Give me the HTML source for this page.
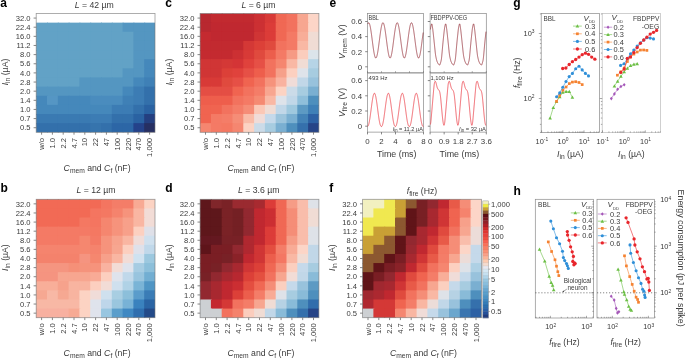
<!DOCTYPE html>
<html><head><meta charset="utf-8"><style>
html,body{margin:0;padding:0;background:#fff;overflow:hidden;}
svg{display:block;will-change:transform;}
text{font-family:"Liberation Sans", sans-serif;}
</style></head><body>
<svg width="685" height="358" viewBox="0 0 685 358">
<rect width="685" height="358" fill="#fff"/>
<rect x="36.20" y="13.50" width="11.80" height="10.14" fill="#ffffff"/>
<rect x="47.00" y="13.50" width="11.80" height="10.14" fill="#ffffff"/>
<rect x="57.80" y="13.50" width="11.80" height="10.14" fill="#ffffff"/>
<rect x="68.60" y="13.50" width="11.80" height="10.14" fill="#ffffff"/>
<rect x="79.40" y="13.50" width="11.80" height="10.14" fill="#ffffff"/>
<rect x="90.20" y="13.50" width="11.80" height="10.14" fill="#ffffff"/>
<rect x="101.00" y="13.50" width="11.80" height="10.14" fill="#ffffff"/>
<rect x="111.80" y="13.50" width="11.80" height="10.14" fill="#ffffff"/>
<rect x="122.60" y="13.50" width="11.80" height="10.14" fill="#ffffff"/>
<rect x="133.40" y="13.50" width="11.80" height="10.14" fill="#ffffff"/>
<rect x="144.20" y="13.50" width="10.80" height="10.14" fill="#ffffff"/>
<rect x="36.20" y="22.64" width="11.80" height="10.14" fill="#62a2c6"/>
<rect x="47.00" y="22.64" width="11.80" height="10.14" fill="#62a2c6"/>
<rect x="57.80" y="22.64" width="11.80" height="10.14" fill="#62a2c6"/>
<rect x="68.60" y="22.64" width="11.80" height="10.14" fill="#62a2c6"/>
<rect x="79.40" y="22.64" width="11.80" height="10.14" fill="#62a2c6"/>
<rect x="90.20" y="22.64" width="11.80" height="10.14" fill="#62a2c6"/>
<rect x="101.00" y="22.64" width="11.80" height="10.14" fill="#62a2c6"/>
<rect x="111.80" y="22.64" width="11.80" height="10.14" fill="#62a2c6"/>
<rect x="122.60" y="22.64" width="11.80" height="10.14" fill="#5496c1"/>
<rect x="133.40" y="22.64" width="11.80" height="10.14" fill="#5496c1"/>
<rect x="144.20" y="22.64" width="10.80" height="10.14" fill="#5496c1"/>
<rect x="36.20" y="31.78" width="11.80" height="10.14" fill="#62a2c6"/>
<rect x="47.00" y="31.78" width="11.80" height="10.14" fill="#62a2c6"/>
<rect x="57.80" y="31.78" width="11.80" height="10.14" fill="#62a2c6"/>
<rect x="68.60" y="31.78" width="11.80" height="10.14" fill="#62a2c6"/>
<rect x="79.40" y="31.78" width="11.80" height="10.14" fill="#62a2c6"/>
<rect x="90.20" y="31.78" width="11.80" height="10.14" fill="#62a2c6"/>
<rect x="101.00" y="31.78" width="11.80" height="10.14" fill="#62a2c6"/>
<rect x="111.80" y="31.78" width="11.80" height="10.14" fill="#62a2c6"/>
<rect x="122.60" y="31.78" width="11.80" height="10.14" fill="#62a2c6"/>
<rect x="133.40" y="31.78" width="11.80" height="10.14" fill="#5496c1"/>
<rect x="144.20" y="31.78" width="10.80" height="10.14" fill="#5496c1"/>
<rect x="36.20" y="40.92" width="11.80" height="10.14" fill="#62a2c6"/>
<rect x="47.00" y="40.92" width="11.80" height="10.14" fill="#62a2c6"/>
<rect x="57.80" y="40.92" width="11.80" height="10.14" fill="#62a2c6"/>
<rect x="68.60" y="40.92" width="11.80" height="10.14" fill="#62a2c6"/>
<rect x="79.40" y="40.92" width="11.80" height="10.14" fill="#62a2c6"/>
<rect x="90.20" y="40.92" width="11.80" height="10.14" fill="#62a2c6"/>
<rect x="101.00" y="40.92" width="11.80" height="10.14" fill="#62a2c6"/>
<rect x="111.80" y="40.92" width="11.80" height="10.14" fill="#62a2c6"/>
<rect x="122.60" y="40.92" width="11.80" height="10.14" fill="#62a2c6"/>
<rect x="133.40" y="40.92" width="11.80" height="10.14" fill="#5496c1"/>
<rect x="144.20" y="40.92" width="10.80" height="10.14" fill="#5496c1"/>
<rect x="36.20" y="50.05" width="11.80" height="10.14" fill="#62a2c6"/>
<rect x="47.00" y="50.05" width="11.80" height="10.14" fill="#62a2c6"/>
<rect x="57.80" y="50.05" width="11.80" height="10.14" fill="#62a2c6"/>
<rect x="68.60" y="50.05" width="11.80" height="10.14" fill="#62a2c6"/>
<rect x="79.40" y="50.05" width="11.80" height="10.14" fill="#62a2c6"/>
<rect x="90.20" y="50.05" width="11.80" height="10.14" fill="#62a2c6"/>
<rect x="101.00" y="50.05" width="11.80" height="10.14" fill="#62a2c6"/>
<rect x="111.80" y="50.05" width="11.80" height="10.14" fill="#62a2c6"/>
<rect x="122.60" y="50.05" width="11.80" height="10.14" fill="#62a2c6"/>
<rect x="133.40" y="50.05" width="11.80" height="10.14" fill="#5496c1"/>
<rect x="144.20" y="50.05" width="10.80" height="10.14" fill="#5496c1"/>
<rect x="36.20" y="59.19" width="11.80" height="10.14" fill="#62a2c6"/>
<rect x="47.00" y="59.19" width="11.80" height="10.14" fill="#62a2c6"/>
<rect x="57.80" y="59.19" width="11.80" height="10.14" fill="#62a2c6"/>
<rect x="68.60" y="59.19" width="11.80" height="10.14" fill="#62a2c6"/>
<rect x="79.40" y="59.19" width="11.80" height="10.14" fill="#62a2c6"/>
<rect x="90.20" y="59.19" width="11.80" height="10.14" fill="#62a2c6"/>
<rect x="101.00" y="59.19" width="11.80" height="10.14" fill="#62a2c6"/>
<rect x="111.80" y="59.19" width="11.80" height="10.14" fill="#62a2c6"/>
<rect x="122.60" y="59.19" width="11.80" height="10.14" fill="#62a2c6"/>
<rect x="133.40" y="59.19" width="11.80" height="10.14" fill="#5496c1"/>
<rect x="144.20" y="59.19" width="10.80" height="10.14" fill="#4588bb"/>
<rect x="36.20" y="68.33" width="11.80" height="10.14" fill="#62a2c6"/>
<rect x="47.00" y="68.33" width="11.80" height="10.14" fill="#62a2c6"/>
<rect x="57.80" y="68.33" width="11.80" height="10.14" fill="#62a2c6"/>
<rect x="68.60" y="68.33" width="11.80" height="10.14" fill="#62a2c6"/>
<rect x="79.40" y="68.33" width="11.80" height="10.14" fill="#62a2c6"/>
<rect x="90.20" y="68.33" width="11.80" height="10.14" fill="#62a2c6"/>
<rect x="101.00" y="68.33" width="11.80" height="10.14" fill="#62a2c6"/>
<rect x="111.80" y="68.33" width="11.80" height="10.14" fill="#62a2c6"/>
<rect x="122.60" y="68.33" width="11.80" height="10.14" fill="#5496c1"/>
<rect x="133.40" y="68.33" width="11.80" height="10.14" fill="#5496c1"/>
<rect x="144.20" y="68.33" width="10.80" height="10.14" fill="#4588bb"/>
<rect x="36.20" y="77.47" width="11.80" height="10.14" fill="#62a2c6"/>
<rect x="47.00" y="77.47" width="11.80" height="10.14" fill="#62a2c6"/>
<rect x="57.80" y="77.47" width="11.80" height="10.14" fill="#62a2c6"/>
<rect x="68.60" y="77.47" width="11.80" height="10.14" fill="#62a2c6"/>
<rect x="79.40" y="77.47" width="11.80" height="10.14" fill="#5496c1"/>
<rect x="90.20" y="77.47" width="11.80" height="10.14" fill="#5496c1"/>
<rect x="101.00" y="77.47" width="11.80" height="10.14" fill="#5496c1"/>
<rect x="111.80" y="77.47" width="11.80" height="10.14" fill="#5496c1"/>
<rect x="122.60" y="77.47" width="11.80" height="10.14" fill="#5496c1"/>
<rect x="133.40" y="77.47" width="11.80" height="10.14" fill="#4588bb"/>
<rect x="144.20" y="77.47" width="10.80" height="10.14" fill="#3f80b6"/>
<rect x="36.20" y="86.61" width="11.80" height="10.14" fill="#5496c1"/>
<rect x="47.00" y="86.61" width="11.80" height="10.14" fill="#5496c1"/>
<rect x="57.80" y="86.61" width="11.80" height="10.14" fill="#5496c1"/>
<rect x="68.60" y="86.61" width="11.80" height="10.14" fill="#5496c1"/>
<rect x="79.40" y="86.61" width="11.80" height="10.14" fill="#5496c1"/>
<rect x="90.20" y="86.61" width="11.80" height="10.14" fill="#5496c1"/>
<rect x="101.00" y="86.61" width="11.80" height="10.14" fill="#5496c1"/>
<rect x="111.80" y="86.61" width="11.80" height="10.14" fill="#5496c1"/>
<rect x="122.60" y="86.61" width="11.80" height="10.14" fill="#4588bb"/>
<rect x="133.40" y="86.61" width="11.80" height="10.14" fill="#3c7cb4"/>
<rect x="144.20" y="86.61" width="10.80" height="10.14" fill="#3370ab"/>
<rect x="36.20" y="95.75" width="11.80" height="10.14" fill="#4588bb"/>
<rect x="47.00" y="95.75" width="11.80" height="10.14" fill="#5596c4"/>
<rect x="57.80" y="95.75" width="11.80" height="10.14" fill="#4588bb"/>
<rect x="68.60" y="95.75" width="11.80" height="10.14" fill="#4588bb"/>
<rect x="79.40" y="95.75" width="11.80" height="10.14" fill="#4588bb"/>
<rect x="90.20" y="95.75" width="11.80" height="10.14" fill="#4a8cbe"/>
<rect x="101.00" y="95.75" width="11.80" height="10.14" fill="#4a8cbe"/>
<rect x="111.80" y="95.75" width="11.80" height="10.14" fill="#4a8cbe"/>
<rect x="122.60" y="95.75" width="11.80" height="10.14" fill="#3f80b6"/>
<rect x="133.40" y="95.75" width="11.80" height="10.14" fill="#3c7cb4"/>
<rect x="144.20" y="95.75" width="10.80" height="10.14" fill="#3370ab"/>
<rect x="36.20" y="104.88" width="11.80" height="10.14" fill="#4588bb"/>
<rect x="47.00" y="104.88" width="11.80" height="10.14" fill="#4588bb"/>
<rect x="57.80" y="104.88" width="11.80" height="10.14" fill="#4588bb"/>
<rect x="68.60" y="104.88" width="11.80" height="10.14" fill="#4588bb"/>
<rect x="79.40" y="104.88" width="11.80" height="10.14" fill="#4588bb"/>
<rect x="90.20" y="104.88" width="11.80" height="10.14" fill="#4588bb"/>
<rect x="101.00" y="104.88" width="11.80" height="10.14" fill="#4588bb"/>
<rect x="111.80" y="104.88" width="11.80" height="10.14" fill="#3c7cb4"/>
<rect x="122.60" y="104.88" width="11.80" height="10.14" fill="#3c7cb4"/>
<rect x="133.40" y="104.88" width="11.80" height="10.14" fill="#3370ab"/>
<rect x="144.20" y="104.88" width="10.80" height="10.14" fill="#2a62a2"/>
<rect x="36.20" y="114.02" width="11.80" height="10.14" fill="#3a7ab2"/>
<rect x="47.00" y="114.02" width="11.80" height="10.14" fill="#3a7ab2"/>
<rect x="57.80" y="114.02" width="11.80" height="10.14" fill="#3a7ab2"/>
<rect x="68.60" y="114.02" width="11.80" height="10.14" fill="#3a7ab2"/>
<rect x="79.40" y="114.02" width="11.80" height="10.14" fill="#3a7ab2"/>
<rect x="90.20" y="114.02" width="11.80" height="10.14" fill="#3c7cb4"/>
<rect x="101.00" y="114.02" width="11.80" height="10.14" fill="#3c7cb4"/>
<rect x="111.80" y="114.02" width="11.80" height="10.14" fill="#3370ab"/>
<rect x="122.60" y="114.02" width="11.80" height="10.14" fill="#3370ab"/>
<rect x="133.40" y="114.02" width="11.80" height="10.14" fill="#2a62a2"/>
<rect x="144.20" y="114.02" width="10.80" height="10.14" fill="#243f80"/>
<rect x="36.20" y="123.16" width="11.80" height="9.14" fill="#3370ab"/>
<rect x="47.00" y="123.16" width="11.80" height="9.14" fill="#3370ab"/>
<rect x="57.80" y="123.16" width="11.80" height="9.14" fill="#3370ab"/>
<rect x="68.60" y="123.16" width="11.80" height="9.14" fill="#3370ab"/>
<rect x="79.40" y="123.16" width="11.80" height="9.14" fill="#3370ab"/>
<rect x="90.20" y="123.16" width="11.80" height="9.14" fill="#3674ad"/>
<rect x="101.00" y="123.16" width="11.80" height="9.14" fill="#3370ab"/>
<rect x="111.80" y="123.16" width="11.80" height="9.14" fill="#2c66a6"/>
<rect x="122.60" y="123.16" width="11.80" height="9.14" fill="#2c66a6"/>
<rect x="133.40" y="123.16" width="11.80" height="9.14" fill="#24428a"/>
<rect x="144.20" y="123.16" width="10.80" height="9.14" fill="#262f62"/>
<rect x="36.20" y="13.50" width="118.80" height="118.80" fill="none" stroke="#777" stroke-opacity="0.75" stroke-width="0.8"/>
<line x1="33.60" y1="18.07" x2="36.20" y2="18.07" stroke="#555" stroke-width="0.7"/>
<text x="30.60" y="20.77" text-anchor="end" fill="#3a3a3a" style="font-size:7.6px;">32.0</text>
<line x1="33.60" y1="27.21" x2="36.20" y2="27.21" stroke="#555" stroke-width="0.7"/>
<text x="30.60" y="29.91" text-anchor="end" fill="#3a3a3a" style="font-size:7.6px;">22.4</text>
<line x1="33.60" y1="36.35" x2="36.20" y2="36.35" stroke="#555" stroke-width="0.7"/>
<text x="30.60" y="39.05" text-anchor="end" fill="#3a3a3a" style="font-size:7.6px;">16.0</text>
<line x1="33.60" y1="45.48" x2="36.20" y2="45.48" stroke="#555" stroke-width="0.7"/>
<text x="30.60" y="48.18" text-anchor="end" fill="#3a3a3a" style="font-size:7.6px;">11.2</text>
<line x1="33.60" y1="54.62" x2="36.20" y2="54.62" stroke="#555" stroke-width="0.7"/>
<text x="30.60" y="57.32" text-anchor="end" fill="#3a3a3a" style="font-size:7.6px;">8.0</text>
<line x1="33.60" y1="63.76" x2="36.20" y2="63.76" stroke="#555" stroke-width="0.7"/>
<text x="30.60" y="66.46" text-anchor="end" fill="#3a3a3a" style="font-size:7.6px;">5.6</text>
<line x1="33.60" y1="72.90" x2="36.20" y2="72.90" stroke="#555" stroke-width="0.7"/>
<text x="30.60" y="75.60" text-anchor="end" fill="#3a3a3a" style="font-size:7.6px;">4.0</text>
<line x1="33.60" y1="82.04" x2="36.20" y2="82.04" stroke="#555" stroke-width="0.7"/>
<text x="30.60" y="84.74" text-anchor="end" fill="#3a3a3a" style="font-size:7.6px;">2.8</text>
<line x1="33.60" y1="91.18" x2="36.20" y2="91.18" stroke="#555" stroke-width="0.7"/>
<text x="30.60" y="93.88" text-anchor="end" fill="#3a3a3a" style="font-size:7.6px;">2.0</text>
<line x1="33.60" y1="100.32" x2="36.20" y2="100.32" stroke="#555" stroke-width="0.7"/>
<text x="30.60" y="103.02" text-anchor="end" fill="#3a3a3a" style="font-size:7.6px;">1.4</text>
<line x1="33.60" y1="109.45" x2="36.20" y2="109.45" stroke="#555" stroke-width="0.7"/>
<text x="30.60" y="112.15" text-anchor="end" fill="#3a3a3a" style="font-size:7.6px;">1.0</text>
<line x1="33.60" y1="118.59" x2="36.20" y2="118.59" stroke="#555" stroke-width="0.7"/>
<text x="30.60" y="121.29" text-anchor="end" fill="#3a3a3a" style="font-size:7.6px;">0.7</text>
<line x1="33.60" y1="127.73" x2="36.20" y2="127.73" stroke="#555" stroke-width="0.7"/>
<text x="30.60" y="130.43" text-anchor="end" fill="#3a3a3a" style="font-size:7.6px;">0.5</text>
<line x1="41.60" y1="132.30" x2="41.60" y2="134.70" stroke="#555" stroke-width="0.7"/>
<text x="44.30" y="137.90" text-anchor="end" fill="#3a3a3a" style="font-size:7.6px;" transform="rotate(-90 44.30 137.90)">w/o</text>
<line x1="52.40" y1="132.30" x2="52.40" y2="134.70" stroke="#555" stroke-width="0.7"/>
<text x="55.10" y="137.90" text-anchor="end" fill="#3a3a3a" style="font-size:7.6px;" transform="rotate(-90 55.10 137.90)">1.0</text>
<line x1="63.20" y1="132.30" x2="63.20" y2="134.70" stroke="#555" stroke-width="0.7"/>
<text x="65.90" y="137.90" text-anchor="end" fill="#3a3a3a" style="font-size:7.6px;" transform="rotate(-90 65.90 137.90)">2.2</text>
<line x1="74.00" y1="132.30" x2="74.00" y2="134.70" stroke="#555" stroke-width="0.7"/>
<text x="76.70" y="137.90" text-anchor="end" fill="#3a3a3a" style="font-size:7.6px;" transform="rotate(-90 76.70 137.90)">4.7</text>
<line x1="84.80" y1="132.30" x2="84.80" y2="134.70" stroke="#555" stroke-width="0.7"/>
<text x="87.50" y="137.90" text-anchor="end" fill="#3a3a3a" style="font-size:7.6px;" transform="rotate(-90 87.50 137.90)">10</text>
<line x1="95.60" y1="132.30" x2="95.60" y2="134.70" stroke="#555" stroke-width="0.7"/>
<text x="98.30" y="137.90" text-anchor="end" fill="#3a3a3a" style="font-size:7.6px;" transform="rotate(-90 98.30 137.90)">22</text>
<line x1="106.40" y1="132.30" x2="106.40" y2="134.70" stroke="#555" stroke-width="0.7"/>
<text x="109.10" y="137.90" text-anchor="end" fill="#3a3a3a" style="font-size:7.6px;" transform="rotate(-90 109.10 137.90)">47</text>
<line x1="117.20" y1="132.30" x2="117.20" y2="134.70" stroke="#555" stroke-width="0.7"/>
<text x="119.90" y="137.90" text-anchor="end" fill="#3a3a3a" style="font-size:7.6px;" transform="rotate(-90 119.90 137.90)">100</text>
<line x1="128.00" y1="132.30" x2="128.00" y2="134.70" stroke="#555" stroke-width="0.7"/>
<text x="130.70" y="137.90" text-anchor="end" fill="#3a3a3a" style="font-size:7.6px;" transform="rotate(-90 130.70 137.90)">220</text>
<line x1="138.80" y1="132.30" x2="138.80" y2="134.70" stroke="#555" stroke-width="0.7"/>
<text x="141.50" y="137.90" text-anchor="end" fill="#3a3a3a" style="font-size:7.6px;" transform="rotate(-90 141.50 137.90)">470</text>
<line x1="149.60" y1="132.30" x2="149.60" y2="134.70" stroke="#555" stroke-width="0.7"/>
<text x="152.30" y="137.90" text-anchor="end" fill="#3a3a3a" style="font-size:7.6px;" transform="rotate(-90 152.30 137.90)">1,000</text>
<text x="97.10" y="170.50" text-anchor="middle" fill="#3a3a3a" style="font-size:8.7px;"><tspan font-style="italic">C</tspan><tspan font-size="6.7px" dy="2.0">mem</tspan><tspan dy="-2.0"> and </tspan><tspan font-style="italic">C</tspan><tspan font-size="6.7px" dy="2.0">f</tspan><tspan dy="-2.0"> (nF)</tspan></text>
<text x="8.20" y="72.00" text-anchor="middle" fill="#3a3a3a" transform="rotate(-90 8.20 72.00)" style="font-size:8.7px;"><tspan font-style="italic">I</tspan><tspan font-size="6.7px" dy="2.0">in</tspan><tspan dy="-2.0"> (µA)</tspan></text>
<text x="94.20" y="7.70" text-anchor="middle" fill="#3a3a3a" style="font-size:8.7px;"><tspan font-style="italic">L</tspan> = 42 µm</text>
<rect x="200.10" y="13.50" width="11.80" height="10.14" fill="#b82830"/>
<rect x="210.90" y="13.50" width="11.80" height="10.14" fill="#c22a30"/>
<rect x="221.70" y="13.50" width="11.80" height="10.14" fill="#c22a30"/>
<rect x="232.50" y="13.50" width="11.80" height="10.14" fill="#c22a30"/>
<rect x="243.30" y="13.50" width="11.80" height="10.14" fill="#c22a30"/>
<rect x="254.10" y="13.50" width="11.80" height="10.14" fill="#cc3033"/>
<rect x="264.90" y="13.50" width="11.80" height="10.14" fill="#d83a37"/>
<rect x="275.70" y="13.50" width="11.80" height="10.14" fill="#f06854"/>
<rect x="286.50" y="13.50" width="11.80" height="10.14" fill="#f2725e"/>
<rect x="297.30" y="13.50" width="11.80" height="10.14" fill="#f7a690"/>
<rect x="308.10" y="13.50" width="10.80" height="10.14" fill="#fcd5c7"/>
<rect x="200.10" y="22.64" width="11.80" height="10.14" fill="#b82830"/>
<rect x="210.90" y="22.64" width="11.80" height="10.14" fill="#c02830"/>
<rect x="221.70" y="22.64" width="11.80" height="10.14" fill="#c02830"/>
<rect x="232.50" y="22.64" width="11.80" height="10.14" fill="#c02830"/>
<rect x="243.30" y="22.64" width="11.80" height="10.14" fill="#c02830"/>
<rect x="254.10" y="22.64" width="11.80" height="10.14" fill="#cc3033"/>
<rect x="264.90" y="22.64" width="11.80" height="10.14" fill="#dc3c38"/>
<rect x="275.70" y="22.64" width="11.80" height="10.14" fill="#f06854"/>
<rect x="286.50" y="22.64" width="11.80" height="10.14" fill="#f2725e"/>
<rect x="297.30" y="22.64" width="11.80" height="10.14" fill="#f7a690"/>
<rect x="308.10" y="22.64" width="10.80" height="10.14" fill="#fcd5c7"/>
<rect x="200.10" y="31.78" width="11.80" height="10.14" fill="#c42a30"/>
<rect x="210.90" y="31.78" width="11.80" height="10.14" fill="#c02830"/>
<rect x="221.70" y="31.78" width="11.80" height="10.14" fill="#c02830"/>
<rect x="232.50" y="31.78" width="11.80" height="10.14" fill="#c02830"/>
<rect x="243.30" y="31.78" width="11.80" height="10.14" fill="#c02830"/>
<rect x="254.10" y="31.78" width="11.80" height="10.14" fill="#d03535"/>
<rect x="264.90" y="31.78" width="11.80" height="10.14" fill="#dc3c38"/>
<rect x="275.70" y="31.78" width="11.80" height="10.14" fill="#f06854"/>
<rect x="286.50" y="31.78" width="11.80" height="10.14" fill="#f47a65"/>
<rect x="297.30" y="31.78" width="11.80" height="10.14" fill="#f8ad98"/>
<rect x="308.10" y="31.78" width="10.80" height="10.14" fill="#f0dcd4"/>
<rect x="200.10" y="40.92" width="11.80" height="10.14" fill="#c22a30"/>
<rect x="210.90" y="40.92" width="11.80" height="10.14" fill="#c22a30"/>
<rect x="221.70" y="40.92" width="11.80" height="10.14" fill="#c22a30"/>
<rect x="232.50" y="40.92" width="11.80" height="10.14" fill="#c22a30"/>
<rect x="243.30" y="40.92" width="11.80" height="10.14" fill="#d43836"/>
<rect x="254.10" y="40.92" width="11.80" height="10.14" fill="#dc4038"/>
<rect x="264.90" y="40.92" width="11.80" height="10.14" fill="#e04a3e"/>
<rect x="275.70" y="40.92" width="11.80" height="10.14" fill="#f2725e"/>
<rect x="286.50" y="40.92" width="11.80" height="10.14" fill="#f47a65"/>
<rect x="297.30" y="40.92" width="11.80" height="10.14" fill="#f9b8a4"/>
<rect x="308.10" y="40.92" width="10.80" height="10.14" fill="#f0dcd4"/>
<rect x="200.10" y="50.05" width="11.80" height="10.14" fill="#c42a30"/>
<rect x="210.90" y="50.05" width="11.80" height="10.14" fill="#c42a30"/>
<rect x="221.70" y="50.05" width="11.80" height="10.14" fill="#c42a30"/>
<rect x="232.50" y="50.05" width="11.80" height="10.14" fill="#cc3033"/>
<rect x="243.30" y="50.05" width="11.80" height="10.14" fill="#d83a37"/>
<rect x="254.10" y="50.05" width="11.80" height="10.14" fill="#e04a3e"/>
<rect x="264.90" y="50.05" width="11.80" height="10.14" fill="#ec5e4c"/>
<rect x="275.70" y="50.05" width="11.80" height="10.14" fill="#f47a65"/>
<rect x="286.50" y="50.05" width="11.80" height="10.14" fill="#f69a84"/>
<rect x="297.30" y="50.05" width="11.80" height="10.14" fill="#fbcdbd"/>
<rect x="308.10" y="50.05" width="10.80" height="10.14" fill="#dce4ea"/>
<rect x="200.10" y="59.19" width="11.80" height="10.14" fill="#d03535"/>
<rect x="210.90" y="59.19" width="11.80" height="10.14" fill="#d03535"/>
<rect x="221.70" y="59.19" width="11.80" height="10.14" fill="#d43836"/>
<rect x="232.50" y="59.19" width="11.80" height="10.14" fill="#d43436"/>
<rect x="243.30" y="59.19" width="11.80" height="10.14" fill="#e0423c"/>
<rect x="254.10" y="59.19" width="11.80" height="10.14" fill="#e65046"/>
<rect x="264.90" y="59.19" width="11.80" height="10.14" fill="#f2725e"/>
<rect x="275.70" y="59.19" width="11.80" height="10.14" fill="#f5866f"/>
<rect x="286.50" y="59.19" width="11.80" height="10.14" fill="#f9b8a4"/>
<rect x="297.30" y="59.19" width="11.80" height="10.14" fill="#f0dcd4"/>
<rect x="308.10" y="59.19" width="10.80" height="10.14" fill="#b6d4e6"/>
<rect x="200.10" y="68.33" width="11.80" height="10.14" fill="#d03535"/>
<rect x="210.90" y="68.33" width="11.80" height="10.14" fill="#d03535"/>
<rect x="221.70" y="68.33" width="11.80" height="10.14" fill="#dc4038"/>
<rect x="232.50" y="68.33" width="11.80" height="10.14" fill="#e0423c"/>
<rect x="243.30" y="68.33" width="11.80" height="10.14" fill="#e65046"/>
<rect x="254.10" y="68.33" width="11.80" height="10.14" fill="#ee5e4c"/>
<rect x="264.90" y="68.33" width="11.80" height="10.14" fill="#f2725e"/>
<rect x="275.70" y="68.33" width="11.80" height="10.14" fill="#f6a08a"/>
<rect x="286.50" y="68.33" width="11.80" height="10.14" fill="#fcd0c0"/>
<rect x="297.30" y="68.33" width="11.80" height="10.14" fill="#dee3ea"/>
<rect x="308.10" y="68.33" width="10.80" height="10.14" fill="#a7cce0"/>
<rect x="200.10" y="77.47" width="11.80" height="10.14" fill="#d83a37"/>
<rect x="210.90" y="77.47" width="11.80" height="10.14" fill="#d83a37"/>
<rect x="221.70" y="77.47" width="11.80" height="10.14" fill="#e04a3e"/>
<rect x="232.50" y="77.47" width="11.80" height="10.14" fill="#e65046"/>
<rect x="243.30" y="77.47" width="11.80" height="10.14" fill="#f06450"/>
<rect x="254.10" y="77.47" width="11.80" height="10.14" fill="#f2725e"/>
<rect x="264.90" y="77.47" width="11.80" height="10.14" fill="#f6937c"/>
<rect x="275.70" y="77.47" width="11.80" height="10.14" fill="#f9b2a0"/>
<rect x="286.50" y="77.47" width="11.80" height="10.14" fill="#f0dcd8"/>
<rect x="297.30" y="77.47" width="11.80" height="10.14" fill="#c1d7e8"/>
<rect x="308.10" y="77.47" width="10.80" height="10.14" fill="#98c2dc"/>
<rect x="200.10" y="86.61" width="11.80" height="10.14" fill="#e44e44"/>
<rect x="210.90" y="86.61" width="11.80" height="10.14" fill="#e44e44"/>
<rect x="221.70" y="86.61" width="11.80" height="10.14" fill="#e44e44"/>
<rect x="232.50" y="86.61" width="11.80" height="10.14" fill="#f06450"/>
<rect x="243.30" y="86.61" width="11.80" height="10.14" fill="#f2725e"/>
<rect x="254.10" y="86.61" width="11.80" height="10.14" fill="#f47d68"/>
<rect x="264.90" y="86.61" width="11.80" height="10.14" fill="#f8a690"/>
<rect x="275.70" y="86.61" width="11.80" height="10.14" fill="#fcd3c3"/>
<rect x="286.50" y="86.61" width="11.80" height="10.14" fill="#cbdbe8"/>
<rect x="297.30" y="86.61" width="11.80" height="10.14" fill="#a7cce0"/>
<rect x="308.10" y="86.61" width="10.80" height="10.14" fill="#7aafd1"/>
<rect x="200.10" y="95.75" width="11.80" height="10.14" fill="#ee5e4c"/>
<rect x="210.90" y="95.75" width="11.80" height="10.14" fill="#ee5e4c"/>
<rect x="221.70" y="95.75" width="11.80" height="10.14" fill="#ee5e4c"/>
<rect x="232.50" y="95.75" width="11.80" height="10.14" fill="#f2725e"/>
<rect x="243.30" y="95.75" width="11.80" height="10.14" fill="#f47a65"/>
<rect x="254.10" y="95.75" width="11.80" height="10.14" fill="#f58a72"/>
<rect x="264.90" y="95.75" width="11.80" height="10.14" fill="#f9b8a4"/>
<rect x="275.70" y="95.75" width="11.80" height="10.14" fill="#dee3ea"/>
<rect x="286.50" y="95.75" width="11.80" height="10.14" fill="#c1d7e8"/>
<rect x="297.30" y="95.75" width="11.80" height="10.14" fill="#90bfda"/>
<rect x="308.10" y="95.75" width="10.80" height="10.14" fill="#4e8fbd"/>
<rect x="200.10" y="104.88" width="11.80" height="10.14" fill="#f06450"/>
<rect x="210.90" y="104.88" width="11.80" height="10.14" fill="#f06450"/>
<rect x="221.70" y="104.88" width="11.80" height="10.14" fill="#f2725e"/>
<rect x="232.50" y="104.88" width="11.80" height="10.14" fill="#f47d68"/>
<rect x="243.30" y="104.88" width="11.80" height="10.14" fill="#f58d77"/>
<rect x="254.10" y="104.88" width="11.80" height="10.14" fill="#fbc8b6"/>
<rect x="264.90" y="104.88" width="11.80" height="10.14" fill="#f0dcd4"/>
<rect x="275.70" y="104.88" width="11.80" height="10.14" fill="#c1d7e8"/>
<rect x="286.50" y="104.88" width="11.80" height="10.14" fill="#9fc8de"/>
<rect x="297.30" y="104.88" width="11.80" height="10.14" fill="#5d9ac3"/>
<rect x="308.10" y="104.88" width="10.80" height="10.14" fill="#3f80b7"/>
<rect x="200.10" y="114.02" width="11.80" height="10.14" fill="#f06450"/>
<rect x="210.90" y="114.02" width="11.80" height="10.14" fill="#f47a65"/>
<rect x="221.70" y="114.02" width="11.80" height="10.14" fill="#f47d68"/>
<rect x="232.50" y="114.02" width="11.80" height="10.14" fill="#f58d77"/>
<rect x="243.30" y="114.02" width="11.80" height="10.14" fill="#f9bca8"/>
<rect x="254.10" y="114.02" width="11.80" height="10.14" fill="#f0dcd8"/>
<rect x="264.90" y="114.02" width="11.80" height="10.14" fill="#c5d9ea"/>
<rect x="275.70" y="114.02" width="11.80" height="10.14" fill="#9cc4dc"/>
<rect x="286.50" y="114.02" width="11.80" height="10.14" fill="#7aafd1"/>
<rect x="297.30" y="114.02" width="11.80" height="10.14" fill="#4483b7"/>
<rect x="308.10" y="114.02" width="10.80" height="10.14" fill="#2d61a4"/>
<rect x="200.10" y="123.16" width="11.80" height="9.14" fill="#f58670"/>
<rect x="210.90" y="123.16" width="11.80" height="9.14" fill="#f47a65"/>
<rect x="221.70" y="123.16" width="11.80" height="9.14" fill="#f47862"/>
<rect x="232.50" y="123.16" width="11.80" height="9.14" fill="#f58670"/>
<rect x="243.30" y="123.16" width="11.80" height="9.14" fill="#fcd3c3"/>
<rect x="254.10" y="123.16" width="11.80" height="9.14" fill="#cbdbe8"/>
<rect x="264.90" y="123.16" width="11.80" height="9.14" fill="#a7cce0"/>
<rect x="275.70" y="123.16" width="11.80" height="9.14" fill="#7aafd1"/>
<rect x="286.50" y="123.16" width="11.80" height="9.14" fill="#4e8fbd"/>
<rect x="297.30" y="123.16" width="11.80" height="9.14" fill="#3570ac"/>
<rect x="308.10" y="123.16" width="10.80" height="9.14" fill="#264487"/>
<rect x="200.10" y="13.50" width="118.80" height="118.80" fill="none" stroke="#777" stroke-opacity="0.75" stroke-width="0.8"/>
<line x1="197.50" y1="18.07" x2="200.10" y2="18.07" stroke="#555" stroke-width="0.7"/>
<text x="194.50" y="20.77" text-anchor="end" fill="#3a3a3a" style="font-size:7.6px;">32.0</text>
<line x1="197.50" y1="27.21" x2="200.10" y2="27.21" stroke="#555" stroke-width="0.7"/>
<text x="194.50" y="29.91" text-anchor="end" fill="#3a3a3a" style="font-size:7.6px;">22.4</text>
<line x1="197.50" y1="36.35" x2="200.10" y2="36.35" stroke="#555" stroke-width="0.7"/>
<text x="194.50" y="39.05" text-anchor="end" fill="#3a3a3a" style="font-size:7.6px;">16.0</text>
<line x1="197.50" y1="45.48" x2="200.10" y2="45.48" stroke="#555" stroke-width="0.7"/>
<text x="194.50" y="48.18" text-anchor="end" fill="#3a3a3a" style="font-size:7.6px;">11.2</text>
<line x1="197.50" y1="54.62" x2="200.10" y2="54.62" stroke="#555" stroke-width="0.7"/>
<text x="194.50" y="57.32" text-anchor="end" fill="#3a3a3a" style="font-size:7.6px;">8.0</text>
<line x1="197.50" y1="63.76" x2="200.10" y2="63.76" stroke="#555" stroke-width="0.7"/>
<text x="194.50" y="66.46" text-anchor="end" fill="#3a3a3a" style="font-size:7.6px;">5.6</text>
<line x1="197.50" y1="72.90" x2="200.10" y2="72.90" stroke="#555" stroke-width="0.7"/>
<text x="194.50" y="75.60" text-anchor="end" fill="#3a3a3a" style="font-size:7.6px;">4.0</text>
<line x1="197.50" y1="82.04" x2="200.10" y2="82.04" stroke="#555" stroke-width="0.7"/>
<text x="194.50" y="84.74" text-anchor="end" fill="#3a3a3a" style="font-size:7.6px;">2.8</text>
<line x1="197.50" y1="91.18" x2="200.10" y2="91.18" stroke="#555" stroke-width="0.7"/>
<text x="194.50" y="93.88" text-anchor="end" fill="#3a3a3a" style="font-size:7.6px;">2.0</text>
<line x1="197.50" y1="100.32" x2="200.10" y2="100.32" stroke="#555" stroke-width="0.7"/>
<text x="194.50" y="103.02" text-anchor="end" fill="#3a3a3a" style="font-size:7.6px;">1.4</text>
<line x1="197.50" y1="109.45" x2="200.10" y2="109.45" stroke="#555" stroke-width="0.7"/>
<text x="194.50" y="112.15" text-anchor="end" fill="#3a3a3a" style="font-size:7.6px;">1.0</text>
<line x1="197.50" y1="118.59" x2="200.10" y2="118.59" stroke="#555" stroke-width="0.7"/>
<text x="194.50" y="121.29" text-anchor="end" fill="#3a3a3a" style="font-size:7.6px;">0.7</text>
<line x1="197.50" y1="127.73" x2="200.10" y2="127.73" stroke="#555" stroke-width="0.7"/>
<text x="194.50" y="130.43" text-anchor="end" fill="#3a3a3a" style="font-size:7.6px;">0.5</text>
<line x1="205.50" y1="132.30" x2="205.50" y2="134.70" stroke="#555" stroke-width="0.7"/>
<text x="208.20" y="137.90" text-anchor="end" fill="#3a3a3a" style="font-size:7.6px;" transform="rotate(-90 208.20 137.90)">w/o</text>
<line x1="216.30" y1="132.30" x2="216.30" y2="134.70" stroke="#555" stroke-width="0.7"/>
<text x="219.00" y="137.90" text-anchor="end" fill="#3a3a3a" style="font-size:7.6px;" transform="rotate(-90 219.00 137.90)">1.0</text>
<line x1="227.10" y1="132.30" x2="227.10" y2="134.70" stroke="#555" stroke-width="0.7"/>
<text x="229.80" y="137.90" text-anchor="end" fill="#3a3a3a" style="font-size:7.6px;" transform="rotate(-90 229.80 137.90)">2.2</text>
<line x1="237.90" y1="132.30" x2="237.90" y2="134.70" stroke="#555" stroke-width="0.7"/>
<text x="240.60" y="137.90" text-anchor="end" fill="#3a3a3a" style="font-size:7.6px;" transform="rotate(-90 240.60 137.90)">4.7</text>
<line x1="248.70" y1="132.30" x2="248.70" y2="134.70" stroke="#555" stroke-width="0.7"/>
<text x="251.40" y="137.90" text-anchor="end" fill="#3a3a3a" style="font-size:7.6px;" transform="rotate(-90 251.40 137.90)">10</text>
<line x1="259.50" y1="132.30" x2="259.50" y2="134.70" stroke="#555" stroke-width="0.7"/>
<text x="262.20" y="137.90" text-anchor="end" fill="#3a3a3a" style="font-size:7.6px;" transform="rotate(-90 262.20 137.90)">22</text>
<line x1="270.30" y1="132.30" x2="270.30" y2="134.70" stroke="#555" stroke-width="0.7"/>
<text x="273.00" y="137.90" text-anchor="end" fill="#3a3a3a" style="font-size:7.6px;" transform="rotate(-90 273.00 137.90)">47</text>
<line x1="281.10" y1="132.30" x2="281.10" y2="134.70" stroke="#555" stroke-width="0.7"/>
<text x="283.80" y="137.90" text-anchor="end" fill="#3a3a3a" style="font-size:7.6px;" transform="rotate(-90 283.80 137.90)">100</text>
<line x1="291.90" y1="132.30" x2="291.90" y2="134.70" stroke="#555" stroke-width="0.7"/>
<text x="294.60" y="137.90" text-anchor="end" fill="#3a3a3a" style="font-size:7.6px;" transform="rotate(-90 294.60 137.90)">220</text>
<line x1="302.70" y1="132.30" x2="302.70" y2="134.70" stroke="#555" stroke-width="0.7"/>
<text x="305.40" y="137.90" text-anchor="end" fill="#3a3a3a" style="font-size:7.6px;" transform="rotate(-90 305.40 137.90)">470</text>
<line x1="313.50" y1="132.30" x2="313.50" y2="134.70" stroke="#555" stroke-width="0.7"/>
<text x="316.20" y="137.90" text-anchor="end" fill="#3a3a3a" style="font-size:7.6px;" transform="rotate(-90 316.20 137.90)">1,000</text>
<text x="261.00" y="170.50" text-anchor="middle" fill="#3a3a3a" style="font-size:8.7px;"><tspan font-style="italic">C</tspan><tspan font-size="6.7px" dy="2.0">mem</tspan><tspan dy="-2.0"> and </tspan><tspan font-style="italic">C</tspan><tspan font-size="6.7px" dy="2.0">f</tspan><tspan dy="-2.0"> (nF)</tspan></text>
<text x="172.10" y="72.00" text-anchor="middle" fill="#3a3a3a" transform="rotate(-90 172.10 72.00)" style="font-size:8.7px;"><tspan font-style="italic">I</tspan><tspan font-size="6.7px" dy="2.0">in</tspan><tspan dy="-2.0"> (µA)</tspan></text>
<text x="258.50" y="7.70" text-anchor="middle" fill="#3a3a3a" style="font-size:8.7px;"><tspan font-style="italic">L</tspan> = 6 µm</text>
<rect x="36.20" y="199.30" width="11.80" height="10.11" fill="#f26a55"/>
<rect x="47.00" y="199.30" width="11.80" height="10.11" fill="#f26a55"/>
<rect x="57.80" y="199.30" width="11.80" height="10.11" fill="#f26a55"/>
<rect x="68.60" y="199.30" width="11.80" height="10.11" fill="#f26a55"/>
<rect x="79.40" y="199.30" width="11.80" height="10.11" fill="#f26a55"/>
<rect x="90.20" y="199.30" width="11.80" height="10.11" fill="#f26a55"/>
<rect x="101.00" y="199.30" width="11.80" height="10.11" fill="#f47560"/>
<rect x="111.80" y="199.30" width="11.80" height="10.11" fill="#f47d68"/>
<rect x="122.60" y="199.30" width="11.80" height="10.11" fill="#f47d68"/>
<rect x="133.40" y="199.30" width="11.80" height="10.11" fill="#f8aa94"/>
<rect x="144.20" y="199.30" width="10.80" height="10.11" fill="#fcd3c3"/>
<rect x="36.20" y="208.41" width="11.80" height="10.11" fill="#f26a55"/>
<rect x="47.00" y="208.41" width="11.80" height="10.11" fill="#f26a55"/>
<rect x="57.80" y="208.41" width="11.80" height="10.11" fill="#f26a55"/>
<rect x="68.60" y="208.41" width="11.80" height="10.11" fill="#f26a55"/>
<rect x="79.40" y="208.41" width="11.80" height="10.11" fill="#f26a55"/>
<rect x="90.20" y="208.41" width="11.80" height="10.11" fill="#f47560"/>
<rect x="101.00" y="208.41" width="11.80" height="10.11" fill="#f47862"/>
<rect x="111.80" y="208.41" width="11.80" height="10.11" fill="#f5836d"/>
<rect x="122.60" y="208.41" width="11.80" height="10.11" fill="#f6937c"/>
<rect x="133.40" y="208.41" width="11.80" height="10.11" fill="#f9b6a2"/>
<rect x="144.20" y="208.41" width="10.80" height="10.11" fill="#f2dcd6"/>
<rect x="36.20" y="217.52" width="11.80" height="10.11" fill="#f26a55"/>
<rect x="47.00" y="217.52" width="11.80" height="10.11" fill="#f26a55"/>
<rect x="57.80" y="217.52" width="11.80" height="10.11" fill="#f26a55"/>
<rect x="68.60" y="217.52" width="11.80" height="10.11" fill="#f26a55"/>
<rect x="79.40" y="217.52" width="11.80" height="10.11" fill="#f47862"/>
<rect x="90.20" y="217.52" width="11.80" height="10.11" fill="#f47560"/>
<rect x="101.00" y="217.52" width="11.80" height="10.11" fill="#f5866f"/>
<rect x="111.80" y="217.52" width="11.80" height="10.11" fill="#f6937c"/>
<rect x="122.60" y="217.52" width="11.80" height="10.11" fill="#f7a08a"/>
<rect x="133.40" y="217.52" width="11.80" height="10.11" fill="#f9b6a2"/>
<rect x="144.20" y="217.52" width="10.80" height="10.11" fill="#f2dcd6"/>
<rect x="36.20" y="226.62" width="11.80" height="10.11" fill="#f47a65"/>
<rect x="47.00" y="226.62" width="11.80" height="10.11" fill="#f47a65"/>
<rect x="57.80" y="226.62" width="11.80" height="10.11" fill="#f47a65"/>
<rect x="68.60" y="226.62" width="11.80" height="10.11" fill="#f47a65"/>
<rect x="79.40" y="226.62" width="11.80" height="10.11" fill="#f47a65"/>
<rect x="90.20" y="226.62" width="11.80" height="10.11" fill="#f47862"/>
<rect x="101.00" y="226.62" width="11.80" height="10.11" fill="#f5866f"/>
<rect x="111.80" y="226.62" width="11.80" height="10.11" fill="#f6937c"/>
<rect x="122.60" y="226.62" width="11.80" height="10.11" fill="#f7a08a"/>
<rect x="133.40" y="226.62" width="11.80" height="10.11" fill="#fcd0c0"/>
<rect x="144.20" y="226.62" width="10.80" height="10.11" fill="#dfe0e8"/>
<rect x="36.20" y="235.73" width="11.80" height="10.11" fill="#f47a65"/>
<rect x="47.00" y="235.73" width="11.80" height="10.11" fill="#f47a65"/>
<rect x="57.80" y="235.73" width="11.80" height="10.11" fill="#f47a65"/>
<rect x="68.60" y="235.73" width="11.80" height="10.11" fill="#f47a65"/>
<rect x="79.40" y="235.73" width="11.80" height="10.11" fill="#f5876f"/>
<rect x="90.20" y="235.73" width="11.80" height="10.11" fill="#f47a65"/>
<rect x="101.00" y="235.73" width="11.80" height="10.11" fill="#f6937c"/>
<rect x="111.80" y="235.73" width="11.80" height="10.11" fill="#f7a38d"/>
<rect x="122.60" y="235.73" width="11.80" height="10.11" fill="#f9b6a2"/>
<rect x="133.40" y="235.73" width="11.80" height="10.11" fill="#f0dcd8"/>
<rect x="144.20" y="235.73" width="10.80" height="10.11" fill="#cfe0ee"/>
<rect x="36.20" y="244.84" width="11.80" height="10.11" fill="#f5846e"/>
<rect x="47.00" y="244.84" width="11.80" height="10.11" fill="#f5846e"/>
<rect x="57.80" y="244.84" width="11.80" height="10.11" fill="#f5846e"/>
<rect x="68.60" y="244.84" width="11.80" height="10.11" fill="#f5846e"/>
<rect x="79.40" y="244.84" width="11.80" height="10.11" fill="#f5876f"/>
<rect x="90.20" y="244.84" width="11.80" height="10.11" fill="#f5836d"/>
<rect x="101.00" y="244.84" width="11.80" height="10.11" fill="#f6937c"/>
<rect x="111.80" y="244.84" width="11.80" height="10.11" fill="#f7a690"/>
<rect x="122.60" y="244.84" width="11.80" height="10.11" fill="#fccfbf"/>
<rect x="133.40" y="244.84" width="11.80" height="10.11" fill="#dfe1ea"/>
<rect x="144.20" y="244.84" width="10.80" height="10.11" fill="#c0d8ea"/>
<rect x="36.20" y="253.95" width="11.80" height="10.11" fill="#f4826c"/>
<rect x="47.00" y="253.95" width="11.80" height="10.11" fill="#f4826c"/>
<rect x="57.80" y="253.95" width="11.80" height="10.11" fill="#f4826c"/>
<rect x="68.60" y="253.95" width="11.80" height="10.11" fill="#f4826c"/>
<rect x="79.40" y="253.95" width="11.80" height="10.11" fill="#f59480"/>
<rect x="90.20" y="253.95" width="11.80" height="10.11" fill="#f5876f"/>
<rect x="101.00" y="253.95" width="11.80" height="10.11" fill="#f7a08a"/>
<rect x="111.80" y="253.95" width="11.80" height="10.11" fill="#f9b6a2"/>
<rect x="122.60" y="253.95" width="11.80" height="10.11" fill="#f2dcd6"/>
<rect x="133.40" y="253.95" width="11.80" height="10.11" fill="#cfe2f0"/>
<rect x="144.20" y="253.95" width="10.80" height="10.11" fill="#9cc8df"/>
<rect x="36.20" y="263.05" width="11.80" height="10.11" fill="#f59580"/>
<rect x="47.00" y="263.05" width="11.80" height="10.11" fill="#f59580"/>
<rect x="57.80" y="263.05" width="11.80" height="10.11" fill="#f59580"/>
<rect x="68.60" y="263.05" width="11.80" height="10.11" fill="#f59078"/>
<rect x="79.40" y="263.05" width="11.80" height="10.11" fill="#f5937c"/>
<rect x="90.20" y="263.05" width="11.80" height="10.11" fill="#f6937c"/>
<rect x="101.00" y="263.05" width="11.80" height="10.11" fill="#f9b2a0"/>
<rect x="111.80" y="263.05" width="11.80" height="10.11" fill="#f2dcd6"/>
<rect x="122.60" y="263.05" width="11.80" height="10.11" fill="#dfe3ec"/>
<rect x="133.40" y="263.05" width="11.80" height="10.11" fill="#a6cce2"/>
<rect x="144.20" y="263.05" width="10.80" height="10.11" fill="#8cbfda"/>
<rect x="36.20" y="272.16" width="11.80" height="10.11" fill="#f59480"/>
<rect x="47.00" y="272.16" width="11.80" height="10.11" fill="#f59480"/>
<rect x="57.80" y="272.16" width="11.80" height="10.11" fill="#f7a690"/>
<rect x="68.60" y="272.16" width="11.80" height="10.11" fill="#f7a690"/>
<rect x="79.40" y="272.16" width="11.80" height="10.11" fill="#f7a690"/>
<rect x="90.20" y="272.16" width="11.80" height="10.11" fill="#f8ab96"/>
<rect x="101.00" y="272.16" width="11.80" height="10.11" fill="#fccfbf"/>
<rect x="111.80" y="272.16" width="11.80" height="10.11" fill="#dfe3ec"/>
<rect x="122.60" y="272.16" width="11.80" height="10.11" fill="#c0d8ea"/>
<rect x="133.40" y="272.16" width="11.80" height="10.11" fill="#98c4de"/>
<rect x="144.20" y="272.16" width="10.80" height="10.11" fill="#72aed2"/>
<rect x="36.20" y="281.27" width="11.80" height="10.11" fill="#f8ae99"/>
<rect x="47.00" y="281.27" width="11.80" height="10.11" fill="#f8ae99"/>
<rect x="57.80" y="281.27" width="11.80" height="10.11" fill="#f6a28c"/>
<rect x="68.60" y="281.27" width="11.80" height="10.11" fill="#f8b4a0"/>
<rect x="79.40" y="281.27" width="11.80" height="10.11" fill="#f8b4a0"/>
<rect x="90.20" y="281.27" width="11.80" height="10.11" fill="#fccfbf"/>
<rect x="101.00" y="281.27" width="11.80" height="10.11" fill="#f2dcd6"/>
<rect x="111.80" y="281.27" width="11.80" height="10.11" fill="#cfe0ee"/>
<rect x="122.60" y="281.27" width="11.80" height="10.11" fill="#b0d2e6"/>
<rect x="133.40" y="281.27" width="11.80" height="10.11" fill="#7ab4d6"/>
<rect x="144.20" y="281.27" width="10.80" height="10.11" fill="#4f95c4"/>
<rect x="36.20" y="290.38" width="11.80" height="10.11" fill="#f6a892"/>
<rect x="47.00" y="290.38" width="11.80" height="10.11" fill="#f8b8a5"/>
<rect x="57.80" y="290.38" width="11.80" height="10.11" fill="#f6a892"/>
<rect x="68.60" y="290.38" width="11.80" height="10.11" fill="#f8b4a0"/>
<rect x="79.40" y="290.38" width="11.80" height="10.11" fill="#fcd3c3"/>
<rect x="90.20" y="290.38" width="11.80" height="10.11" fill="#f0dcd8"/>
<rect x="101.00" y="290.38" width="11.80" height="10.11" fill="#cfe0ee"/>
<rect x="111.80" y="290.38" width="11.80" height="10.11" fill="#a8cee2"/>
<rect x="122.60" y="290.38" width="11.80" height="10.11" fill="#8cbfda"/>
<rect x="133.40" y="290.38" width="11.80" height="10.11" fill="#5a9ccb"/>
<rect x="144.20" y="290.38" width="10.80" height="10.11" fill="#3a7cb6"/>
<rect x="36.20" y="299.48" width="11.80" height="10.11" fill="#f8b8a5"/>
<rect x="47.00" y="299.48" width="11.80" height="10.11" fill="#f8b8a5"/>
<rect x="57.80" y="299.48" width="11.80" height="10.11" fill="#f8b8a5"/>
<rect x="68.60" y="299.48" width="11.80" height="10.11" fill="#f8b8a5"/>
<rect x="79.40" y="299.48" width="11.80" height="10.11" fill="#fcd3c3"/>
<rect x="90.20" y="299.48" width="11.80" height="10.11" fill="#dfe3ec"/>
<rect x="101.00" y="299.48" width="11.80" height="10.11" fill="#bed6ea"/>
<rect x="111.80" y="299.48" width="11.80" height="10.11" fill="#9ac6de"/>
<rect x="122.60" y="299.48" width="11.80" height="10.11" fill="#78b2d6"/>
<rect x="133.40" y="299.48" width="11.80" height="10.11" fill="#3a82be"/>
<rect x="144.20" y="299.48" width="10.80" height="10.11" fill="#2a64a4"/>
<rect x="36.20" y="308.59" width="11.80" height="9.11" fill="#f8b0a0"/>
<rect x="47.00" y="308.59" width="11.80" height="9.11" fill="#f8b0a0"/>
<rect x="57.80" y="308.59" width="11.80" height="9.11" fill="#f8b0a0"/>
<rect x="68.60" y="308.59" width="11.80" height="9.11" fill="#f7aa94"/>
<rect x="79.40" y="308.59" width="11.80" height="9.11" fill="#fcd3c3"/>
<rect x="90.20" y="308.59" width="11.80" height="9.11" fill="#dfe3ec"/>
<rect x="101.00" y="308.59" width="11.80" height="9.11" fill="#98c6e0"/>
<rect x="111.80" y="308.59" width="11.80" height="9.11" fill="#5a9ecb"/>
<rect x="122.60" y="308.59" width="11.80" height="9.11" fill="#3f88c2"/>
<rect x="133.40" y="308.59" width="11.80" height="9.11" fill="#2f6eae"/>
<rect x="144.20" y="308.59" width="10.80" height="9.11" fill="#234a88"/>
<rect x="36.20" y="199.30" width="118.80" height="118.40" fill="none" stroke="#777" stroke-opacity="0.75" stroke-width="0.8"/>
<line x1="33.60" y1="203.85" x2="36.20" y2="203.85" stroke="#555" stroke-width="0.7"/>
<text x="30.60" y="206.55" text-anchor="end" fill="#3a3a3a" style="font-size:7.6px;">32.0</text>
<line x1="33.60" y1="212.96" x2="36.20" y2="212.96" stroke="#555" stroke-width="0.7"/>
<text x="30.60" y="215.66" text-anchor="end" fill="#3a3a3a" style="font-size:7.6px;">22.4</text>
<line x1="33.60" y1="222.07" x2="36.20" y2="222.07" stroke="#555" stroke-width="0.7"/>
<text x="30.60" y="224.77" text-anchor="end" fill="#3a3a3a" style="font-size:7.6px;">16.0</text>
<line x1="33.60" y1="231.18" x2="36.20" y2="231.18" stroke="#555" stroke-width="0.7"/>
<text x="30.60" y="233.88" text-anchor="end" fill="#3a3a3a" style="font-size:7.6px;">11.2</text>
<line x1="33.60" y1="240.28" x2="36.20" y2="240.28" stroke="#555" stroke-width="0.7"/>
<text x="30.60" y="242.98" text-anchor="end" fill="#3a3a3a" style="font-size:7.6px;">8.0</text>
<line x1="33.60" y1="249.39" x2="36.20" y2="249.39" stroke="#555" stroke-width="0.7"/>
<text x="30.60" y="252.09" text-anchor="end" fill="#3a3a3a" style="font-size:7.6px;">5.6</text>
<line x1="33.60" y1="258.50" x2="36.20" y2="258.50" stroke="#555" stroke-width="0.7"/>
<text x="30.60" y="261.20" text-anchor="end" fill="#3a3a3a" style="font-size:7.6px;">4.0</text>
<line x1="33.60" y1="267.61" x2="36.20" y2="267.61" stroke="#555" stroke-width="0.7"/>
<text x="30.60" y="270.31" text-anchor="end" fill="#3a3a3a" style="font-size:7.6px;">2.8</text>
<line x1="33.60" y1="276.72" x2="36.20" y2="276.72" stroke="#555" stroke-width="0.7"/>
<text x="30.60" y="279.42" text-anchor="end" fill="#3a3a3a" style="font-size:7.6px;">2.0</text>
<line x1="33.60" y1="285.82" x2="36.20" y2="285.82" stroke="#555" stroke-width="0.7"/>
<text x="30.60" y="288.52" text-anchor="end" fill="#3a3a3a" style="font-size:7.6px;">1.4</text>
<line x1="33.60" y1="294.93" x2="36.20" y2="294.93" stroke="#555" stroke-width="0.7"/>
<text x="30.60" y="297.63" text-anchor="end" fill="#3a3a3a" style="font-size:7.6px;">1.0</text>
<line x1="33.60" y1="304.04" x2="36.20" y2="304.04" stroke="#555" stroke-width="0.7"/>
<text x="30.60" y="306.74" text-anchor="end" fill="#3a3a3a" style="font-size:7.6px;">0.7</text>
<line x1="33.60" y1="313.15" x2="36.20" y2="313.15" stroke="#555" stroke-width="0.7"/>
<text x="30.60" y="315.85" text-anchor="end" fill="#3a3a3a" style="font-size:7.6px;">0.5</text>
<line x1="41.60" y1="317.70" x2="41.60" y2="320.10" stroke="#555" stroke-width="0.7"/>
<text x="44.30" y="323.30" text-anchor="end" fill="#3a3a3a" style="font-size:7.6px;" transform="rotate(-90 44.30 323.30)">w/o</text>
<line x1="52.40" y1="317.70" x2="52.40" y2="320.10" stroke="#555" stroke-width="0.7"/>
<text x="55.10" y="323.30" text-anchor="end" fill="#3a3a3a" style="font-size:7.6px;" transform="rotate(-90 55.10 323.30)">1.0</text>
<line x1="63.20" y1="317.70" x2="63.20" y2="320.10" stroke="#555" stroke-width="0.7"/>
<text x="65.90" y="323.30" text-anchor="end" fill="#3a3a3a" style="font-size:7.6px;" transform="rotate(-90 65.90 323.30)">2.2</text>
<line x1="74.00" y1="317.70" x2="74.00" y2="320.10" stroke="#555" stroke-width="0.7"/>
<text x="76.70" y="323.30" text-anchor="end" fill="#3a3a3a" style="font-size:7.6px;" transform="rotate(-90 76.70 323.30)">4.7</text>
<line x1="84.80" y1="317.70" x2="84.80" y2="320.10" stroke="#555" stroke-width="0.7"/>
<text x="87.50" y="323.30" text-anchor="end" fill="#3a3a3a" style="font-size:7.6px;" transform="rotate(-90 87.50 323.30)">10</text>
<line x1="95.60" y1="317.70" x2="95.60" y2="320.10" stroke="#555" stroke-width="0.7"/>
<text x="98.30" y="323.30" text-anchor="end" fill="#3a3a3a" style="font-size:7.6px;" transform="rotate(-90 98.30 323.30)">22</text>
<line x1="106.40" y1="317.70" x2="106.40" y2="320.10" stroke="#555" stroke-width="0.7"/>
<text x="109.10" y="323.30" text-anchor="end" fill="#3a3a3a" style="font-size:7.6px;" transform="rotate(-90 109.10 323.30)">47</text>
<line x1="117.20" y1="317.70" x2="117.20" y2="320.10" stroke="#555" stroke-width="0.7"/>
<text x="119.90" y="323.30" text-anchor="end" fill="#3a3a3a" style="font-size:7.6px;" transform="rotate(-90 119.90 323.30)">100</text>
<line x1="128.00" y1="317.70" x2="128.00" y2="320.10" stroke="#555" stroke-width="0.7"/>
<text x="130.70" y="323.30" text-anchor="end" fill="#3a3a3a" style="font-size:7.6px;" transform="rotate(-90 130.70 323.30)">220</text>
<line x1="138.80" y1="317.70" x2="138.80" y2="320.10" stroke="#555" stroke-width="0.7"/>
<text x="141.50" y="323.30" text-anchor="end" fill="#3a3a3a" style="font-size:7.6px;" transform="rotate(-90 141.50 323.30)">470</text>
<line x1="149.60" y1="317.70" x2="149.60" y2="320.10" stroke="#555" stroke-width="0.7"/>
<text x="152.30" y="323.30" text-anchor="end" fill="#3a3a3a" style="font-size:7.6px;" transform="rotate(-90 152.30 323.30)">1,000</text>
<text x="97.10" y="355.90" text-anchor="middle" fill="#3a3a3a" style="font-size:8.7px;"><tspan font-style="italic">C</tspan><tspan font-size="6.7px" dy="2.0">mem</tspan><tspan dy="-2.0"> and </tspan><tspan font-style="italic">C</tspan><tspan font-size="6.7px" dy="2.0">f</tspan><tspan dy="-2.0"> (nF)</tspan></text>
<text x="8.20" y="257.60" text-anchor="middle" fill="#3a3a3a" transform="rotate(-90 8.20 257.60)" style="font-size:8.7px;"><tspan font-style="italic">I</tspan><tspan font-size="6.7px" dy="2.0">in</tspan><tspan dy="-2.0"> (µA)</tspan></text>
<text x="96.00" y="192.90" text-anchor="middle" fill="#3a3a3a" style="font-size:8.7px;"><tspan font-style="italic">L</tspan> = 12 µm</text>
<rect x="200.10" y="199.30" width="11.80" height="10.11" fill="#5e171b"/>
<rect x="210.90" y="199.30" width="11.80" height="10.11" fill="#80262a"/>
<rect x="221.70" y="199.30" width="11.80" height="10.11" fill="#7a2226"/>
<rect x="232.50" y="199.30" width="11.80" height="10.11" fill="#9a2a30"/>
<rect x="243.30" y="199.30" width="11.80" height="10.11" fill="#9a2a30"/>
<rect x="254.10" y="199.30" width="11.80" height="10.11" fill="#a82a30"/>
<rect x="264.90" y="199.30" width="11.80" height="10.11" fill="#dc3c38"/>
<rect x="275.70" y="199.30" width="11.80" height="10.11" fill="#f06854"/>
<rect x="286.50" y="199.30" width="11.80" height="10.11" fill="#f69c86"/>
<rect x="297.30" y="199.30" width="11.80" height="10.11" fill="#f9bdab"/>
<rect x="308.10" y="199.30" width="10.80" height="10.11" fill="#dee2e8"/>
<rect x="200.10" y="208.41" width="11.80" height="10.11" fill="#5e171b"/>
<rect x="210.90" y="208.41" width="11.80" height="10.11" fill="#5e171b"/>
<rect x="221.70" y="208.41" width="11.80" height="10.11" fill="#7a2226"/>
<rect x="232.50" y="208.41" width="11.80" height="10.11" fill="#742024"/>
<rect x="243.30" y="208.41" width="11.80" height="10.11" fill="#922830"/>
<rect x="254.10" y="208.41" width="11.80" height="10.11" fill="#c02830"/>
<rect x="264.90" y="208.41" width="11.80" height="10.11" fill="#cc2e32"/>
<rect x="275.70" y="208.41" width="11.80" height="10.11" fill="#f06854"/>
<rect x="286.50" y="208.41" width="11.80" height="10.11" fill="#f58d77"/>
<rect x="297.30" y="208.41" width="11.80" height="10.11" fill="#f9bdab"/>
<rect x="308.10" y="208.41" width="10.80" height="10.11" fill="#f0dcd4"/>
<rect x="200.10" y="217.52" width="11.80" height="10.11" fill="#5e171b"/>
<rect x="210.90" y="217.52" width="11.80" height="10.11" fill="#5e171b"/>
<rect x="221.70" y="217.52" width="11.80" height="10.11" fill="#7a2226"/>
<rect x="232.50" y="217.52" width="11.80" height="10.11" fill="#742024"/>
<rect x="243.30" y="217.52" width="11.80" height="10.11" fill="#922830"/>
<rect x="254.10" y="217.52" width="11.80" height="10.11" fill="#c02830"/>
<rect x="264.90" y="217.52" width="11.80" height="10.11" fill="#cc2e32"/>
<rect x="275.70" y="217.52" width="11.80" height="10.11" fill="#f06854"/>
<rect x="286.50" y="217.52" width="11.80" height="10.11" fill="#f58d77"/>
<rect x="297.30" y="217.52" width="11.80" height="10.11" fill="#f9bdab"/>
<rect x="308.10" y="217.52" width="10.80" height="10.11" fill="#f0dcd4"/>
<rect x="200.10" y="226.62" width="11.80" height="10.11" fill="#5e171b"/>
<rect x="210.90" y="226.62" width="11.80" height="10.11" fill="#5e171b"/>
<rect x="221.70" y="226.62" width="11.80" height="10.11" fill="#7a2226"/>
<rect x="232.50" y="226.62" width="11.80" height="10.11" fill="#742024"/>
<rect x="243.30" y="226.62" width="11.80" height="10.11" fill="#922830"/>
<rect x="254.10" y="226.62" width="11.80" height="10.11" fill="#c02830"/>
<rect x="264.90" y="226.62" width="11.80" height="10.11" fill="#dc3c38"/>
<rect x="275.70" y="226.62" width="11.80" height="10.11" fill="#f06854"/>
<rect x="286.50" y="226.62" width="11.80" height="10.11" fill="#f58d77"/>
<rect x="297.30" y="226.62" width="11.80" height="10.11" fill="#f9bdab"/>
<rect x="308.10" y="226.62" width="10.80" height="10.11" fill="#dee2e8"/>
<rect x="200.10" y="235.73" width="11.80" height="10.11" fill="#641820"/>
<rect x="210.90" y="235.73" width="11.80" height="10.11" fill="#641820"/>
<rect x="221.70" y="235.73" width="11.80" height="10.11" fill="#782126"/>
<rect x="232.50" y="235.73" width="11.80" height="10.11" fill="#782126"/>
<rect x="243.30" y="235.73" width="11.80" height="10.11" fill="#b02830"/>
<rect x="254.10" y="235.73" width="11.80" height="10.11" fill="#c02830"/>
<rect x="264.90" y="235.73" width="11.80" height="10.11" fill="#dc3c38"/>
<rect x="275.70" y="235.73" width="11.80" height="10.11" fill="#f06854"/>
<rect x="286.50" y="235.73" width="11.80" height="10.11" fill="#f69c86"/>
<rect x="297.30" y="235.73" width="11.80" height="10.11" fill="#f9bdab"/>
<rect x="308.10" y="235.73" width="10.80" height="10.11" fill="#dee2e8"/>
<rect x="200.10" y="244.84" width="11.80" height="10.11" fill="#5e141a"/>
<rect x="210.90" y="244.84" width="11.80" height="10.11" fill="#7a1e24"/>
<rect x="221.70" y="244.84" width="11.80" height="10.11" fill="#7a1e24"/>
<rect x="232.50" y="244.84" width="11.80" height="10.11" fill="#922830"/>
<rect x="243.30" y="244.84" width="11.80" height="10.11" fill="#b02830"/>
<rect x="254.10" y="244.84" width="11.80" height="10.11" fill="#d03535"/>
<rect x="264.90" y="244.84" width="11.80" height="10.11" fill="#e44e40"/>
<rect x="275.70" y="244.84" width="11.80" height="10.11" fill="#f47d68"/>
<rect x="286.50" y="244.84" width="11.80" height="10.11" fill="#f8ab96"/>
<rect x="297.30" y="244.84" width="11.80" height="10.11" fill="#fcd5c7"/>
<rect x="308.10" y="244.84" width="10.80" height="10.11" fill="#c1d7e8"/>
<rect x="200.10" y="253.95" width="11.80" height="10.11" fill="#7a1e24"/>
<rect x="210.90" y="253.95" width="11.80" height="10.11" fill="#7a1e24"/>
<rect x="221.70" y="253.95" width="11.80" height="10.11" fill="#782126"/>
<rect x="232.50" y="253.95" width="11.80" height="10.11" fill="#8a2228"/>
<rect x="243.30" y="253.95" width="11.80" height="10.11" fill="#c02830"/>
<rect x="254.10" y="253.95" width="11.80" height="10.11" fill="#d03535"/>
<rect x="264.90" y="253.95" width="11.80" height="10.11" fill="#ec5e4c"/>
<rect x="275.70" y="253.95" width="11.80" height="10.11" fill="#f47763"/>
<rect x="286.50" y="253.95" width="11.80" height="10.11" fill="#f9b8a4"/>
<rect x="297.30" y="253.95" width="11.80" height="10.11" fill="#f0dcd4"/>
<rect x="308.10" y="253.95" width="10.80" height="10.11" fill="#c1d7e8"/>
<rect x="200.10" y="263.05" width="11.80" height="10.11" fill="#7a1e24"/>
<rect x="210.90" y="263.05" width="11.80" height="10.11" fill="#782126"/>
<rect x="221.70" y="263.05" width="11.80" height="10.11" fill="#922830"/>
<rect x="232.50" y="263.05" width="11.80" height="10.11" fill="#a82830"/>
<rect x="243.30" y="263.05" width="11.80" height="10.11" fill="#d03535"/>
<rect x="254.10" y="263.05" width="11.80" height="10.11" fill="#dc4038"/>
<rect x="264.90" y="263.05" width="11.80" height="10.11" fill="#f06854"/>
<rect x="275.70" y="263.05" width="11.80" height="10.11" fill="#f58d77"/>
<rect x="286.50" y="263.05" width="11.80" height="10.11" fill="#fbcfbf"/>
<rect x="297.30" y="263.05" width="11.80" height="10.11" fill="#c5d9ea"/>
<rect x="308.10" y="263.05" width="10.80" height="10.11" fill="#a7cce0"/>
<rect x="200.10" y="272.16" width="11.80" height="10.11" fill="#782126"/>
<rect x="210.90" y="272.16" width="11.80" height="10.11" fill="#922830"/>
<rect x="221.70" y="272.16" width="11.80" height="10.11" fill="#a82830"/>
<rect x="232.50" y="272.16" width="11.80" height="10.11" fill="#b82830"/>
<rect x="243.30" y="272.16" width="11.80" height="10.11" fill="#dc4038"/>
<rect x="254.10" y="272.16" width="11.80" height="10.11" fill="#e45040"/>
<rect x="264.90" y="272.16" width="11.80" height="10.11" fill="#f2725e"/>
<rect x="275.70" y="272.16" width="11.80" height="10.11" fill="#f7a690"/>
<rect x="286.50" y="272.16" width="11.80" height="10.11" fill="#f2dcd6"/>
<rect x="297.30" y="272.16" width="11.80" height="10.11" fill="#c1d7e8"/>
<rect x="308.10" y="272.16" width="10.80" height="10.11" fill="#89bbd8"/>
<rect x="200.10" y="281.27" width="11.80" height="10.11" fill="#922830"/>
<rect x="210.90" y="281.27" width="11.80" height="10.11" fill="#a82830"/>
<rect x="221.70" y="281.27" width="11.80" height="10.11" fill="#c02830"/>
<rect x="232.50" y="281.27" width="11.80" height="10.11" fill="#cc2e32"/>
<rect x="243.30" y="281.27" width="11.80" height="10.11" fill="#e44e40"/>
<rect x="254.10" y="281.27" width="11.80" height="10.11" fill="#f06854"/>
<rect x="264.90" y="281.27" width="11.80" height="10.11" fill="#f58d77"/>
<rect x="275.70" y="281.27" width="11.80" height="10.11" fill="#fbcfbf"/>
<rect x="286.50" y="281.27" width="11.80" height="10.11" fill="#c5d9ea"/>
<rect x="297.30" y="281.27" width="11.80" height="10.11" fill="#98c2dc"/>
<rect x="308.10" y="281.27" width="10.80" height="10.11" fill="#5d9ac3"/>
<rect x="200.10" y="290.38" width="11.80" height="10.11" fill="#922830"/>
<rect x="210.90" y="290.38" width="11.80" height="10.11" fill="#a82830"/>
<rect x="221.70" y="290.38" width="11.80" height="10.11" fill="#c02830"/>
<rect x="232.50" y="290.38" width="11.80" height="10.11" fill="#dc4038"/>
<rect x="243.30" y="290.38" width="11.80" height="10.11" fill="#ec5e4c"/>
<rect x="254.10" y="290.38" width="11.80" height="10.11" fill="#f47d68"/>
<rect x="264.90" y="290.38" width="11.80" height="10.11" fill="#f8ab96"/>
<rect x="275.70" y="290.38" width="11.80" height="10.11" fill="#dee2e8"/>
<rect x="286.50" y="290.38" width="11.80" height="10.11" fill="#a7cce0"/>
<rect x="297.30" y="290.38" width="11.80" height="10.11" fill="#89bbd8"/>
<rect x="308.10" y="290.38" width="10.80" height="10.11" fill="#4e8fbd"/>
<rect x="200.10" y="299.48" width="11.80" height="10.11" fill="#cdd0d3"/>
<rect x="210.90" y="299.48" width="11.80" height="10.11" fill="#c42830"/>
<rect x="221.70" y="299.48" width="11.80" height="10.11" fill="#d43836"/>
<rect x="232.50" y="299.48" width="11.80" height="10.11" fill="#f2725e"/>
<rect x="243.30" y="299.48" width="11.80" height="10.11" fill="#f47d68"/>
<rect x="254.10" y="299.48" width="11.80" height="10.11" fill="#f7a690"/>
<rect x="264.90" y="299.48" width="11.80" height="10.11" fill="#f0dcd4"/>
<rect x="275.70" y="299.48" width="11.80" height="10.11" fill="#b6d2e4"/>
<rect x="286.50" y="299.48" width="11.80" height="10.11" fill="#89bbd8"/>
<rect x="297.30" y="299.48" width="11.80" height="10.11" fill="#4e8fbd"/>
<rect x="308.10" y="299.48" width="10.80" height="10.11" fill="#316dac"/>
<rect x="200.10" y="308.59" width="11.80" height="9.11" fill="#cdd0d3"/>
<rect x="210.90" y="308.59" width="11.80" height="9.11" fill="#cdd0d3"/>
<rect x="221.70" y="308.59" width="11.80" height="9.11" fill="#f2725e"/>
<rect x="232.50" y="308.59" width="11.80" height="9.11" fill="#f4826c"/>
<rect x="243.30" y="308.59" width="11.80" height="9.11" fill="#fbcdbd"/>
<rect x="254.10" y="308.59" width="11.80" height="9.11" fill="#f0dcd4"/>
<rect x="264.90" y="308.59" width="11.80" height="9.11" fill="#c1d7e8"/>
<rect x="275.70" y="308.59" width="11.80" height="9.11" fill="#89bbd8"/>
<rect x="286.50" y="308.59" width="11.80" height="9.11" fill="#4e8fbd"/>
<rect x="297.30" y="308.59" width="11.80" height="9.11" fill="#3570ac"/>
<rect x="308.10" y="308.59" width="10.80" height="9.11" fill="#264487"/>
<rect x="200.10" y="199.30" width="118.80" height="118.40" fill="none" stroke="#777" stroke-opacity="0.75" stroke-width="0.8"/>
<line x1="197.50" y1="203.85" x2="200.10" y2="203.85" stroke="#555" stroke-width="0.7"/>
<text x="194.50" y="206.55" text-anchor="end" fill="#3a3a3a" style="font-size:7.6px;">32.0</text>
<line x1="197.50" y1="212.96" x2="200.10" y2="212.96" stroke="#555" stroke-width="0.7"/>
<text x="194.50" y="215.66" text-anchor="end" fill="#3a3a3a" style="font-size:7.6px;">22.4</text>
<line x1="197.50" y1="222.07" x2="200.10" y2="222.07" stroke="#555" stroke-width="0.7"/>
<text x="194.50" y="224.77" text-anchor="end" fill="#3a3a3a" style="font-size:7.6px;">16.0</text>
<line x1="197.50" y1="231.18" x2="200.10" y2="231.18" stroke="#555" stroke-width="0.7"/>
<text x="194.50" y="233.88" text-anchor="end" fill="#3a3a3a" style="font-size:7.6px;">11.2</text>
<line x1="197.50" y1="240.28" x2="200.10" y2="240.28" stroke="#555" stroke-width="0.7"/>
<text x="194.50" y="242.98" text-anchor="end" fill="#3a3a3a" style="font-size:7.6px;">8.0</text>
<line x1="197.50" y1="249.39" x2="200.10" y2="249.39" stroke="#555" stroke-width="0.7"/>
<text x="194.50" y="252.09" text-anchor="end" fill="#3a3a3a" style="font-size:7.6px;">5.6</text>
<line x1="197.50" y1="258.50" x2="200.10" y2="258.50" stroke="#555" stroke-width="0.7"/>
<text x="194.50" y="261.20" text-anchor="end" fill="#3a3a3a" style="font-size:7.6px;">4.0</text>
<line x1="197.50" y1="267.61" x2="200.10" y2="267.61" stroke="#555" stroke-width="0.7"/>
<text x="194.50" y="270.31" text-anchor="end" fill="#3a3a3a" style="font-size:7.6px;">2.8</text>
<line x1="197.50" y1="276.72" x2="200.10" y2="276.72" stroke="#555" stroke-width="0.7"/>
<text x="194.50" y="279.42" text-anchor="end" fill="#3a3a3a" style="font-size:7.6px;">2.0</text>
<line x1="197.50" y1="285.82" x2="200.10" y2="285.82" stroke="#555" stroke-width="0.7"/>
<text x="194.50" y="288.52" text-anchor="end" fill="#3a3a3a" style="font-size:7.6px;">1.4</text>
<line x1="197.50" y1="294.93" x2="200.10" y2="294.93" stroke="#555" stroke-width="0.7"/>
<text x="194.50" y="297.63" text-anchor="end" fill="#3a3a3a" style="font-size:7.6px;">1.0</text>
<line x1="197.50" y1="304.04" x2="200.10" y2="304.04" stroke="#555" stroke-width="0.7"/>
<text x="194.50" y="306.74" text-anchor="end" fill="#3a3a3a" style="font-size:7.6px;">0.7</text>
<line x1="197.50" y1="313.15" x2="200.10" y2="313.15" stroke="#555" stroke-width="0.7"/>
<text x="194.50" y="315.85" text-anchor="end" fill="#3a3a3a" style="font-size:7.6px;">0.5</text>
<line x1="205.50" y1="317.70" x2="205.50" y2="320.10" stroke="#555" stroke-width="0.7"/>
<text x="208.20" y="323.30" text-anchor="end" fill="#3a3a3a" style="font-size:7.6px;" transform="rotate(-90 208.20 323.30)">w/o</text>
<line x1="216.30" y1="317.70" x2="216.30" y2="320.10" stroke="#555" stroke-width="0.7"/>
<text x="219.00" y="323.30" text-anchor="end" fill="#3a3a3a" style="font-size:7.6px;" transform="rotate(-90 219.00 323.30)">1.0</text>
<line x1="227.10" y1="317.70" x2="227.10" y2="320.10" stroke="#555" stroke-width="0.7"/>
<text x="229.80" y="323.30" text-anchor="end" fill="#3a3a3a" style="font-size:7.6px;" transform="rotate(-90 229.80 323.30)">2.2</text>
<line x1="237.90" y1="317.70" x2="237.90" y2="320.10" stroke="#555" stroke-width="0.7"/>
<text x="240.60" y="323.30" text-anchor="end" fill="#3a3a3a" style="font-size:7.6px;" transform="rotate(-90 240.60 323.30)">4.7</text>
<line x1="248.70" y1="317.70" x2="248.70" y2="320.10" stroke="#555" stroke-width="0.7"/>
<text x="251.40" y="323.30" text-anchor="end" fill="#3a3a3a" style="font-size:7.6px;" transform="rotate(-90 251.40 323.30)">10</text>
<line x1="259.50" y1="317.70" x2="259.50" y2="320.10" stroke="#555" stroke-width="0.7"/>
<text x="262.20" y="323.30" text-anchor="end" fill="#3a3a3a" style="font-size:7.6px;" transform="rotate(-90 262.20 323.30)">22</text>
<line x1="270.30" y1="317.70" x2="270.30" y2="320.10" stroke="#555" stroke-width="0.7"/>
<text x="273.00" y="323.30" text-anchor="end" fill="#3a3a3a" style="font-size:7.6px;" transform="rotate(-90 273.00 323.30)">47</text>
<line x1="281.10" y1="317.70" x2="281.10" y2="320.10" stroke="#555" stroke-width="0.7"/>
<text x="283.80" y="323.30" text-anchor="end" fill="#3a3a3a" style="font-size:7.6px;" transform="rotate(-90 283.80 323.30)">100</text>
<line x1="291.90" y1="317.70" x2="291.90" y2="320.10" stroke="#555" stroke-width="0.7"/>
<text x="294.60" y="323.30" text-anchor="end" fill="#3a3a3a" style="font-size:7.6px;" transform="rotate(-90 294.60 323.30)">220</text>
<line x1="302.70" y1="317.70" x2="302.70" y2="320.10" stroke="#555" stroke-width="0.7"/>
<text x="305.40" y="323.30" text-anchor="end" fill="#3a3a3a" style="font-size:7.6px;" transform="rotate(-90 305.40 323.30)">470</text>
<line x1="313.50" y1="317.70" x2="313.50" y2="320.10" stroke="#555" stroke-width="0.7"/>
<text x="316.20" y="323.30" text-anchor="end" fill="#3a3a3a" style="font-size:7.6px;" transform="rotate(-90 316.20 323.30)">1,000</text>
<text x="261.00" y="355.90" text-anchor="middle" fill="#3a3a3a" style="font-size:8.7px;"><tspan font-style="italic">C</tspan><tspan font-size="6.7px" dy="2.0">mem</tspan><tspan dy="-2.0"> and </tspan><tspan font-style="italic">C</tspan><tspan font-size="6.7px" dy="2.0">f</tspan><tspan dy="-2.0"> (nF)</tspan></text>
<text x="172.10" y="257.60" text-anchor="middle" fill="#3a3a3a" transform="rotate(-90 172.10 257.60)" style="font-size:8.7px;"><tspan font-style="italic">I</tspan><tspan font-size="6.7px" dy="2.0">in</tspan><tspan dy="-2.0"> (µA)</tspan></text>
<text x="258.70" y="192.90" text-anchor="middle" fill="#3a3a3a" style="font-size:8.7px;"><tspan font-style="italic">L</tspan> = 3.6 µm</text>
<rect x="362.60" y="199.30" width="11.80" height="10.11" fill="#f2f0c0"/>
<rect x="373.40" y="199.30" width="11.80" height="10.11" fill="#f2f0c0"/>
<rect x="384.20" y="199.30" width="11.80" height="10.11" fill="#f0e850"/>
<rect x="395.00" y="199.30" width="11.80" height="10.11" fill="#c9a035"/>
<rect x="405.80" y="199.30" width="11.80" height="10.11" fill="#8c5830"/>
<rect x="416.60" y="199.30" width="11.80" height="10.11" fill="#782024"/>
<rect x="427.40" y="199.30" width="11.80" height="10.11" fill="#922830"/>
<rect x="438.20" y="199.30" width="11.80" height="10.11" fill="#c02830"/>
<rect x="449.00" y="199.30" width="11.80" height="10.11" fill="#e85a48"/>
<rect x="459.80" y="199.30" width="11.80" height="10.11" fill="#f58d77"/>
<rect x="470.60" y="199.30" width="10.80" height="10.11" fill="#fcd5c7"/>
<rect x="362.60" y="208.41" width="11.80" height="10.11" fill="#f2f0c0"/>
<rect x="373.40" y="208.41" width="11.80" height="10.11" fill="#f0e850"/>
<rect x="384.20" y="208.41" width="11.80" height="10.11" fill="#f0e850"/>
<rect x="395.00" y="208.41" width="11.80" height="10.11" fill="#c9a035"/>
<rect x="405.80" y="208.41" width="11.80" height="10.11" fill="#601418"/>
<rect x="416.60" y="208.41" width="11.80" height="10.11" fill="#782024"/>
<rect x="427.40" y="208.41" width="11.80" height="10.11" fill="#a82830"/>
<rect x="438.20" y="208.41" width="11.80" height="10.11" fill="#d03535"/>
<rect x="449.00" y="208.41" width="11.80" height="10.11" fill="#f06450"/>
<rect x="459.80" y="208.41" width="11.80" height="10.11" fill="#f5836d"/>
<rect x="470.60" y="208.41" width="10.80" height="10.11" fill="#fcd5c7"/>
<rect x="362.60" y="217.52" width="11.80" height="10.11" fill="#f0e850"/>
<rect x="373.40" y="217.52" width="11.80" height="10.11" fill="#f0e850"/>
<rect x="384.20" y="217.52" width="11.80" height="10.11" fill="#f0e850"/>
<rect x="395.00" y="217.52" width="11.80" height="10.11" fill="#8c5830"/>
<rect x="405.80" y="217.52" width="11.80" height="10.11" fill="#601418"/>
<rect x="416.60" y="217.52" width="11.80" height="10.11" fill="#782024"/>
<rect x="427.40" y="217.52" width="11.80" height="10.11" fill="#a82830"/>
<rect x="438.20" y="217.52" width="11.80" height="10.11" fill="#d03535"/>
<rect x="449.00" y="217.52" width="11.80" height="10.11" fill="#f06450"/>
<rect x="459.80" y="217.52" width="11.80" height="10.11" fill="#f7a08a"/>
<rect x="470.60" y="217.52" width="10.80" height="10.11" fill="#fcd5c7"/>
<rect x="362.60" y="226.62" width="11.80" height="10.11" fill="#f0e850"/>
<rect x="373.40" y="226.62" width="11.80" height="10.11" fill="#c9a035"/>
<rect x="384.20" y="226.62" width="11.80" height="10.11" fill="#c9a035"/>
<rect x="395.00" y="226.62" width="11.80" height="10.11" fill="#8c5830"/>
<rect x="405.80" y="226.62" width="11.80" height="10.11" fill="#601418"/>
<rect x="416.60" y="226.62" width="11.80" height="10.11" fill="#a82830"/>
<rect x="427.40" y="226.62" width="11.80" height="10.11" fill="#c02830"/>
<rect x="438.20" y="226.62" width="11.80" height="10.11" fill="#e04a3e"/>
<rect x="449.00" y="226.62" width="11.80" height="10.11" fill="#f2725e"/>
<rect x="459.80" y="226.62" width="11.80" height="10.11" fill="#f7a690"/>
<rect x="470.60" y="226.62" width="10.80" height="10.11" fill="#ecdcd8"/>
<rect x="362.60" y="235.73" width="11.80" height="10.11" fill="#c9a035"/>
<rect x="373.40" y="235.73" width="11.80" height="10.11" fill="#c9a035"/>
<rect x="384.20" y="235.73" width="11.80" height="10.11" fill="#8c5830"/>
<rect x="395.00" y="235.73" width="11.80" height="10.11" fill="#601418"/>
<rect x="405.80" y="235.73" width="11.80" height="10.11" fill="#922830"/>
<rect x="416.60" y="235.73" width="11.80" height="10.11" fill="#a82830"/>
<rect x="427.40" y="235.73" width="11.80" height="10.11" fill="#d03535"/>
<rect x="438.20" y="235.73" width="11.80" height="10.11" fill="#e85a48"/>
<rect x="449.00" y="235.73" width="11.80" height="10.11" fill="#f58d77"/>
<rect x="459.80" y="235.73" width="11.80" height="10.11" fill="#f9bdab"/>
<rect x="470.60" y="235.73" width="10.80" height="10.11" fill="#ecdcd8"/>
<rect x="362.60" y="244.84" width="11.80" height="10.11" fill="#c9a035"/>
<rect x="373.40" y="244.84" width="11.80" height="10.11" fill="#8c5830"/>
<rect x="384.20" y="244.84" width="11.80" height="10.11" fill="#8c5830"/>
<rect x="395.00" y="244.84" width="11.80" height="10.11" fill="#601418"/>
<rect x="405.80" y="244.84" width="11.80" height="10.11" fill="#9a2830"/>
<rect x="416.60" y="244.84" width="11.80" height="10.11" fill="#c02830"/>
<rect x="427.40" y="244.84" width="11.80" height="10.11" fill="#e04a3e"/>
<rect x="438.20" y="244.84" width="11.80" height="10.11" fill="#f47a65"/>
<rect x="449.00" y="244.84" width="11.80" height="10.11" fill="#f58d77"/>
<rect x="459.80" y="244.84" width="11.80" height="10.11" fill="#fcd5c7"/>
<rect x="470.60" y="244.84" width="10.80" height="10.11" fill="#c5d9ea"/>
<rect x="362.60" y="253.95" width="11.80" height="10.11" fill="#8c5830"/>
<rect x="373.40" y="253.95" width="11.80" height="10.11" fill="#8c5830"/>
<rect x="384.20" y="253.95" width="11.80" height="10.11" fill="#601418"/>
<rect x="395.00" y="253.95" width="11.80" height="10.11" fill="#7a1e24"/>
<rect x="405.80" y="253.95" width="11.80" height="10.11" fill="#a82830"/>
<rect x="416.60" y="253.95" width="11.80" height="10.11" fill="#d03535"/>
<rect x="427.40" y="253.95" width="11.80" height="10.11" fill="#e85a48"/>
<rect x="438.20" y="253.95" width="11.80" height="10.11" fill="#f47d68"/>
<rect x="449.00" y="253.95" width="11.80" height="10.11" fill="#f7a690"/>
<rect x="459.80" y="253.95" width="11.80" height="10.11" fill="#ecdcd8"/>
<rect x="470.60" y="253.95" width="10.80" height="10.11" fill="#c5d9ea"/>
<rect x="362.60" y="263.05" width="11.80" height="10.11" fill="#8c5830"/>
<rect x="373.40" y="263.05" width="11.80" height="10.11" fill="#601418"/>
<rect x="384.20" y="263.05" width="11.80" height="10.11" fill="#7a1e24"/>
<rect x="395.00" y="263.05" width="11.80" height="10.11" fill="#8a2228"/>
<rect x="405.80" y="263.05" width="11.80" height="10.11" fill="#c02830"/>
<rect x="416.60" y="263.05" width="11.80" height="10.11" fill="#e04a3e"/>
<rect x="427.40" y="263.05" width="11.80" height="10.11" fill="#f2725e"/>
<rect x="438.20" y="263.05" width="11.80" height="10.11" fill="#f58670"/>
<rect x="449.00" y="263.05" width="11.80" height="10.11" fill="#fcd0c0"/>
<rect x="459.80" y="263.05" width="11.80" height="10.11" fill="#dee2e8"/>
<rect x="470.60" y="263.05" width="10.80" height="10.11" fill="#aed0e4"/>
<rect x="362.60" y="272.16" width="11.80" height="10.11" fill="#601418"/>
<rect x="373.40" y="272.16" width="11.80" height="10.11" fill="#7a1e24"/>
<rect x="384.20" y="272.16" width="11.80" height="10.11" fill="#922830"/>
<rect x="395.00" y="272.16" width="11.80" height="10.11" fill="#c02830"/>
<rect x="405.80" y="272.16" width="11.80" height="10.11" fill="#e04a3e"/>
<rect x="416.60" y="272.16" width="11.80" height="10.11" fill="#f06450"/>
<rect x="427.40" y="272.16" width="11.80" height="10.11" fill="#f47d68"/>
<rect x="438.20" y="272.16" width="11.80" height="10.11" fill="#f8ae99"/>
<rect x="449.00" y="272.16" width="11.80" height="10.11" fill="#f0dcd8"/>
<rect x="459.80" y="272.16" width="11.80" height="10.11" fill="#c5d9ea"/>
<rect x="470.60" y="272.16" width="10.80" height="10.11" fill="#98c2dc"/>
<rect x="362.60" y="281.27" width="11.80" height="10.11" fill="#601418"/>
<rect x="373.40" y="281.27" width="11.80" height="10.11" fill="#a02830"/>
<rect x="384.20" y="281.27" width="11.80" height="10.11" fill="#a82830"/>
<rect x="395.00" y="281.27" width="11.80" height="10.11" fill="#d03535"/>
<rect x="405.80" y="281.27" width="11.80" height="10.11" fill="#e85a48"/>
<rect x="416.60" y="281.27" width="11.80" height="10.11" fill="#f2725e"/>
<rect x="427.40" y="281.27" width="11.80" height="10.11" fill="#f7a690"/>
<rect x="438.20" y="281.27" width="11.80" height="10.11" fill="#fbcfbf"/>
<rect x="449.00" y="281.27" width="11.80" height="10.11" fill="#c5d9ea"/>
<rect x="459.80" y="281.27" width="11.80" height="10.11" fill="#a7cce0"/>
<rect x="470.60" y="281.27" width="10.80" height="10.11" fill="#7aafd1"/>
<rect x="362.60" y="290.38" width="11.80" height="10.11" fill="#a02830"/>
<rect x="373.40" y="290.38" width="11.80" height="10.11" fill="#ac2830"/>
<rect x="384.20" y="290.38" width="11.80" height="10.11" fill="#c02830"/>
<rect x="395.00" y="290.38" width="11.80" height="10.11" fill="#e04a3e"/>
<rect x="405.80" y="290.38" width="11.80" height="10.11" fill="#f2725e"/>
<rect x="416.60" y="290.38" width="11.80" height="10.11" fill="#f58d77"/>
<rect x="427.40" y="290.38" width="11.80" height="10.11" fill="#f9b8a4"/>
<rect x="438.20" y="290.38" width="11.80" height="10.11" fill="#dee2e8"/>
<rect x="449.00" y="290.38" width="11.80" height="10.11" fill="#b6d2e4"/>
<rect x="459.80" y="290.38" width="11.80" height="10.11" fill="#89bbd8"/>
<rect x="470.60" y="290.38" width="10.80" height="10.11" fill="#4e8fbd"/>
<rect x="362.60" y="299.48" width="11.80" height="10.11" fill="#b02830"/>
<rect x="373.40" y="299.48" width="11.80" height="10.11" fill="#d43836"/>
<rect x="384.20" y="299.48" width="11.80" height="10.11" fill="#d43836"/>
<rect x="395.00" y="299.48" width="11.80" height="10.11" fill="#f06450"/>
<rect x="405.80" y="299.48" width="11.80" height="10.11" fill="#f47d68"/>
<rect x="416.60" y="299.48" width="11.80" height="10.11" fill="#f9b6a2"/>
<rect x="427.40" y="299.48" width="11.80" height="10.11" fill="#ecdcd8"/>
<rect x="438.20" y="299.48" width="11.80" height="10.11" fill="#c1d7e8"/>
<rect x="449.00" y="299.48" width="11.80" height="10.11" fill="#98c2dc"/>
<rect x="459.80" y="299.48" width="11.80" height="10.11" fill="#4e8fbd"/>
<rect x="470.60" y="299.48" width="10.80" height="10.11" fill="#3570ac"/>
<rect x="362.60" y="308.59" width="11.80" height="9.11" fill="#cdd0d3"/>
<rect x="373.40" y="308.59" width="11.80" height="9.11" fill="#d43836"/>
<rect x="384.20" y="308.59" width="11.80" height="9.11" fill="#d43836"/>
<rect x="395.00" y="308.59" width="11.80" height="9.11" fill="#f58670"/>
<rect x="405.80" y="308.59" width="11.80" height="9.11" fill="#f9b6a2"/>
<rect x="416.60" y="308.59" width="11.80" height="9.11" fill="#f0dcd8"/>
<rect x="427.40" y="308.59" width="11.80" height="9.11" fill="#c5d9ea"/>
<rect x="438.20" y="308.59" width="11.80" height="9.11" fill="#98c2dc"/>
<rect x="449.00" y="308.59" width="11.80" height="9.11" fill="#6ba6cd"/>
<rect x="459.80" y="308.59" width="11.80" height="9.11" fill="#3a75b0"/>
<rect x="470.60" y="308.59" width="10.80" height="9.11" fill="#2d61a4"/>
<rect x="362.60" y="199.30" width="118.80" height="118.40" fill="none" stroke="#777" stroke-opacity="0.75" stroke-width="0.8"/>
<line x1="360.00" y1="203.85" x2="362.60" y2="203.85" stroke="#555" stroke-width="0.7"/>
<text x="357.00" y="206.55" text-anchor="end" fill="#3a3a3a" style="font-size:7.6px;">32.0</text>
<line x1="360.00" y1="212.96" x2="362.60" y2="212.96" stroke="#555" stroke-width="0.7"/>
<text x="357.00" y="215.66" text-anchor="end" fill="#3a3a3a" style="font-size:7.6px;">22.4</text>
<line x1="360.00" y1="222.07" x2="362.60" y2="222.07" stroke="#555" stroke-width="0.7"/>
<text x="357.00" y="224.77" text-anchor="end" fill="#3a3a3a" style="font-size:7.6px;">16.0</text>
<line x1="360.00" y1="231.18" x2="362.60" y2="231.18" stroke="#555" stroke-width="0.7"/>
<text x="357.00" y="233.88" text-anchor="end" fill="#3a3a3a" style="font-size:7.6px;">11.2</text>
<line x1="360.00" y1="240.28" x2="362.60" y2="240.28" stroke="#555" stroke-width="0.7"/>
<text x="357.00" y="242.98" text-anchor="end" fill="#3a3a3a" style="font-size:7.6px;">8.0</text>
<line x1="360.00" y1="249.39" x2="362.60" y2="249.39" stroke="#555" stroke-width="0.7"/>
<text x="357.00" y="252.09" text-anchor="end" fill="#3a3a3a" style="font-size:7.6px;">5.6</text>
<line x1="360.00" y1="258.50" x2="362.60" y2="258.50" stroke="#555" stroke-width="0.7"/>
<text x="357.00" y="261.20" text-anchor="end" fill="#3a3a3a" style="font-size:7.6px;">4.0</text>
<line x1="360.00" y1="267.61" x2="362.60" y2="267.61" stroke="#555" stroke-width="0.7"/>
<text x="357.00" y="270.31" text-anchor="end" fill="#3a3a3a" style="font-size:7.6px;">2.8</text>
<line x1="360.00" y1="276.72" x2="362.60" y2="276.72" stroke="#555" stroke-width="0.7"/>
<text x="357.00" y="279.42" text-anchor="end" fill="#3a3a3a" style="font-size:7.6px;">2.0</text>
<line x1="360.00" y1="285.82" x2="362.60" y2="285.82" stroke="#555" stroke-width="0.7"/>
<text x="357.00" y="288.52" text-anchor="end" fill="#3a3a3a" style="font-size:7.6px;">1.4</text>
<line x1="360.00" y1="294.93" x2="362.60" y2="294.93" stroke="#555" stroke-width="0.7"/>
<text x="357.00" y="297.63" text-anchor="end" fill="#3a3a3a" style="font-size:7.6px;">1.0</text>
<line x1="360.00" y1="304.04" x2="362.60" y2="304.04" stroke="#555" stroke-width="0.7"/>
<text x="357.00" y="306.74" text-anchor="end" fill="#3a3a3a" style="font-size:7.6px;">0.7</text>
<line x1="360.00" y1="313.15" x2="362.60" y2="313.15" stroke="#555" stroke-width="0.7"/>
<text x="357.00" y="315.85" text-anchor="end" fill="#3a3a3a" style="font-size:7.6px;">0.5</text>
<line x1="368.00" y1="317.70" x2="368.00" y2="320.10" stroke="#555" stroke-width="0.7"/>
<text x="370.70" y="323.30" text-anchor="end" fill="#3a3a3a" style="font-size:7.6px;" transform="rotate(-90 370.70 323.30)">w/o</text>
<line x1="378.80" y1="317.70" x2="378.80" y2="320.10" stroke="#555" stroke-width="0.7"/>
<text x="381.50" y="323.30" text-anchor="end" fill="#3a3a3a" style="font-size:7.6px;" transform="rotate(-90 381.50 323.30)">1.0</text>
<line x1="389.60" y1="317.70" x2="389.60" y2="320.10" stroke="#555" stroke-width="0.7"/>
<text x="392.30" y="323.30" text-anchor="end" fill="#3a3a3a" style="font-size:7.6px;" transform="rotate(-90 392.30 323.30)">2.2</text>
<line x1="400.40" y1="317.70" x2="400.40" y2="320.10" stroke="#555" stroke-width="0.7"/>
<text x="403.10" y="323.30" text-anchor="end" fill="#3a3a3a" style="font-size:7.6px;" transform="rotate(-90 403.10 323.30)">4.7</text>
<line x1="411.20" y1="317.70" x2="411.20" y2="320.10" stroke="#555" stroke-width="0.7"/>
<text x="413.90" y="323.30" text-anchor="end" fill="#3a3a3a" style="font-size:7.6px;" transform="rotate(-90 413.90 323.30)">10</text>
<line x1="422.00" y1="317.70" x2="422.00" y2="320.10" stroke="#555" stroke-width="0.7"/>
<text x="424.70" y="323.30" text-anchor="end" fill="#3a3a3a" style="font-size:7.6px;" transform="rotate(-90 424.70 323.30)">22</text>
<line x1="432.80" y1="317.70" x2="432.80" y2="320.10" stroke="#555" stroke-width="0.7"/>
<text x="435.50" y="323.30" text-anchor="end" fill="#3a3a3a" style="font-size:7.6px;" transform="rotate(-90 435.50 323.30)">47</text>
<line x1="443.60" y1="317.70" x2="443.60" y2="320.10" stroke="#555" stroke-width="0.7"/>
<text x="446.30" y="323.30" text-anchor="end" fill="#3a3a3a" style="font-size:7.6px;" transform="rotate(-90 446.30 323.30)">100</text>
<line x1="454.40" y1="317.70" x2="454.40" y2="320.10" stroke="#555" stroke-width="0.7"/>
<text x="457.10" y="323.30" text-anchor="end" fill="#3a3a3a" style="font-size:7.6px;" transform="rotate(-90 457.10 323.30)">220</text>
<line x1="465.20" y1="317.70" x2="465.20" y2="320.10" stroke="#555" stroke-width="0.7"/>
<text x="467.90" y="323.30" text-anchor="end" fill="#3a3a3a" style="font-size:7.6px;" transform="rotate(-90 467.90 323.30)">470</text>
<line x1="476.00" y1="317.70" x2="476.00" y2="320.10" stroke="#555" stroke-width="0.7"/>
<text x="478.70" y="323.30" text-anchor="end" fill="#3a3a3a" style="font-size:7.6px;" transform="rotate(-90 478.70 323.30)">1,000</text>
<text x="423.50" y="355.90" text-anchor="middle" fill="#3a3a3a" style="font-size:8.7px;"><tspan font-style="italic">C</tspan><tspan font-size="6.7px" dy="2.0">mem</tspan><tspan dy="-2.0"> and </tspan><tspan font-style="italic">C</tspan><tspan font-size="6.7px" dy="2.0">f</tspan><tspan dy="-2.0"> (nF)</tspan></text>
<text x="334.60" y="257.60" text-anchor="middle" fill="#3a3a3a" transform="rotate(-90 334.60 257.60)" style="font-size:8.7px;"><tspan font-style="italic">I</tspan><tspan font-size="6.7px" dy="2.0">in</tspan><tspan dy="-2.0"> (µA)</tspan></text>
<text x="422.0" y="193.6" text-anchor="middle" fill="#3a3a3a" style="font-size:8.7px;"><tspan font-style="italic">f</tspan><tspan font-size="6.7px" dy="2.0">fire</tspan><tspan dy="-2.0"> (Hz)</tspan></text>
<rect x="482.8" y="200.90" width="5.80" height="3.55" fill="#f2f0c0"/>
<rect x="482.8" y="204.15" width="5.80" height="3.55" fill="#f0ec40"/>
<line x1="482.8" y1="204.15" x2="488.6" y2="204.15" stroke="#000" stroke-opacity="0.12" stroke-width="0.5"/>
<rect x="482.8" y="207.40" width="5.80" height="3.55" fill="#c9a035"/>
<line x1="482.8" y1="207.40" x2="488.6" y2="207.40" stroke="#000" stroke-opacity="0.12" stroke-width="0.5"/>
<rect x="482.8" y="210.65" width="5.80" height="3.55" fill="#8c5830"/>
<line x1="482.8" y1="210.65" x2="488.6" y2="210.65" stroke="#000" stroke-opacity="0.12" stroke-width="0.5"/>
<rect x="482.8" y="213.90" width="5.80" height="3.55" fill="#5e0e16"/>
<line x1="482.8" y1="213.90" x2="488.6" y2="213.90" stroke="#000" stroke-opacity="0.12" stroke-width="0.5"/>
<rect x="482.8" y="217.15" width="5.80" height="3.55" fill="#781820"/>
<line x1="482.8" y1="217.15" x2="488.6" y2="217.15" stroke="#000" stroke-opacity="0.12" stroke-width="0.5"/>
<rect x="482.8" y="220.40" width="5.80" height="3.55" fill="#922028"/>
<line x1="482.8" y1="220.40" x2="488.6" y2="220.40" stroke="#000" stroke-opacity="0.12" stroke-width="0.5"/>
<rect x="482.8" y="223.65" width="5.80" height="3.55" fill="#b02028"/>
<line x1="482.8" y1="223.65" x2="488.6" y2="223.65" stroke="#000" stroke-opacity="0.12" stroke-width="0.5"/>
<rect x="482.8" y="226.90" width="5.80" height="3.55" fill="#d02a2a"/>
<line x1="482.8" y1="226.90" x2="488.6" y2="226.90" stroke="#000" stroke-opacity="0.12" stroke-width="0.5"/>
<rect x="482.8" y="230.15" width="5.80" height="3.55" fill="#e03530"/>
<line x1="482.8" y1="230.15" x2="488.6" y2="230.15" stroke="#000" stroke-opacity="0.12" stroke-width="0.5"/>
<rect x="482.8" y="233.40" width="5.80" height="3.55" fill="#e8403a"/>
<line x1="482.8" y1="233.40" x2="488.6" y2="233.40" stroke="#000" stroke-opacity="0.12" stroke-width="0.5"/>
<rect x="482.8" y="236.65" width="5.80" height="3.55" fill="#f04e40"/>
<line x1="482.8" y1="236.65" x2="488.6" y2="236.65" stroke="#000" stroke-opacity="0.12" stroke-width="0.5"/>
<rect x="482.8" y="239.90" width="5.80" height="3.55" fill="#f86050"/>
<line x1="482.8" y1="239.90" x2="488.6" y2="239.90" stroke="#000" stroke-opacity="0.12" stroke-width="0.5"/>
<rect x="482.8" y="243.15" width="5.80" height="3.55" fill="#fa7058"/>
<line x1="482.8" y1="243.15" x2="488.6" y2="243.15" stroke="#000" stroke-opacity="0.12" stroke-width="0.5"/>
<rect x="482.8" y="246.40" width="5.80" height="3.55" fill="#fa8065"/>
<line x1="482.8" y1="246.40" x2="488.6" y2="246.40" stroke="#000" stroke-opacity="0.12" stroke-width="0.5"/>
<rect x="482.8" y="249.65" width="5.80" height="3.55" fill="#fb9075"/>
<line x1="482.8" y1="249.65" x2="488.6" y2="249.65" stroke="#000" stroke-opacity="0.12" stroke-width="0.5"/>
<rect x="482.8" y="252.90" width="5.80" height="3.55" fill="#fba088"/>
<line x1="482.8" y1="252.90" x2="488.6" y2="252.90" stroke="#000" stroke-opacity="0.12" stroke-width="0.5"/>
<rect x="482.8" y="256.15" width="5.80" height="3.55" fill="#fdb498"/>
<line x1="482.8" y1="256.15" x2="488.6" y2="256.15" stroke="#000" stroke-opacity="0.12" stroke-width="0.5"/>
<rect x="482.8" y="259.40" width="5.80" height="3.55" fill="#fdcab0"/>
<line x1="482.8" y1="259.40" x2="488.6" y2="259.40" stroke="#000" stroke-opacity="0.12" stroke-width="0.5"/>
<rect x="482.8" y="262.65" width="5.80" height="3.55" fill="#f5dcd0"/>
<line x1="482.8" y1="262.65" x2="488.6" y2="262.65" stroke="#000" stroke-opacity="0.12" stroke-width="0.5"/>
<rect x="482.8" y="265.90" width="5.80" height="3.55" fill="#e8e8f0"/>
<line x1="482.8" y1="265.90" x2="488.6" y2="265.90" stroke="#000" stroke-opacity="0.12" stroke-width="0.5"/>
<rect x="482.8" y="269.15" width="5.80" height="3.55" fill="#d5e8f4"/>
<line x1="482.8" y1="269.15" x2="488.6" y2="269.15" stroke="#000" stroke-opacity="0.12" stroke-width="0.5"/>
<rect x="482.8" y="272.40" width="5.80" height="3.55" fill="#c5e0f0"/>
<line x1="482.8" y1="272.40" x2="488.6" y2="272.40" stroke="#000" stroke-opacity="0.12" stroke-width="0.5"/>
<rect x="482.8" y="275.65" width="5.80" height="3.55" fill="#b0d5ea"/>
<line x1="482.8" y1="275.65" x2="488.6" y2="275.65" stroke="#000" stroke-opacity="0.12" stroke-width="0.5"/>
<rect x="482.8" y="278.90" width="5.80" height="3.55" fill="#98c8e2"/>
<line x1="482.8" y1="278.90" x2="488.6" y2="278.90" stroke="#000" stroke-opacity="0.12" stroke-width="0.5"/>
<rect x="482.8" y="282.15" width="5.80" height="3.55" fill="#88bede"/>
<line x1="482.8" y1="282.15" x2="488.6" y2="282.15" stroke="#000" stroke-opacity="0.12" stroke-width="0.5"/>
<rect x="482.8" y="285.40" width="5.80" height="3.55" fill="#78b4d8"/>
<line x1="482.8" y1="285.40" x2="488.6" y2="285.40" stroke="#000" stroke-opacity="0.12" stroke-width="0.5"/>
<rect x="482.8" y="288.65" width="5.80" height="3.55" fill="#68a8d2"/>
<line x1="482.8" y1="288.65" x2="488.6" y2="288.65" stroke="#000" stroke-opacity="0.12" stroke-width="0.5"/>
<rect x="482.8" y="291.90" width="5.80" height="3.55" fill="#5aa0cc"/>
<line x1="482.8" y1="291.90" x2="488.6" y2="291.90" stroke="#000" stroke-opacity="0.12" stroke-width="0.5"/>
<rect x="482.8" y="295.15" width="5.80" height="3.55" fill="#4a94c6"/>
<line x1="482.8" y1="295.15" x2="488.6" y2="295.15" stroke="#000" stroke-opacity="0.12" stroke-width="0.5"/>
<rect x="482.8" y="298.40" width="5.80" height="3.55" fill="#3e88c0"/>
<line x1="482.8" y1="298.40" x2="488.6" y2="298.40" stroke="#000" stroke-opacity="0.12" stroke-width="0.5"/>
<rect x="482.8" y="301.65" width="5.80" height="3.55" fill="#347cb8"/>
<line x1="482.8" y1="301.65" x2="488.6" y2="301.65" stroke="#000" stroke-opacity="0.12" stroke-width="0.5"/>
<rect x="482.8" y="304.90" width="5.80" height="3.55" fill="#2c70b0"/>
<line x1="482.8" y1="304.90" x2="488.6" y2="304.90" stroke="#000" stroke-opacity="0.12" stroke-width="0.5"/>
<rect x="482.8" y="308.15" width="5.80" height="3.55" fill="#2860a8"/>
<line x1="482.8" y1="308.15" x2="488.6" y2="308.15" stroke="#000" stroke-opacity="0.12" stroke-width="0.5"/>
<rect x="482.8" y="311.40" width="5.80" height="3.55" fill="#24509a"/>
<line x1="482.8" y1="311.40" x2="488.6" y2="311.40" stroke="#000" stroke-opacity="0.12" stroke-width="0.5"/>
<rect x="482.8" y="314.65" width="5.80" height="3.55" fill="#203c80"/>
<line x1="482.8" y1="314.65" x2="488.6" y2="314.65" stroke="#000" stroke-opacity="0.12" stroke-width="0.5"/>
<rect x="482.8" y="200.9" width="5.80" height="117.00" fill="none" stroke="#999" stroke-width="0.5"/>
<line x1="488.60" y1="204.15" x2="490.10" y2="204.15" stroke="#666" stroke-width="0.5"/>
<text x="491.00" y="206.85" text-anchor="start" fill="#3a3a3a" style="font-size:7.6px;">1,000</text>
<line x1="488.60" y1="213.93" x2="490.10" y2="213.93" stroke="#666" stroke-width="0.5"/>
<text x="491.00" y="216.63" text-anchor="start" fill="#3a3a3a" style="font-size:7.6px;">500</text>
<line x1="488.60" y1="226.87" x2="490.10" y2="226.87" stroke="#666" stroke-width="0.5"/>
<text x="491.00" y="229.57" text-anchor="start" fill="#3a3a3a" style="font-size:7.6px;">200</text>
<line x1="488.60" y1="236.65" x2="490.10" y2="236.65" stroke="#666" stroke-width="0.5"/>
<text x="491.00" y="239.35" text-anchor="start" fill="#3a3a3a" style="font-size:7.6px;">100</text>
<line x1="488.60" y1="246.43" x2="490.10" y2="246.43" stroke="#666" stroke-width="0.5"/>
<text x="491.00" y="249.13" text-anchor="start" fill="#3a3a3a" style="font-size:7.6px;">50</text>
<line x1="488.60" y1="259.37" x2="490.10" y2="259.37" stroke="#666" stroke-width="0.5"/>
<text x="491.00" y="262.07" text-anchor="start" fill="#3a3a3a" style="font-size:7.6px;">20</text>
<line x1="488.60" y1="269.15" x2="490.10" y2="269.15" stroke="#666" stroke-width="0.5"/>
<text x="491.00" y="271.85" text-anchor="start" fill="#3a3a3a" style="font-size:7.6px;">10</text>
<line x1="488.60" y1="278.93" x2="490.10" y2="278.93" stroke="#666" stroke-width="0.5"/>
<text x="491.00" y="281.63" text-anchor="start" fill="#3a3a3a" style="font-size:7.6px;">5</text>
<line x1="488.60" y1="291.87" x2="490.10" y2="291.87" stroke="#666" stroke-width="0.5"/>
<text x="491.00" y="294.57" text-anchor="start" fill="#3a3a3a" style="font-size:7.6px;">2</text>
<line x1="488.60" y1="301.65" x2="490.10" y2="301.65" stroke="#666" stroke-width="0.5"/>
<text x="491.00" y="304.35" text-anchor="start" fill="#3a3a3a" style="font-size:7.6px;">1</text>
<line x1="488.60" y1="311.43" x2="490.10" y2="311.43" stroke="#666" stroke-width="0.5"/>
<text x="491.00" y="314.13" text-anchor="start" fill="#3a3a3a" style="font-size:7.6px;">0.5</text>
<text x="0.30" y="6.60" text-anchor="start" fill="#000" style="font-size:12px;font-weight:bold;">a</text>
<text x="165.30" y="6.60" text-anchor="start" fill="#000" style="font-size:12px;font-weight:bold;">c</text>
<text x="329.60" y="6.60" text-anchor="start" fill="#000" style="font-size:12px;font-weight:bold;">e</text>
<text x="513.30" y="6.60" text-anchor="start" fill="#000" style="font-size:12px;font-weight:bold;">g</text>
<text x="0.50" y="191.80" text-anchor="start" fill="#000" style="font-size:12px;font-weight:bold;">b</text>
<text x="165.30" y="191.80" text-anchor="start" fill="#000" style="font-size:12px;font-weight:bold;">d</text>
<text x="329.30" y="191.80" text-anchor="start" fill="#000" style="font-size:12px;font-weight:bold;">f</text>
<text x="513.50" y="195.00" text-anchor="start" fill="#000" style="font-size:12px;font-weight:bold;">h</text>
<rect x="367.50" y="13.40" width="56.00" height="59.50" fill="none" stroke="#888" stroke-width="0.7"/>
<rect x="367.50" y="72.90" width="56.00" height="59.20" fill="none" stroke="#888" stroke-width="0.7"/>
<rect x="430.10" y="13.40" width="56.20" height="59.50" fill="none" stroke="#888" stroke-width="0.7"/>
<rect x="430.10" y="72.90" width="56.20" height="59.20" fill="none" stroke="#888" stroke-width="0.7"/>
<line x1="365.20" y1="21.50" x2="367.50" y2="21.50" stroke="#555" stroke-width="0.7"/>
<line x1="365.20" y1="80.60" x2="367.50" y2="80.60" stroke="#555" stroke-width="0.7"/>
<line x1="427.80" y1="21.50" x2="430.10" y2="21.50" stroke="#555" stroke-width="0.7"/>
<line x1="427.80" y1="80.60" x2="430.10" y2="80.60" stroke="#555" stroke-width="0.7"/>
<text x="362.10" y="24.30" text-anchor="end" fill="#3a3a3a" style="font-size:7.8px;">0.6</text>
<text x="362.10" y="83.40" text-anchor="end" fill="#3a3a3a" style="font-size:7.8px;">0.6</text>
<line x1="365.20" y1="36.60" x2="367.50" y2="36.60" stroke="#555" stroke-width="0.7"/>
<line x1="365.20" y1="95.80" x2="367.50" y2="95.80" stroke="#555" stroke-width="0.7"/>
<line x1="427.80" y1="36.60" x2="430.10" y2="36.60" stroke="#555" stroke-width="0.7"/>
<line x1="427.80" y1="95.80" x2="430.10" y2="95.80" stroke="#555" stroke-width="0.7"/>
<text x="362.10" y="39.40" text-anchor="end" fill="#3a3a3a" style="font-size:7.8px;">0.4</text>
<text x="362.10" y="98.60" text-anchor="end" fill="#3a3a3a" style="font-size:7.8px;">0.4</text>
<line x1="365.20" y1="51.70" x2="367.50" y2="51.70" stroke="#555" stroke-width="0.7"/>
<line x1="365.20" y1="111.00" x2="367.50" y2="111.00" stroke="#555" stroke-width="0.7"/>
<line x1="427.80" y1="51.70" x2="430.10" y2="51.70" stroke="#555" stroke-width="0.7"/>
<line x1="427.80" y1="111.00" x2="430.10" y2="111.00" stroke="#555" stroke-width="0.7"/>
<text x="362.10" y="54.50" text-anchor="end" fill="#3a3a3a" style="font-size:7.8px;">0.2</text>
<text x="362.10" y="113.80" text-anchor="end" fill="#3a3a3a" style="font-size:7.8px;">0.2</text>
<line x1="365.20" y1="66.80" x2="367.50" y2="66.80" stroke="#555" stroke-width="0.7"/>
<line x1="365.20" y1="126.20" x2="367.50" y2="126.20" stroke="#555" stroke-width="0.7"/>
<line x1="427.80" y1="66.80" x2="430.10" y2="66.80" stroke="#555" stroke-width="0.7"/>
<line x1="427.80" y1="126.20" x2="430.10" y2="126.20" stroke="#555" stroke-width="0.7"/>
<text x="362.10" y="69.60" text-anchor="end" fill="#3a3a3a" style="font-size:7.8px;">0</text>
<text x="362.10" y="129.00" text-anchor="end" fill="#3a3a3a" style="font-size:7.8px;">0</text>
<line x1="367.50" y1="132.10" x2="367.50" y2="134.40" stroke="#555" stroke-width="0.7"/>
<line x1="367.50" y1="72.90" x2="367.50" y2="71.10" stroke="#666" stroke-width="0.5"/>
<text x="367.50" y="143.90" text-anchor="middle" fill="#3a3a3a" style="font-size:7.9px;">0</text>
<line x1="381.50" y1="132.10" x2="381.50" y2="134.40" stroke="#555" stroke-width="0.7"/>
<line x1="381.50" y1="72.90" x2="381.50" y2="71.10" stroke="#666" stroke-width="0.5"/>
<text x="381.50" y="143.90" text-anchor="middle" fill="#3a3a3a" style="font-size:7.9px;">2</text>
<line x1="395.50" y1="132.10" x2="395.50" y2="134.40" stroke="#555" stroke-width="0.7"/>
<line x1="395.50" y1="72.90" x2="395.50" y2="71.10" stroke="#666" stroke-width="0.5"/>
<text x="395.50" y="143.90" text-anchor="middle" fill="#3a3a3a" style="font-size:7.9px;">4</text>
<line x1="409.50" y1="132.10" x2="409.50" y2="134.40" stroke="#555" stroke-width="0.7"/>
<line x1="409.50" y1="72.90" x2="409.50" y2="71.10" stroke="#666" stroke-width="0.5"/>
<text x="409.50" y="143.90" text-anchor="middle" fill="#3a3a3a" style="font-size:7.9px;">6</text>
<line x1="423.50" y1="132.10" x2="423.50" y2="134.40" stroke="#555" stroke-width="0.7"/>
<line x1="423.50" y1="72.90" x2="423.50" y2="71.10" stroke="#666" stroke-width="0.5"/>
<text x="423.50" y="143.90" text-anchor="middle" fill="#3a3a3a" style="font-size:7.9px;">8</text>
<line x1="430.10" y1="132.10" x2="430.10" y2="134.40" stroke="#555" stroke-width="0.7"/>
<line x1="430.10" y1="72.90" x2="430.10" y2="71.10" stroke="#666" stroke-width="0.5"/>
<text x="430.10" y="143.90" text-anchor="middle" fill="#3a3a3a" style="font-size:7.9px;">0</text>
<line x1="444.15" y1="132.10" x2="444.15" y2="134.40" stroke="#555" stroke-width="0.7"/>
<line x1="444.15" y1="72.90" x2="444.15" y2="71.10" stroke="#666" stroke-width="0.5"/>
<text x="444.15" y="143.90" text-anchor="middle" fill="#3a3a3a" style="font-size:7.9px;">0.9</text>
<line x1="458.20" y1="132.10" x2="458.20" y2="134.40" stroke="#555" stroke-width="0.7"/>
<line x1="458.20" y1="72.90" x2="458.20" y2="71.10" stroke="#666" stroke-width="0.5"/>
<text x="458.20" y="143.90" text-anchor="middle" fill="#3a3a3a" style="font-size:7.9px;">1.8</text>
<line x1="472.25" y1="132.10" x2="472.25" y2="134.40" stroke="#555" stroke-width="0.7"/>
<line x1="472.25" y1="72.90" x2="472.25" y2="71.10" stroke="#666" stroke-width="0.5"/>
<text x="472.25" y="143.90" text-anchor="middle" fill="#3a3a3a" style="font-size:7.9px;">2.7</text>
<line x1="486.30" y1="132.10" x2="486.30" y2="134.40" stroke="#555" stroke-width="0.7"/>
<line x1="486.30" y1="72.90" x2="486.30" y2="71.10" stroke="#666" stroke-width="0.5"/>
<text x="486.30" y="143.90" text-anchor="middle" fill="#3a3a3a" style="font-size:7.9px;">3.6</text>
<text x="396.70" y="157.20" text-anchor="middle" fill="#3a3a3a" style="font-size:8.9px;">Time (ms)</text>
<text x="459.40" y="157.20" text-anchor="middle" fill="#3a3a3a" style="font-size:8.9px;">Time (ms)</text>
<text x="344.60" y="41.55" text-anchor="middle" fill="#3a3a3a" transform="rotate(-90 344.60 41.55)" style="font-size:8.7px;"><tspan font-style="italic">V</tspan><tspan font-size="6.7px" dy="2.0">mem</tspan><tspan dy="-2.0"> (V)</tspan></text>
<text x="344.60" y="102.50" text-anchor="middle" fill="#3a3a3a" transform="rotate(-90 344.60 102.50)" style="font-size:8.7px;"><tspan font-style="italic">V</tspan><tspan font-size="6.7px" dy="2.0">fire</tspan><tspan dy="-2.0"> (V)</tspan></text>
<text x="368.60" y="19.80" text-anchor="start" fill="#3a3a3a" style="font-size:6.5px;" textLength="10.3" lengthAdjust="spacingAndGlyphs">BBL</text>
<text x="430.40" y="19.80" text-anchor="start" fill="#3a3a3a" style="font-size:6.4px;" textLength="36.8" lengthAdjust="spacingAndGlyphs">FBDPPV-OEG</text>
<text x="368.60" y="79.90" text-anchor="start" fill="#3a3a3a" style="font-size:5.6px;" textLength="19.0" lengthAdjust="spacingAndGlyphs">493 Hz</text>
<text x="430.40" y="79.90" text-anchor="start" fill="#3a3a3a" style="font-size:5.6px;" textLength="23.3" lengthAdjust="spacingAndGlyphs">1,100 Hz</text>
<text x="392.7" y="130.6" textLength="30.2" lengthAdjust="spacingAndGlyphs" fill="#3a3a3a" style="font-size:6.1px;"><tspan font-style="italic">I</tspan><tspan font-size="4.5px" dy="1.2">in</tspan><tspan dy="-1.2"> = 11.2 µA</tspan></text>
<text x="459.1" y="130.6" textLength="26.8" lengthAdjust="spacingAndGlyphs" fill="#3a3a3a" style="font-size:6.1px;"><tspan font-style="italic">I</tspan><tspan font-size="4.5px" dy="1.2">in</tspan><tspan dy="-1.2"> = 32 µA</tspan></text>
<polyline points="367.82,24.07 367.87,23.92 367.92,23.78 367.98,23.64 368.03,23.52 368.08,23.40 368.14,23.30 368.19,23.20 368.24,23.11 368.29,23.04 368.35,22.97 368.40,22.91 368.45,22.86 368.51,22.82 368.56,22.79 368.61,22.77 368.66,22.76 368.72,22.76 368.77,22.76 368.82,22.78 368.88,22.81 368.93,22.85 368.98,22.89 369.03,22.95 369.09,23.01 369.14,23.09 369.19,23.17 369.25,23.26 369.30,23.37 369.35,23.48 369.41,23.60 369.46,23.73 369.51,23.87 369.56,24.02 369.62,24.18 369.67,24.34 369.72,24.52 369.78,24.70 369.83,24.89 369.88,25.09 369.93,25.30 369.99,25.52 370.04,25.74 370.09,25.97 370.15,26.21 370.20,26.46 370.25,26.72 370.30,26.98 370.36,27.25 370.41,27.53 370.46,27.81 370.52,28.11 370.57,28.40 370.62,28.71 370.67,29.02 370.73,29.34 370.78,29.66 370.83,29.99 370.89,30.32 370.94,30.66 370.99,31.01 371.04,31.36 371.10,31.71 371.15,32.07 371.20,32.44 371.26,32.81 371.31,33.18 371.36,33.56 371.41,33.94 371.47,34.32 371.52,34.71 371.57,35.10 371.63,35.49 371.68,35.89 371.73,36.29 371.78,36.69 371.84,37.09 371.89,37.50 371.94,37.90 372.00,38.31 372.05,38.72 372.10,39.13 372.15,39.54 372.21,39.95 372.26,40.36 372.31,40.77 372.37,41.18 372.42,41.59 372.47,42.00 372.52,42.41 372.58,42.82 372.63,43.22 372.68,43.63 372.74,44.03 372.79,44.43 372.84,44.83 372.89,45.22 372.95,45.62 373.00,46.01 373.05,46.40 373.11,46.78 373.16,47.16 373.21,47.54 373.27,47.91 373.32,48.28 373.37,48.65 373.42,49.01 373.48,49.36 373.53,49.71 373.58,50.06 373.64,50.40 373.69,50.73 373.74,51.06 373.79,51.39 373.85,51.71 373.90,52.02 373.95,52.32 374.01,52.62 374.06,52.91 374.11,53.20 374.16,53.48 374.22,53.75 374.27,54.01 374.32,54.27 374.38,54.52 374.43,54.76 374.48,54.99 374.53,55.22 374.59,55.43 374.64,55.64 374.69,55.84 374.75,56.04 374.80,56.22 374.85,56.40 374.90,56.56 374.96,56.72 375.01,56.87 375.06,57.01 375.12,57.14 375.17,57.26 375.22,57.37 375.27,57.48 375.33,57.57 375.38,57.66 375.43,57.73 375.49,57.80 375.54,57.85 375.59,57.90 375.64,57.94 375.70,57.97 375.75,57.98 375.80,57.99 375.86,57.99 375.91,57.98 375.96,57.96 376.01,57.93 376.07,57.89 376.12,57.84 376.17,57.79 376.23,57.72 376.28,57.64 376.33,57.56 376.38,57.46 376.44,57.36 376.49,57.24 376.54,57.12 376.60,56.98 376.65,56.84 376.70,56.69 376.75,56.53 376.81,56.37 376.86,56.19 376.91,56.00 376.97,55.81 377.02,55.61 377.07,55.40 377.13,55.18 377.18,54.95 377.23,54.72 377.28,54.47 377.34,54.22 377.39,53.97 377.44,53.70 377.50,53.43 377.55,53.15 377.60,52.86 377.65,52.57 377.71,52.27 377.76,51.96 377.81,51.65 377.87,51.33 377.92,51.01 377.97,50.68 378.02,50.34 378.08,50.00 378.13,49.65 378.18,49.30 378.24,48.94 378.29,48.58 378.34,48.22 378.39,47.85 378.45,47.47 378.50,47.10 378.55,46.71 378.61,46.33 378.66,45.94 378.71,45.55 378.76,45.16 378.82,44.76 378.87,44.36 378.92,43.96 378.98,43.56 379.03,43.15 379.08,42.74 379.13,42.34 379.19,41.93 379.24,41.52 379.29,41.11 379.35,40.70 379.40,40.29 379.45,39.88 379.50,39.47 379.56,39.06 379.61,38.65 379.66,38.24 379.72,37.83 379.77,37.43 379.82,37.02 379.87,36.62 379.93,36.22 379.98,35.82 380.03,35.43 380.09,35.03 380.14,34.64 380.19,34.26 380.24,33.87 380.30,33.49 380.35,33.12 380.40,32.74 380.46,32.38 380.51,32.01 380.56,31.65 380.62,31.30 380.67,30.95 380.72,30.60 380.77,30.26 380.83,29.93 380.88,29.60 380.93,29.28 380.99,28.96 381.04,28.65 381.09,28.35 381.14,28.05 381.20,27.76 381.25,27.48 381.30,27.20 381.36,26.94 381.41,26.67 381.46,26.42 381.51,26.17 381.57,25.93 381.62,25.70 381.67,25.48 381.73,25.26 381.78,25.06 381.83,24.86 381.88,24.67 381.94,24.48 381.99,24.31 382.04,24.15 382.10,23.99 382.15,23.84 382.20,23.71 382.25,23.58 382.31,23.46 382.36,23.35 382.41,23.25 382.47,23.16 382.52,23.07 382.57,23.00 382.62,22.94 382.68,22.88 382.73,22.84 382.78,22.80 382.84,22.78 382.89,22.76 382.94,22.76 382.99,22.76 383.05,22.77 383.10,22.79 383.15,22.83 383.21,22.87 383.26,22.92 383.31,22.98 383.36,23.05 383.42,23.13 383.47,23.22 383.52,23.32 383.58,23.42 383.63,23.54 383.68,23.67 383.73,23.80 383.79,23.94 383.84,24.10 383.89,24.26 383.95,24.43 384.00,24.61 384.05,24.80 384.10,24.99 384.16,25.20 384.21,25.41 384.26,25.63 384.32,25.86 384.37,26.09 384.42,26.34 384.48,26.59 384.53,26.85 384.58,27.12 384.63,27.39 384.69,27.67 384.74,27.96 384.79,28.26 384.85,28.56 384.90,28.87 384.95,29.18 385.00,29.50 385.06,29.83 385.11,30.16 385.16,30.50 385.22,30.84 385.27,31.19 385.32,31.54 385.37,31.90 385.43,32.26 385.48,32.63 385.53,33.00 385.59,33.37 385.64,33.75 385.69,34.13 385.74,34.52 385.80,34.91 385.85,35.30 385.90,35.69 385.96,36.09 386.01,36.49 386.06,36.89 386.11,37.30 386.17,37.70 386.22,38.11 386.27,38.52 386.33,38.93 386.38,39.34 386.43,39.75 386.48,40.16 386.54,40.57 386.59,40.98 386.64,41.39 386.70,41.80 386.75,42.21 386.80,42.62 386.85,43.02 386.91,43.43 386.96,43.83 387.01,44.23 387.07,44.63 387.12,45.03 387.17,45.43 387.22,45.82 387.28,46.21 387.33,46.59 387.38,46.98 387.44,47.35 387.49,47.73 387.54,48.10 387.59,48.47 387.65,48.83 387.70,49.19 387.75,49.54 387.81,49.89 387.86,50.23 387.91,50.57 387.96,50.90 388.02,51.23 388.07,51.55 388.12,51.86 388.18,52.17 388.23,52.47 388.28,52.77 388.34,53.06 388.39,53.34 388.44,53.62 388.49,53.88 388.55,54.14 388.60,54.40 388.65,54.64 388.71,54.88 388.76,55.11 388.81,55.33 388.86,55.54 388.92,55.75 388.97,55.94 389.02,56.13 389.08,56.31 389.13,56.48 389.18,56.64 389.23,56.80 389.29,56.94 389.34,57.08 389.39,57.20 389.45,57.32 389.50,57.43 389.55,57.53 389.60,57.62 389.66,57.70 389.71,57.77 389.76,57.83 389.82,57.88 389.87,57.92 389.92,57.95 389.97,57.98 390.03,57.99 390.08,57.99 390.13,57.99 390.19,57.97 390.24,57.95 390.29,57.91 390.34,57.87 390.40,57.82 390.45,57.75 390.50,57.68 390.56,57.60 390.61,57.51 390.66,57.41 390.71,57.30 390.77,57.18 390.82,57.05 390.87,56.91 390.93,56.77 390.98,56.61 391.03,56.45 391.08,56.28 391.14,56.10 391.19,55.91 391.24,55.71 391.30,55.50 391.35,55.29 391.40,55.06 391.45,54.83 391.51,54.59 391.56,54.35 391.61,54.09 391.67,53.83 391.72,53.56 391.77,53.29 391.83,53.00 391.88,52.71 391.93,52.42 391.98,52.11 392.04,51.80 392.09,51.49 392.14,51.17 392.20,50.84 392.25,50.51 392.30,50.17 392.35,49.82 392.41,49.47 392.46,49.12 392.51,48.76 392.57,48.40 392.62,48.03 392.67,47.66 392.72,47.28 392.78,46.90 392.83,46.52 392.88,46.13 392.94,45.74 392.99,45.35 393.04,44.95 393.09,44.56 393.15,44.16 393.20,43.75 393.25,43.35 393.31,42.94 393.36,42.54 393.41,42.13 393.46,41.72 393.52,41.31 393.57,40.90 393.62,40.49 393.68,40.08 393.73,39.67 393.78,39.26 393.83,38.85 393.89,38.44 393.94,38.03 393.99,37.62 394.05,37.22 394.10,36.82 394.15,36.42 394.20,36.02 394.26,35.62 394.31,35.22 394.36,34.83 394.42,34.45 394.47,34.06 394.52,33.68 394.57,33.30 394.63,32.93 394.68,32.56 394.73,32.19 394.79,31.83 394.84,31.47 394.89,31.12 394.94,30.77 395.00,30.43 395.05,30.09 395.10,29.76 395.16,29.44 395.21,29.12 395.26,28.81 395.31,28.50 395.37,28.20 395.42,27.91 395.47,27.62 395.53,27.34 395.58,27.07 395.63,26.80 395.69,26.54 395.74,26.29 395.79,26.05 395.84,25.81 395.90,25.59 395.95,25.37 396.00,25.16 396.06,24.95 396.11,24.76 396.16,24.57 396.21,24.40 396.27,24.23 396.32,24.07 396.37,23.92 396.43,23.77 396.48,23.64 396.53,23.52 396.58,23.40 396.64,23.30 396.69,23.20 396.74,23.11 396.80,23.04 396.85,22.97 396.90,22.91 396.95,22.86 397.01,22.82 397.06,22.79 397.11,22.77 397.17,22.76 397.22,22.76 397.27,22.76 397.32,22.78 397.38,22.81 397.43,22.85 397.48,22.89 397.54,22.95 397.59,23.01 397.64,23.09 397.69,23.17 397.75,23.27 397.80,23.37 397.85,23.48 397.91,23.60 397.96,23.73 398.01,23.87 398.06,24.02 398.12,24.18 398.17,24.34 398.22,24.52 398.28,24.70 398.33,24.89 398.38,25.09 398.43,25.30 398.49,25.52 398.54,25.74 398.59,25.98 398.65,26.22 398.70,26.47 398.75,26.72 398.80,26.99 398.86,27.26 398.91,27.53 398.96,27.82 399.02,28.11 399.07,28.41 399.12,28.71 399.17,29.02 399.23,29.34 399.28,29.67 399.33,29.99 399.39,30.33 399.44,30.67 399.49,31.01 399.55,31.37 399.60,31.72 399.65,32.08 399.70,32.45 399.76,32.81 399.81,33.19 399.86,33.56 399.92,33.95 399.97,34.33 400.02,34.72 400.07,35.11 400.13,35.50 400.18,35.90 400.23,36.30 400.29,36.70 400.34,37.10 400.39,37.50 400.44,37.91 400.50,38.32 400.55,38.72 400.60,39.13 400.66,39.54 400.71,39.95 400.76,40.37 400.81,40.78 400.87,41.19 400.92,41.60 400.97,42.01 401.03,42.42 401.08,42.82 401.13,43.23 401.18,43.63 401.24,44.04 401.29,44.44 401.34,44.84 401.40,45.23 401.45,45.63 401.50,46.02 401.55,46.40 401.61,46.79 401.66,47.17 401.71,47.55 401.77,47.92 401.82,48.29 401.87,48.65 401.92,49.01 401.98,49.37 402.03,49.72 402.08,50.07 402.14,50.41 402.19,50.74 402.24,51.07 402.29,51.39 402.35,51.71 402.40,52.02 402.45,52.33 402.51,52.63 402.56,52.92 402.61,53.20 402.66,53.48 402.72,53.75 402.77,54.02 402.82,54.27 402.88,54.52 402.93,54.76 402.98,54.99 403.04,55.22 403.09,55.44 403.14,55.65 403.19,55.85 403.25,56.04 403.30,56.22 403.35,56.40 403.41,56.56 403.46,56.72 403.51,56.87 403.56,57.01 403.62,57.14 403.67,57.26 403.72,57.38 403.78,57.48 403.83,57.57 403.88,57.66 403.93,57.73 403.99,57.80 404.04,57.85 404.09,57.90 404.15,57.94 404.20,57.97 404.25,57.98 404.30,57.99 404.36,57.99 404.41,57.98 404.46,57.96 404.52,57.93 404.57,57.89 404.62,57.84 404.67,57.79 404.73,57.72 404.78,57.64 404.83,57.55 404.89,57.46 404.94,57.35 404.99,57.24 405.04,57.12 405.10,56.98 405.15,56.84 405.20,56.69 405.26,56.53 405.31,56.36 405.36,56.19 405.41,56.00 405.47,55.81 405.52,55.60 405.57,55.39 405.63,55.17 405.68,54.95 405.73,54.71 405.78,54.47 405.84,54.22 405.89,53.96 405.94,53.70 406.00,53.42 406.05,53.14 406.10,52.86 406.15,52.56 406.21,52.26 406.26,51.96 406.31,51.65 406.37,51.33 406.42,51.00 406.47,50.67 406.52,50.33 406.58,49.99 406.63,49.65 406.68,49.29 406.74,48.94 406.79,48.58 406.84,48.21 406.90,47.84 406.95,47.47 407.00,47.09 407.05,46.71 407.11,46.32 407.16,45.93 407.21,45.54 407.27,45.15 407.32,44.75 407.37,44.35 407.42,43.95 407.48,43.55 407.53,43.14 407.58,42.74 407.64,42.33 407.69,41.92 407.74,41.51 407.79,41.10 407.85,40.69 407.90,40.28 407.95,39.87 408.01,39.46 408.06,39.05 408.11,38.64 408.16,38.23 408.22,37.82 408.27,37.42 408.32,37.01 408.38,36.61 408.43,36.21 408.48,35.81 408.53,35.42 408.59,35.03 408.64,34.64 408.69,34.25 408.75,33.87 408.80,33.49 408.85,33.11 408.90,32.74 408.96,32.37 409.01,32.01 409.06,31.65 409.12,31.29 409.17,30.94 409.22,30.60 409.27,30.26 409.33,29.93 409.38,29.60 409.43,29.28 409.49,28.96 409.54,28.65 409.59,28.35 409.64,28.05 409.70,27.76 409.75,27.48 409.80,27.20 409.86,26.93 409.91,26.67 409.96,26.41 410.01,26.17 410.07,25.93 410.12,25.70 410.17,25.47 410.23,25.26 410.28,25.05 410.33,24.85 410.38,24.66 410.44,24.48 410.49,24.31 410.54,24.14 410.60,23.99 410.65,23.84 410.70,23.70 410.76,23.58 410.81,23.46 410.86,23.35 410.91,23.25 410.97,23.15 411.02,23.07 411.07,23.00 411.13,22.94 411.18,22.88 411.23,22.84 411.28,22.80 411.34,22.78 411.39,22.76 411.44,22.76 411.50,22.76 411.55,22.77 411.60,22.80 411.65,22.83 411.71,22.87 411.76,22.92 411.81,22.98 411.87,23.05 411.92,23.13 411.97,23.22 412.02,23.32 412.08,23.43 412.13,23.54 412.18,23.67 412.24,23.80 412.29,23.95 412.34,24.10 412.39,24.26 412.45,24.43 412.50,24.61 412.55,24.80 412.61,24.99 412.66,25.20 412.71,25.41 412.76,25.63 412.82,25.86 412.87,26.10 412.92,26.34 412.98,26.60 413.03,26.86 413.08,27.12 413.13,27.40 413.19,27.68 413.24,27.97 413.29,28.26 413.35,28.56 413.40,28.87 413.45,29.19 413.50,29.51 413.56,29.83 413.61,30.16 413.66,30.50 413.72,30.84 413.77,31.19 413.82,31.55 413.87,31.90 413.93,32.27 413.98,32.63 414.03,33.00 414.09,33.38 414.14,33.76 414.19,34.14 414.25,34.53 414.30,34.91 414.35,35.31 414.40,35.70 414.46,36.10 414.51,36.50 414.56,36.90 414.62,37.30 414.67,37.71 414.72,38.12 414.77,38.52 414.83,38.93 414.88,39.34 414.93,39.75 414.99,40.16 415.04,40.57 415.09,40.99 415.14,41.40 415.20,41.81 415.25,42.21 415.30,42.62 415.36,43.03 415.41,43.43 415.46,43.84 415.51,44.24 415.57,44.64 415.62,45.04 415.67,45.43 415.73,45.82 415.78,46.21 415.83,46.60 415.88,46.98 415.94,47.36 415.99,47.74 416.04,48.11 416.10,48.47 416.15,48.84 416.20,49.19 416.25,49.55 416.31,49.90 416.36,50.24 416.41,50.58 416.47,50.91 416.52,51.24 416.57,51.56 416.62,51.87 416.68,52.18 416.73,52.48 416.78,52.78 416.84,53.06 416.89,53.35 416.94,53.62 416.99,53.89 417.05,54.15 417.10,54.40 417.15,54.64 417.21,54.88 417.26,55.11 417.31,55.33 417.36,55.54 417.42,55.75 417.47,55.95 417.52,56.13 417.58,56.31 417.63,56.48 417.68,56.65 417.73,56.80 417.79,56.94 417.84,57.08 417.89,57.20 417.95,57.32 418.00,57.43 418.05,57.53 418.11,57.62 418.16,57.70 418.21,57.77 418.26,57.83 418.32,57.88 418.37,57.92 418.42,57.95 418.48,57.98 418.53,57.99 418.58,57.99 418.63,57.99 418.69,57.97 418.74,57.95 418.79,57.91 418.85,57.87 418.90,57.82 418.95,57.75 419.00,57.68 419.06,57.60 419.11,57.51 419.16,57.41 419.22,57.30 419.27,57.18 419.32,57.05 419.37,56.91 419.43,56.77 419.48,56.61 419.53,56.45 419.59,56.27 419.64,56.09 419.69,55.90 419.74,55.70 419.80,55.50 419.85,55.28 419.90,55.06 419.96,54.83 420.01,54.59 420.06,54.34 420.11,54.09 420.17,53.83 420.22,53.56 420.27,53.28 420.33,53.00 420.38,52.71 420.43,52.41 420.48,52.11 420.54,51.80 420.59,51.48 420.64,51.16 420.70,50.83 420.75,50.50 420.80,50.16 420.85,49.82 420.91,49.47 420.96,49.11 421.01,48.75 421.07,48.39 421.12,48.02 421.17,47.65 421.22,47.28 421.28,46.90 421.33,46.51 421.38,46.13 421.44,45.74 421.49,45.34 421.54,44.95 421.59,44.55 421.65,44.15 421.70,43.75 421.75,43.34 421.81,42.94 421.86,42.53 421.91,42.12 421.97,41.71 422.02,41.30 422.07,40.89 422.12,40.48 422.18,40.07 422.23,39.66 422.28,39.25 422.34,38.84 422.39,38.43 422.44,38.02 422.49,37.62 422.55,37.21 422.60,36.81 422.65,36.41 422.71,36.01 422.76,35.61 422.81,35.22 422.86,34.83 422.92,34.44 422.97,34.05 423.02,33.67 423.08,33.29 423.13,32.92 423.18,32.55" fill="none" stroke="#8a1a24" stroke-width="0.7" stroke-linejoin="round"/>
<polyline points="367.82,126.32 367.87,126.27 367.92,126.21 367.98,126.14 368.03,126.06 368.08,125.98 368.14,125.89 368.19,125.79 368.24,125.68 368.29,125.56 368.35,125.44 368.40,125.30 368.45,125.16 368.51,125.01 368.56,124.85 368.61,124.69 368.66,124.51 368.72,124.33 368.77,124.14 368.82,123.94 368.88,123.73 368.93,123.52 368.98,123.29 369.03,123.06 369.09,122.82 369.14,122.58 369.19,122.32 369.25,122.06 369.30,121.79 369.35,121.52 369.41,121.23 369.46,120.94 369.51,120.65 369.56,120.35 369.62,120.04 369.67,119.72 369.72,119.40 369.78,119.07 369.83,118.74 369.88,118.40 369.93,118.05 369.99,117.70 370.04,117.35 370.09,116.99 370.15,116.63 370.20,116.26 370.25,115.88 370.30,115.51 370.36,115.13 370.41,114.74 370.46,114.36 370.52,113.97 370.57,113.58 370.62,113.18 370.67,112.78 370.73,112.38 370.78,111.98 370.83,111.58 370.89,111.17 370.94,110.77 370.99,110.36 371.04,109.96 371.10,109.55 371.15,109.14 371.20,108.73 371.26,108.33 371.31,107.92 371.36,107.52 371.41,107.11 371.47,106.71 371.52,106.31 371.57,105.91 371.63,105.51 371.68,105.12 371.73,104.73 371.78,104.34 371.84,103.95 371.89,103.57 371.94,103.19 372.00,102.82 372.05,102.45 372.10,102.08 372.15,101.72 372.21,101.37 372.26,101.02 372.31,100.67 372.37,100.33 372.42,100.00 372.47,99.67 372.52,99.35 372.58,99.03 372.63,98.72 372.68,98.42 372.74,98.12 372.79,97.84 372.84,97.56 372.89,97.28 372.95,97.02 373.00,96.76 373.05,96.51 373.11,96.27 373.16,96.04 373.21,95.81 373.27,95.60 373.32,95.39 373.37,95.19 373.42,95.00 373.48,94.82 373.53,94.65 373.58,94.49 373.64,94.34 373.69,94.20 373.74,94.07 373.79,93.95 373.85,93.84 373.90,93.73 373.95,93.64 374.01,93.56 374.06,93.49 374.11,93.43 374.16,93.38 374.22,93.33 374.27,93.30 374.32,93.28 374.38,93.27 374.43,93.27 374.48,93.28 374.53,93.31 374.59,93.34 374.64,93.38 374.69,93.43 374.75,93.49 374.80,93.57 374.85,93.65 374.90,93.74 374.96,93.84 375.01,93.96 375.06,94.08 375.12,94.21 375.17,94.35 375.22,94.50 375.27,94.67 375.33,94.84 375.38,95.02 375.43,95.21 375.49,95.40 375.54,95.61 375.59,95.83 375.64,96.05 375.70,96.29 375.75,96.53 375.80,96.78 375.86,97.04 375.91,97.30 375.96,97.58 376.01,97.86 376.07,98.15 376.12,98.44 376.17,98.74 376.23,99.05 376.28,99.37 376.33,99.69 376.38,100.02 376.44,100.36 376.49,100.70 376.54,101.04 376.60,101.39 376.65,101.75 376.70,102.11 376.75,102.48 376.81,102.85 376.86,103.22 376.91,103.60 376.97,103.98 377.02,104.37 377.07,104.76 377.13,105.15 377.18,105.54 377.23,105.94 377.28,106.34 377.34,106.74 377.39,107.14 377.44,107.55 377.50,107.95 377.55,108.36 377.60,108.76 377.65,109.17 377.71,109.58 377.76,109.98 377.81,110.39 377.87,110.80 377.92,111.20 377.97,111.61 378.02,112.01 378.08,112.41 378.13,112.81 378.18,113.21 378.24,113.60 378.29,114.00 378.34,114.39 378.39,114.77 378.45,115.16 378.50,115.54 378.55,115.91 378.61,116.28 378.66,116.65 378.71,117.02 378.76,117.38 378.82,117.73 378.87,118.08 378.92,118.42 378.98,118.76 379.03,119.09 379.08,119.42 379.13,119.74 379.19,120.06 379.24,120.37 379.29,120.67 379.35,120.97 379.40,121.26 379.45,121.54 379.50,121.81 379.56,122.08 379.61,122.34 379.66,122.60 379.72,122.84 379.77,123.08 379.82,123.31 379.87,123.53 379.93,123.75 379.98,123.95 380.03,124.15 380.09,124.34 380.14,124.52 380.19,124.70 380.24,124.86 380.30,125.02 380.35,125.17 380.40,125.31 380.46,125.45 380.51,125.57 380.56,125.69 380.62,125.79 380.67,125.89 380.72,125.99 380.77,126.07 380.83,126.15 380.88,126.21 380.93,126.27 380.99,126.33 381.04,126.37 381.09,126.41 381.14,126.44 381.20,126.47 381.25,126.49 381.30,126.50 381.36,126.51 381.41,126.50 381.46,126.50 381.51,126.48 381.57,126.46 381.62,126.44 381.67,126.40 381.73,126.36 381.78,126.31 381.83,126.26 381.88,126.20 381.94,126.13 381.99,126.05 382.04,125.96 382.10,125.87 382.15,125.77 382.20,125.66 382.25,125.54 382.31,125.41 382.36,125.28 382.41,125.13 382.47,124.98 382.52,124.82 382.57,124.66 382.62,124.48 382.68,124.29 382.73,124.10 382.78,123.90 382.84,123.69 382.89,123.48 382.94,123.25 382.99,123.02 383.05,122.78 383.10,122.53 383.15,122.28 383.21,122.01 383.26,121.74 383.31,121.47 383.36,121.18 383.42,120.89 383.47,120.59 383.52,120.29 383.58,119.98 383.63,119.66 383.68,119.34 383.73,119.01 383.79,118.68 383.84,118.34 383.89,117.99 383.95,117.64 384.00,117.28 384.05,116.92 384.10,116.56 384.16,116.19 384.21,115.82 384.26,115.44 384.32,115.06 384.37,114.67 384.42,114.29 384.48,113.90 384.53,113.50 384.58,113.11 384.63,112.71 384.69,112.31 384.74,111.91 384.79,111.50 384.85,111.10 384.90,110.69 384.95,110.29 385.00,109.88 385.06,109.47 385.11,109.07 385.16,108.66 385.22,108.25 385.27,107.85 385.32,107.44 385.37,107.04 385.43,106.64 385.48,106.24 385.53,105.84 385.59,105.44 385.64,105.05 385.69,104.66 385.74,104.27 385.80,103.88 385.85,103.50 385.90,103.13 385.96,102.75 386.01,102.38 386.06,102.02 386.11,101.66 386.17,101.30 386.22,100.95 386.27,100.61 386.33,100.27 386.38,99.94 386.43,99.61 386.48,99.29 386.54,98.97 386.59,98.67 386.64,98.37 386.70,98.07 386.75,97.78 386.80,97.51 386.85,97.23 386.91,96.97 386.96,96.71 387.01,96.47 387.07,96.23 387.12,96.00 387.17,95.77 387.22,95.56 387.28,95.35 387.33,95.16 387.38,94.97 387.44,94.79 387.49,94.62 387.54,94.47 387.59,94.32 387.65,94.18 387.70,94.05 387.75,93.93 387.81,93.82 387.86,93.72 387.91,93.63 387.96,93.55 388.02,93.48 388.07,93.42 388.12,93.37 388.18,93.33 388.23,93.30 388.28,93.28 388.34,93.27 388.39,93.28 388.44,93.29 388.49,93.31 388.55,93.34 388.60,93.39 388.65,93.44 388.71,93.51 388.76,93.58 388.81,93.66 388.86,93.76 388.92,93.86 388.97,93.98 389.02,94.10 389.08,94.24 389.13,94.38 389.18,94.53 389.23,94.70 389.29,94.87 389.34,95.05 389.39,95.24 389.45,95.44 389.50,95.65 389.55,95.87 389.60,96.10 389.66,96.33 389.71,96.57 389.76,96.82 389.82,97.08 389.87,97.35 389.92,97.63 389.97,97.91 390.03,98.20 390.08,98.50 390.13,98.80 390.19,99.11 390.24,99.43 390.29,99.75 390.34,100.08 390.40,100.42 390.45,100.76 390.50,101.11 390.56,101.46 390.61,101.82 390.66,102.18 390.71,102.54 390.77,102.92 390.82,103.29 390.87,103.67 390.93,104.05 390.98,104.44 391.03,104.83 391.08,105.22 391.14,105.61 391.19,106.01 391.24,106.41 391.30,106.81 391.35,107.21 391.40,107.62 391.45,108.02 391.51,108.43 391.56,108.84 391.61,109.24 391.67,109.65 391.72,110.06 391.77,110.47 391.83,110.87 391.88,111.28 391.93,111.68 391.98,112.08 392.04,112.48 392.09,112.88 392.14,113.28 392.20,113.68 392.25,114.07 392.30,114.46 392.35,114.84 392.41,115.23 392.46,115.60 392.51,115.98 392.57,116.35 392.62,116.72 392.67,117.08 392.72,117.44 392.78,117.79 392.83,118.14 392.88,118.48 392.94,118.82 392.99,119.15 393.04,119.48 393.09,119.80 393.15,120.12 393.20,120.42 393.25,120.72 393.31,121.02 393.36,121.31 393.41,121.59 393.46,121.86 393.52,122.13 393.57,122.39 393.62,122.64 393.68,122.88 393.73,123.12 393.78,123.35 393.83,123.57 393.89,123.78 393.94,123.99 393.99,124.19 394.05,124.38 394.10,124.56 394.15,124.73 394.20,124.89 394.26,125.05 394.31,125.20 394.36,125.34 394.42,125.47 394.47,125.59 394.52,125.71 394.57,125.81 394.63,125.91 394.68,126.00 394.73,126.08 394.79,126.16 394.84,126.23 394.89,126.28 394.94,126.34 395.00,126.38 395.05,126.42 395.10,126.45 395.16,126.47 395.21,126.49 395.26,126.50 395.31,126.51 395.37,126.50 395.42,126.50 395.47,126.48 395.53,126.46 395.58,126.43 395.63,126.40 395.69,126.35 395.74,126.31 395.79,126.25 395.84,126.18 395.90,126.11 395.95,126.03 396.00,125.95 396.06,125.85 396.11,125.75 396.16,125.64 396.21,125.52 396.27,125.39 396.32,125.25 396.37,125.11 396.43,124.95 396.48,124.79 396.53,124.62 396.58,124.45 396.64,124.26 396.69,124.07 396.74,123.86 396.80,123.65 396.85,123.44 396.90,123.21 396.95,122.98 397.01,122.73 397.06,122.49 397.11,122.23 397.17,121.96 397.22,121.69 397.27,121.42 397.32,121.13 397.38,120.84 397.43,120.54 397.48,120.23 397.54,119.92 397.59,119.60 397.64,119.28 397.69,118.95 397.75,118.61 397.80,118.27 397.85,117.93 397.91,117.58 397.96,117.22 398.01,116.86 398.06,116.49 398.12,116.12 398.17,115.75 398.22,115.37 398.28,114.99 398.33,114.60 398.38,114.22 398.43,113.83 398.49,113.43 398.54,113.04 398.59,112.64 398.65,112.24 398.70,111.83 398.75,111.43 398.80,111.03 398.86,110.62 398.91,110.21 398.96,109.81 399.02,109.40 399.07,108.99 399.12,108.59 399.17,108.18 399.23,107.77 399.28,107.37 399.33,106.97 399.39,106.56 399.44,106.16 399.49,105.77 399.55,105.37 399.60,104.98 399.65,104.59 399.70,104.20 399.76,103.81 399.81,103.43 399.86,103.06 399.92,102.69 399.97,102.32 400.02,101.95 400.07,101.59 400.13,101.24 400.18,100.89 400.23,100.55 400.29,100.21 400.34,99.88 400.39,99.55 400.44,99.23 400.50,98.92 400.55,98.61 400.60,98.31 400.66,98.02 400.71,97.73 400.76,97.46 400.81,97.19 400.87,96.92 400.92,96.67 400.97,96.42 401.03,96.18 401.08,95.95 401.13,95.73 401.18,95.52 401.24,95.32 401.29,95.12 401.34,94.94 401.40,94.76 401.45,94.59 401.50,94.44 401.55,94.29 401.61,94.15 401.66,94.02 401.71,93.91 401.77,93.80 401.82,93.70 401.87,93.61 401.92,93.53 401.98,93.46 402.03,93.41 402.08,93.36 402.14,93.32 402.19,93.30 402.24,93.28 402.29,93.27 402.35,93.28 402.40,93.29 402.45,93.32 402.51,93.35 402.56,93.40 402.61,93.45 402.66,93.52 402.72,93.59 402.77,93.68 402.82,93.78 402.88,93.88 402.93,94.00 402.98,94.13 403.04,94.26 403.09,94.41 403.14,94.56 403.19,94.73 403.25,94.90 403.30,95.09 403.35,95.28 403.41,95.48 403.46,95.69 403.51,95.91 403.56,96.14 403.62,96.37 403.67,96.62 403.72,96.87 403.78,97.13 403.83,97.40 403.88,97.68 403.93,97.96 403.99,98.25 404.04,98.55 404.09,98.86 404.15,99.17 404.20,99.49 404.25,99.81 404.30,100.14 404.36,100.48 404.41,100.82 404.46,101.17 404.52,101.52 404.57,101.88 404.62,102.24 404.67,102.61 404.73,102.98 404.78,103.36 404.83,103.74 404.89,104.12 404.94,104.51 404.99,104.90 405.04,105.29 405.10,105.69 405.15,106.08 405.20,106.48 405.26,106.89 405.31,107.29 405.36,107.69 405.41,108.10 405.47,108.50 405.52,108.91 405.57,109.32 405.63,109.73 405.68,110.13 405.73,110.54 405.78,110.95 405.84,111.35 405.89,111.75 405.94,112.16 406.00,112.56 406.05,112.96 406.10,113.35 406.15,113.75 406.21,114.14 406.26,114.53 406.31,114.91 406.37,115.29 406.42,115.67 406.47,116.05 406.52,116.42 406.58,116.79 406.63,117.15 406.68,117.50 406.74,117.86 406.79,118.20 406.84,118.55 406.90,118.88 406.95,119.21 407.00,119.54 407.05,119.86 407.11,120.17 407.16,120.48 407.21,120.78 407.27,121.07 407.32,121.36 407.37,121.64 407.42,121.91 407.48,122.18 407.53,122.43 407.58,122.69 407.64,122.93 407.69,123.16 407.74,123.39 407.79,123.61 407.85,123.82 407.90,124.03 407.95,124.22 408.01,124.41 408.06,124.59 408.11,124.76 408.16,124.92 408.22,125.08 408.27,125.22 408.32,125.36 408.38,125.49 408.43,125.61 408.48,125.73 408.53,125.83 408.59,125.93 408.64,126.02 408.69,126.10 408.75,126.17 408.80,126.24 408.85,126.29 408.90,126.34 408.96,126.39 409.01,126.42 409.06,126.45 409.12,126.48 409.17,126.49 409.22,126.50 409.27,126.51 409.33,126.50 409.38,126.49 409.43,126.48 409.49,126.45 409.54,126.43 409.59,126.39 409.64,126.35 409.70,126.30 409.75,126.24 409.80,126.17 409.86,126.10 409.91,126.02 409.96,125.93 410.01,125.83 410.07,125.73 410.12,125.62 410.17,125.49 410.23,125.36 410.28,125.23 410.33,125.08 410.38,124.93 410.44,124.76 410.49,124.59 410.54,124.41 410.60,124.23 410.65,124.03 410.70,123.83 410.76,123.61 410.81,123.40 410.86,123.17 410.91,122.93 410.97,122.69 411.02,122.44 411.07,122.18 411.13,121.92 411.18,121.64 411.23,121.36 411.28,121.08 411.34,120.78 411.39,120.48 411.44,120.18 411.50,119.86 411.55,119.55 411.60,119.22 411.65,118.89 411.71,118.55 411.76,118.21 411.81,117.86 411.87,117.51 411.92,117.15 411.97,116.79 412.02,116.42 412.08,116.05 412.13,115.68 412.18,115.30 412.24,114.92 412.29,114.53 412.34,114.14 412.39,113.75 412.45,113.36 412.50,112.96 412.55,112.56 412.61,112.16 412.66,111.76 412.71,111.36 412.76,110.95 412.82,110.55 412.87,110.14 412.92,109.73 412.98,109.33 413.03,108.92 413.08,108.51 413.13,108.10 413.19,107.70 413.24,107.29 413.29,106.89 413.35,106.49 413.40,106.09 413.45,105.69 413.50,105.30 413.56,104.91 413.61,104.52 413.66,104.13 413.72,103.75 413.77,103.37 413.82,102.99 413.87,102.62 413.93,102.25 413.98,101.89 414.03,101.53 414.09,101.18 414.14,100.83 414.19,100.48 414.25,100.15 414.30,99.82 414.35,99.49 414.40,99.17 414.46,98.86 414.51,98.56 414.56,98.26 414.62,97.97 414.67,97.68 414.72,97.41 414.77,97.14 414.83,96.88 414.88,96.62 414.93,96.38 414.99,96.14 415.04,95.91 415.09,95.69 415.14,95.48 415.20,95.28 415.25,95.09 415.30,94.90 415.36,94.73 415.41,94.57 415.46,94.41 415.51,94.26 415.57,94.13 415.62,94.00 415.67,93.89 415.73,93.78 415.78,93.68 415.83,93.60 415.88,93.52 415.94,93.45 415.99,93.40 416.04,93.35 416.10,93.32 416.15,93.29 416.20,93.28 416.25,93.27 416.31,93.28 416.36,93.30 416.41,93.32 416.47,93.36 416.52,93.41 416.57,93.46 416.62,93.53 416.68,93.61 416.73,93.70 416.78,93.80 416.84,93.90 416.89,94.02 416.94,94.15 416.99,94.29 417.05,94.44 417.10,94.59 417.15,94.76 417.21,94.93 417.26,95.12 417.31,95.31 417.36,95.52 417.42,95.73 417.47,95.95 417.52,96.18 417.58,96.42 417.63,96.66 417.68,96.92 417.73,97.18 417.79,97.45 417.84,97.73 417.89,98.01 417.95,98.31 418.00,98.61 418.05,98.91 418.11,99.23 418.16,99.55 418.21,99.87 418.26,100.20 418.32,100.54 418.37,100.88 418.42,101.23 418.48,101.59 418.53,101.95 418.58,102.31 418.63,102.68 418.69,103.05 418.74,103.43 418.79,103.81 418.85,104.19 418.90,104.58 418.95,104.97 419.00,105.36 419.06,105.76 419.11,106.16 419.16,106.56 419.22,106.96 419.27,107.36 419.32,107.77 419.37,108.17 419.43,108.58 419.48,108.99 419.53,109.39 419.59,109.80 419.64,110.21 419.69,110.61 419.74,111.02 419.80,111.42 419.85,111.83 419.90,112.23 419.96,112.63 420.01,113.03 420.06,113.42 420.11,113.82 420.17,114.21 420.22,114.60 420.27,114.98 420.33,115.36 420.38,115.74 420.43,116.12 420.48,116.49 420.54,116.85 420.59,117.21 420.64,117.57 420.70,117.92 420.75,118.27 420.80,118.61 420.85,118.94 420.91,119.27 420.96,119.60 421.01,119.92 421.07,120.23 421.12,120.53 421.17,120.83 421.22,121.13 421.28,121.41 421.33,121.69 421.38,121.96 421.44,122.22 421.49,122.48 421.54,122.73 421.59,122.97 421.65,123.21 421.70,123.43 421.75,123.65 421.81,123.86 421.86,124.06 421.91,124.26 421.97,124.44 422.02,124.62 422.07,124.79 422.12,124.95 422.18,125.10 422.23,125.25 422.28,125.39 422.34,125.51 422.39,125.63 422.44,125.75 422.49,125.85 422.55,125.95 422.60,126.03 422.65,126.11 422.71,126.18 422.76,126.25 422.81,126.30 422.86,126.35 422.92,126.40 422.97,126.43 423.02,126.46 423.08,126.48 423.13,126.49 423.18,126.50" fill="none" stroke="#e8242e" stroke-width="0.7" stroke-linejoin="round"/>
<polyline points="430.43,29.43 430.48,29.02 430.54,28.63 430.59,28.26 430.64,27.92 430.70,27.59 430.75,27.28 430.80,26.99 430.86,26.72 430.91,26.46 430.96,26.21 431.01,25.98 431.07,25.75 431.12,25.53 431.17,25.32 431.23,25.11 431.28,24.91 431.33,24.72 431.39,24.54 431.44,24.38 431.49,24.23 431.55,24.10 431.60,24.00 431.65,23.92 431.70,23.88 431.76,23.88 431.81,23.91 431.86,23.99 431.92,24.11 431.97,24.27 432.02,24.46 432.08,24.70 432.13,24.96 432.18,25.25 432.23,25.57 432.29,25.90 432.34,26.25 432.39,26.61 432.45,26.98 432.50,27.35 432.55,27.74 432.61,28.13 432.66,28.53 432.71,28.93 432.77,29.34 432.82,29.76 432.87,30.18 432.92,30.62 432.98,31.06 433.03,31.51 433.08,31.96 433.14,32.43 433.19,32.90 433.24,33.38 433.30,33.86 433.35,34.35 433.40,34.84 433.45,35.34 433.51,35.83 433.56,36.33 433.61,36.83 433.67,37.33 433.72,37.83 433.77,38.33 433.83,38.83 433.88,39.33 433.93,39.83 433.99,40.33 434.04,40.83 434.09,41.34 434.14,41.84 434.20,42.34 434.25,42.84 434.30,43.35 434.36,43.85 434.41,44.36 434.46,44.87 434.52,45.38 434.57,45.89 434.62,46.40 434.67,46.91 434.73,47.42 434.78,47.94 434.83,48.45 434.89,48.97 434.94,49.48 434.99,49.99 435.05,50.50 435.10,51.00 435.15,51.50 435.21,51.99 435.26,52.47 435.31,52.93 435.36,53.39 435.42,53.82 435.47,54.24 435.52,54.63 435.58,55.01 435.63,55.36 435.68,55.70 435.74,56.02 435.79,56.32 435.84,56.60 435.89,56.88 435.95,57.14 436.00,57.39 436.05,57.64 436.11,57.88 436.16,58.12 436.21,58.35 436.27,58.58 436.32,58.81 436.37,59.04 436.43,59.26 436.48,59.48 436.53,59.70 436.58,59.91 436.64,60.11 436.69,60.31 436.74,60.50 436.80,60.68 436.85,60.86 436.90,61.02 436.96,61.18 437.01,61.33 437.06,61.47 437.11,61.60 437.17,61.73 437.22,61.85 437.27,61.97 437.33,62.08 437.38,62.19 437.43,62.30 437.49,62.41 437.54,62.52 437.59,62.63 437.65,62.74 437.70,62.84 437.75,62.95 437.80,63.05 437.86,63.16 437.91,63.26 437.96,63.36 438.02,63.46 438.07,63.56 438.12,63.65 438.18,63.74 438.23,63.83 438.28,63.91 438.33,63.99 438.39,64.06 438.44,64.13 438.49,64.19 438.55,64.25 438.60,64.30 438.65,64.36 438.71,64.40 438.76,64.45 438.81,64.50 438.87,64.54 438.92,64.58 438.97,64.62 439.02,64.66 439.08,64.70 439.13,64.74 439.18,64.78 439.24,64.82 439.29,64.85 439.34,64.88 439.40,64.91 439.45,64.93 439.50,64.95 439.55,64.96 439.61,64.95 439.66,64.94 439.71,64.91 439.77,64.87 439.82,64.81 439.87,64.74 439.93,64.65 439.98,64.55 440.03,64.43 440.09,64.30 440.14,64.15 440.19,64.00 440.24,63.84 440.30,63.67 440.35,63.49 440.40,63.31 440.46,63.13 440.51,62.95 440.56,62.76 440.62,62.58 440.67,62.39 440.72,62.20 440.77,62.01 440.83,61.81 440.88,61.61 440.93,61.41 440.99,61.20 441.04,60.99 441.09,60.76 441.15,60.51 441.20,60.25 441.25,59.97 441.31,59.66 441.36,59.33 441.41,58.97 441.46,58.59 441.52,58.17 441.57,57.72 441.62,57.25 441.68,56.76 441.73,56.24 441.78,55.70 441.84,55.15 441.89,54.58 441.94,54.01 441.99,53.42 442.05,52.83 442.10,52.24 442.15,51.65 442.21,51.05 442.26,50.45 442.31,49.85 442.37,49.26 442.42,48.66 442.47,48.06 442.53,47.47 442.58,46.88 442.63,46.29 442.68,45.70 442.74,45.12 442.79,44.55 442.84,43.98 442.90,43.42 442.95,42.87 443.00,42.32 443.06,41.78 443.11,41.25 443.16,40.72 443.22,40.20 443.27,39.68 443.32,39.17 443.37,38.66 443.43,38.15 443.48,37.64 443.53,37.14 443.59,36.64 443.64,36.14 443.69,35.64 443.75,35.14 443.80,34.64 443.85,34.14 443.90,33.64 443.96,33.15 444.01,32.65 444.06,32.17 444.12,31.68 444.17,31.21 444.22,30.74 444.28,30.29 444.33,29.85 444.38,29.42 444.44,29.02 444.49,28.63 444.54,28.26 444.59,27.91 444.65,27.58 444.70,27.28 444.75,26.99 444.81,26.71 444.86,26.46 444.91,26.21 444.97,25.97 445.02,25.75 445.07,25.53 445.12,25.32 445.18,25.11 445.23,24.91 445.28,24.72 445.34,24.54 445.39,24.38 445.44,24.23 445.50,24.10 445.55,23.99 445.60,23.92 445.66,23.88 445.71,23.88 445.76,23.91 445.81,23.99 445.87,24.11 445.92,24.27 445.97,24.47 446.03,24.70 446.08,24.96 446.13,25.25 446.19,25.57 446.24,25.90 446.29,26.25 446.34,26.61 446.40,26.98 446.45,27.36 446.50,27.74 446.56,28.13 446.61,28.53 446.66,28.93 446.72,29.34 446.77,29.76 446.82,30.19 446.88,30.62 446.93,31.06 446.98,31.51 447.03,31.97 447.09,32.44 447.14,32.91 447.19,33.39 447.25,33.87 447.30,34.36 447.35,34.85 447.41,35.34 447.46,35.84 447.51,36.34 447.56,36.84 447.62,37.34 447.67,37.83 447.72,38.34 447.78,38.84 447.83,39.34 447.88,39.84 447.94,40.34 447.99,40.84 448.04,41.34 448.10,41.84 448.15,42.35 448.20,42.85 448.25,43.35 448.31,43.86 448.36,44.37 448.41,44.87 448.47,45.38 448.52,45.89 448.57,46.40 448.63,46.92 448.68,47.43 448.73,47.94 448.78,48.46 448.84,48.97 448.89,49.49 448.94,50.00 449.00,50.51 449.05,51.01 449.10,51.51 449.16,52.00 449.21,52.47 449.26,52.94 449.32,53.39 449.37,53.82 449.42,54.24 449.47,54.64 449.53,55.01 449.58,55.37 449.63,55.70 449.69,56.02 449.74,56.32 449.79,56.61 449.85,56.88 449.90,57.14 449.95,57.39 450.00,57.64 450.06,57.88 450.11,58.12 450.16,58.35 450.22,58.59 450.27,58.82 450.32,59.04 450.38,59.27 450.43,59.49 450.48,59.70 450.54,59.91 450.59,60.12 450.64,60.31 450.69,60.50 450.75,60.69 450.80,60.86 450.85,61.02 450.91,61.18 450.96,61.33 451.01,61.47 451.07,61.60 451.12,61.73 451.17,61.85 451.22,61.97 451.28,62.08 451.33,62.20 451.38,62.31 451.44,62.42 451.49,62.52 451.54,62.63 451.60,62.74 451.65,62.84 451.70,62.95 451.76,63.06 451.81,63.16 451.86,63.26 451.91,63.36 451.97,63.46 452.02,63.56 452.07,63.65 452.13,63.74 452.18,63.83 452.23,63.91 452.29,63.99 452.34,64.06 452.39,64.13 452.44,64.19 452.50,64.25 452.55,64.30 452.60,64.36 452.66,64.41 452.71,64.45 452.76,64.50 452.82,64.54 452.87,64.58 452.92,64.62 452.98,64.66 453.03,64.70 453.08,64.74 453.13,64.78 453.19,64.82 453.24,64.85 453.29,64.88 453.35,64.91 453.40,64.93 453.45,64.95 453.51,64.96 453.56,64.95 453.61,64.94 453.66,64.91 453.72,64.87 453.77,64.81 453.82,64.74 453.88,64.65 453.93,64.55 453.98,64.43 454.04,64.30 454.09,64.15 454.14,64.00 454.20,63.83 454.25,63.67 454.30,63.49 454.35,63.31 454.41,63.13 454.46,62.95 454.51,62.76 454.57,62.57 454.62,62.39 454.67,62.20 454.73,62.00 454.78,61.81 454.83,61.61 454.88,61.41 454.94,61.20 454.99,60.98 455.04,60.75 455.10,60.51 455.15,60.25 455.20,59.97 455.26,59.66 455.31,59.33 455.36,58.97 455.42,58.58 455.47,58.16 455.52,57.72 455.57,57.25 455.63,56.75 455.68,56.23 455.73,55.69 455.79,55.14 455.84,54.58 455.89,54.00 455.95,53.42 456.00,52.83 456.05,52.24 456.10,51.64 456.16,51.04 456.21,50.44 456.26,49.85 456.32,49.25 456.37,48.65 456.42,48.05 456.48,47.46 456.53,46.87 456.58,46.28 456.64,45.70 456.69,45.12 456.74,44.54 456.79,43.98 456.85,43.42 456.90,42.86 456.95,42.31 457.01,41.77 457.06,41.24 457.11,40.71 457.17,40.19 457.22,39.67 457.27,39.16 457.32,38.65 457.38,38.14 457.43,37.64 457.48,37.13 457.54,36.63 457.59,36.13 457.64,35.63 457.70,35.13 457.75,34.63 457.80,34.13 457.86,33.63 457.91,33.14 457.96,32.65 458.01,32.16 458.07,31.68 458.12,31.20 458.17,30.74 458.23,30.28 458.28,29.84 458.33,29.42 458.39,29.01 458.44,28.62 458.49,28.25 458.54,27.91 458.60,27.58 458.65,27.27 458.70,26.98 458.76,26.71 458.81,26.45 458.86,26.21 458.92,25.97 458.97,25.74 459.02,25.53 459.08,25.31 459.13,25.11 459.18,24.91 459.23,24.72 459.29,24.54 459.34,24.37 459.39,24.22 459.45,24.10 459.50,23.99 459.55,23.92 459.61,23.88 459.66,23.88 459.71,23.91 459.76,23.99 459.82,24.11 459.87,24.27 459.92,24.47 459.98,24.70 460.03,24.97 460.08,25.26 460.14,25.57 460.19,25.91 460.24,26.26 460.30,26.62 460.35,26.99 460.40,27.36 460.45,27.75 460.51,28.14 460.56,28.54 460.61,28.94 460.67,29.35 460.72,29.77 460.77,30.19 460.83,30.63 460.88,31.07 460.93,31.52 460.98,31.98 461.04,32.44 461.09,32.91 461.14,33.39 461.20,33.88 461.25,34.36 461.30,34.86 461.36,35.35 461.41,35.85 461.46,36.34 461.52,36.84 461.57,37.34 461.62,37.84 461.67,38.34 461.73,38.84 461.78,39.34 461.83,39.84 461.89,40.34 461.94,40.85 461.99,41.35 462.05,41.85 462.10,42.35 462.15,42.86 462.20,43.36 462.26,43.86 462.31,44.37 462.36,44.88 462.42,45.39 462.47,45.90 462.52,46.41 462.58,46.92 462.63,47.44 462.68,47.95 462.74,48.47 462.79,48.98 462.84,49.49 462.89,50.00 462.95,50.51 463.00,51.02 463.05,51.51 463.11,52.00 463.16,52.48 463.21,52.95 463.27,53.40 463.32,53.83 463.37,54.24 463.42,54.64 463.48,55.02 463.53,55.37 463.58,55.71 463.64,56.02 463.69,56.32 463.74,56.61 463.80,56.88 463.85,57.14 463.90,57.40 463.96,57.64 464.01,57.89 464.06,58.12 464.11,58.36 464.17,58.59 464.22,58.82 464.27,59.04 464.33,59.27 464.38,59.49 464.43,59.70 464.49,59.91 464.54,60.12 464.59,60.32 464.64,60.51 464.70,60.69 464.75,60.86 464.80,61.03 464.86,61.18 464.91,61.33 464.96,61.47 465.02,61.60 465.07,61.73 465.12,61.85 465.18,61.97 465.23,62.08 465.28,62.20 465.33,62.31 465.39,62.42 465.44,62.52 465.49,62.63 465.55,62.74 465.60,62.85 465.65,62.95 465.71,63.06 465.76,63.16 465.81,63.26 465.86,63.36 465.92,63.46 465.97,63.56 466.02,63.65 466.08,63.74 466.13,63.83 466.18,63.91 466.24,63.99 466.29,64.06 466.34,64.13 466.40,64.19 466.45,64.25 466.50,64.30 466.55,64.36 466.61,64.41 466.66,64.45 466.71,64.50 466.77,64.54 466.82,64.58 466.87,64.62 466.93,64.67 466.98,64.70 467.03,64.74 467.08,64.78 467.14,64.82 467.19,64.85 467.24,64.88 467.30,64.91 467.35,64.93 467.40,64.95 467.46,64.96 467.51,64.95 467.56,64.94 467.62,64.91 467.67,64.87 467.72,64.81 467.77,64.74 467.83,64.65 467.88,64.55 467.93,64.43 467.99,64.29 468.04,64.15 468.09,64.00 468.15,63.83 468.20,63.66 468.25,63.49 468.30,63.31 468.36,63.13 468.41,62.94 468.46,62.76 468.52,62.57 468.57,62.38 468.62,62.19 468.68,62.00 468.73,61.81 468.78,61.61 468.84,61.41 468.89,61.20 468.94,60.98 468.99,60.75 469.05,60.51 469.10,60.24 469.15,59.96 469.21,59.66 469.26,59.32 469.31,58.96 469.37,58.58 469.42,58.16 469.47,57.71 469.52,57.24 469.58,56.74 469.63,56.23 469.68,55.69 469.74,55.13 469.79,54.57 469.84,53.99 469.90,53.41 469.95,52.82 470.00,52.23 470.06,51.63 470.11,51.04 470.16,50.44 470.21,49.84 470.27,49.24 470.32,48.64 470.37,48.05 470.43,47.45 470.48,46.86 470.53,46.27 470.59,45.69 470.64,45.11 470.69,44.54 470.74,43.97 470.80,43.41 470.85,42.85 470.90,42.31 470.96,41.77 471.01,41.23 471.06,40.71 471.12,40.18 471.17,39.67 471.22,39.15 471.28,38.65 471.33,38.14 471.38,37.63 471.43,37.13 471.49,36.63 471.54,36.12 471.59,35.62 471.65,35.12 471.70,34.62 471.75,34.13 471.81,33.63 471.86,33.13 471.91,32.64 471.96,32.15 472.02,31.67 472.07,31.20 472.12,30.73 472.18,30.28 472.23,29.84 472.28,29.41 472.34,29.01 472.39,28.62 472.44,28.25 472.50,27.90 472.55,27.58 472.60,27.27 472.65,26.98 472.71,26.71 472.76,26.45 472.81,26.20 472.87,25.97 472.92,25.74 472.97,25.52 473.03,25.31 473.08,25.10 473.13,24.91 473.18,24.72 473.24,24.54 473.29,24.37 473.34,24.22 473.40,24.10 473.45,23.99 473.50,23.92 473.56,23.88 473.61,23.88 473.66,23.91 473.72,23.99 473.77,24.11 473.82,24.27 473.87,24.47 473.93,24.70 473.98,24.97 474.03,25.26 474.09,25.58 474.14,25.91 474.19,26.26 474.25,26.62 474.30,26.99 474.35,27.37 474.41,27.75 474.46,28.14 474.51,28.54 474.56,28.94 474.62,29.35 474.67,29.77 474.72,30.20 474.78,30.63 474.83,31.07 474.88,31.52 474.94,31.98 474.99,32.45 475.04,32.92 475.09,33.40 475.15,33.88 475.20,34.37 475.25,34.86 475.31,35.36 475.36,35.85 475.41,36.35 475.47,36.85 475.52,37.35 475.57,37.85 475.63,38.35 475.68,38.85 475.73,39.35 475.78,39.85 475.84,40.35 475.89,40.85 475.94,41.35 476.00,41.86 476.05,42.36 476.10,42.86 476.16,43.37 476.21,43.87 476.26,44.38 476.31,44.88 476.37,45.39 476.42,45.90 476.47,46.42 476.53,46.93 476.58,47.44 476.63,47.96 476.69,48.47 476.74,48.99 476.79,49.50 476.85,50.01 476.90,50.52 476.95,51.02 477.00,51.52 477.06,52.01 477.11,52.49 477.16,52.95 477.22,53.40 477.27,53.83 477.32,54.25 477.38,54.65 477.43,55.02 477.48,55.37 477.53,55.71 477.59,56.03 477.64,56.33 477.69,56.61 477.75,56.88 477.80,57.15 477.85,57.40 477.91,57.65 477.96,57.89 478.01,58.13 478.07,58.36 478.12,58.59 478.17,58.82 478.22,59.05 478.28,59.27 478.33,59.49 478.38,59.71 478.44,59.92 478.49,60.12 478.54,60.32 478.60,60.51 478.65,60.69 478.70,60.86 478.75,61.03 478.81,61.18 478.86,61.33 478.91,61.47 478.97,61.60 479.02,61.73 479.07,61.85 479.13,61.97 479.18,62.09 479.23,62.20 479.29,62.31 479.34,62.42 479.39,62.53 479.44,62.63 479.50,62.74 479.55,62.85 479.60,62.95 479.66,63.06 479.71,63.16 479.76,63.26 479.82,63.37 479.87,63.46 479.92,63.56 479.97,63.65 480.03,63.74 480.08,63.83 480.13,63.91 480.19,63.99 480.24,64.06 480.29,64.13 480.35,64.19 480.40,64.25 480.45,64.31 480.51,64.36 480.56,64.41 480.61,64.45 480.66,64.50 480.72,64.54 480.77,64.58 480.82,64.62 480.88,64.67 480.93,64.71 480.98,64.74 481.04,64.78 481.09,64.82 481.14,64.85 481.19,64.88 481.25,64.91 481.30,64.93 481.35,64.95 481.41,64.96 481.46,64.95 481.51,64.94 481.57,64.91 481.62,64.87 481.67,64.81 481.73,64.74 481.78,64.65 481.83,64.54 481.88,64.43 481.94,64.29 481.99,64.15 482.04,63.99 482.10,63.83 482.15,63.66 482.20,63.49 482.26,63.31 482.31,63.13 482.36,62.94 482.41,62.76 482.47,62.57 482.52,62.38 482.57,62.19 482.63,62.00 482.68,61.81 482.73,61.61 482.79,61.41 482.84,61.20 482.89,60.98 482.95,60.75 483.00,60.50 483.05,60.24 483.10,59.96 483.16,59.65 483.21,59.32 483.26,58.96 483.32,58.57 483.37,58.15 483.42,57.71 483.48,57.24 483.53,56.74 483.58,56.22 483.63,55.68 483.69,55.13 483.74,54.56 483.79,53.99 483.85,53.40 483.90,52.81 483.95,52.22 484.01,51.63 484.06,51.03 484.11,50.43 484.17,49.83 484.22,49.23 484.27,48.64 484.32,48.04 484.38,47.45 484.43,46.86 484.48,46.27 484.54,45.68 484.59,45.10 484.64,44.53 484.70,43.96 484.75,43.40 484.80,42.85 484.85,42.30 484.91,41.76 484.96,41.23 485.01,40.70 485.07,40.18 485.12,39.66 485.17,39.15 485.23,38.64 485.28,38.13 485.33,37.63 485.39,37.12 485.44,36.62 485.49,36.12 485.54,35.62 485.60,35.12 485.65,34.62 485.70,34.12 485.76,33.62 485.81,33.13 485.86,32.64 485.92,32.15 485.97,31.67" fill="none" stroke="#8a1a24" stroke-width="0.7" stroke-linejoin="round"/>
<polyline points="430.43,124.49 430.48,124.26 430.54,123.99 430.59,123.69 430.64,123.36 430.70,122.99 430.75,122.59 430.80,122.16 430.86,121.71 430.91,121.22 430.96,120.71 431.01,120.18 431.07,119.64 431.12,119.07 431.17,118.50 431.23,117.91 431.28,117.32 431.33,116.72 431.39,116.11 431.44,115.50 431.49,114.89 431.55,114.28 431.60,113.67 431.65,113.05 431.70,112.44 431.76,111.82 431.81,111.20 431.86,110.59 431.92,109.97 431.97,109.36 432.02,108.74 432.08,108.13 432.13,107.51 432.18,106.89 432.23,106.28 432.29,105.66 432.34,105.05 432.39,104.43 432.45,103.81 432.50,103.20 432.55,102.58 432.61,101.97 432.66,101.35 432.71,100.73 432.77,100.12 432.82,99.50 432.87,98.89 432.92,98.27 432.98,97.66 433.03,97.04 433.08,96.42 433.14,95.81 433.19,95.19 433.24,94.58 433.30,93.96 433.35,93.35 433.40,92.74 433.45,92.13 433.51,91.52 433.56,90.91 433.61,90.31 433.67,89.71 433.72,89.13 433.77,88.55 433.83,87.98 433.88,87.43 433.93,86.89 433.99,86.38 434.04,85.89 434.09,85.42 434.14,84.98 434.20,84.57 434.25,84.19 434.30,83.84 434.36,83.52 434.41,83.23 434.46,82.97 434.52,82.73 434.57,82.52 434.62,82.33 434.67,82.16 434.73,82.01 434.78,81.87 434.83,81.75 434.89,81.64 434.94,81.55 434.99,81.47 435.05,81.40 435.10,81.35 435.15,81.32 435.21,81.30 435.26,81.30 435.31,81.31 435.36,81.34 435.42,81.39 435.47,81.45 435.52,81.53 435.58,81.62 435.63,81.73 435.68,81.84 435.74,81.97 435.79,82.11 435.84,82.26 435.89,82.42 435.95,82.59 436.00,82.76 436.05,82.95 436.11,83.13 436.16,83.33 436.21,83.53 436.27,83.73 436.32,83.94 436.37,84.16 436.43,84.37 436.48,84.59 436.53,84.82 436.58,85.04 436.64,85.27 436.69,85.49 436.74,85.71 436.80,85.94 436.85,86.15 436.90,86.37 436.96,86.58 437.01,86.78 437.06,86.98 437.11,87.17 437.17,87.35 437.22,87.52 437.27,87.68 437.33,87.83 437.38,87.97 437.43,88.11 437.49,88.23 437.54,88.34 437.59,88.44 437.65,88.54 437.70,88.63 437.75,88.72 437.80,88.80 437.86,88.88 437.91,88.96 437.96,89.03 438.02,89.10 438.07,89.17 438.12,89.24 438.18,89.31 438.23,89.38 438.28,89.44 438.33,89.51 438.39,89.58 438.44,89.65 438.49,89.71 438.55,89.78 438.60,89.85 438.65,89.91 438.71,89.98 438.76,90.05 438.81,90.12 438.87,90.19 438.92,90.26 438.97,90.33 439.02,90.40 439.08,90.47 439.13,90.55 439.18,90.63 439.24,90.72 439.29,90.81 439.34,90.91 439.40,91.02 439.45,91.14 439.50,91.27 439.55,91.41 439.61,91.56 439.66,91.73 439.71,91.92 439.77,92.12 439.82,92.33 439.87,92.56 439.93,92.81 439.98,93.08 440.03,93.36 440.09,93.65 440.14,93.96 440.19,94.29 440.24,94.64 440.30,95.00 440.35,95.38 440.40,95.78 440.46,96.20 440.51,96.63 440.56,97.09 440.62,97.56 440.67,98.05 440.72,98.55 440.77,99.07 440.83,99.60 440.88,100.14 440.93,100.70 440.99,101.26 441.04,101.82 441.09,102.39 441.15,102.97 441.20,103.55 441.25,104.13 441.31,104.71 441.36,105.29 441.41,105.88 441.46,106.46 441.52,107.05 441.57,107.64 441.62,108.22 441.68,108.81 441.73,109.39 441.78,109.98 441.84,110.56 441.89,111.15 441.94,111.73 441.99,112.31 442.05,112.89 442.10,113.46 442.15,114.04 442.21,114.60 442.26,115.16 442.31,115.71 442.37,116.26 442.42,116.79 442.47,117.30 442.53,117.81 442.58,118.29 442.63,118.77 442.68,119.22 442.74,119.65 442.79,120.07 442.84,120.47 442.90,120.86 442.95,121.22 443.00,121.58 443.06,121.92 443.11,122.24 443.16,122.55 443.22,122.86 443.27,123.15 443.32,123.42 443.37,123.69 443.43,123.94 443.48,124.17 443.53,124.39 443.59,124.58 443.64,124.76 443.69,124.91 443.75,125.04 443.80,125.15 443.85,125.23 443.90,125.28 443.96,125.30 444.01,125.30 444.06,125.27 444.12,125.21 444.17,125.13 444.22,125.01 444.28,124.87 444.33,124.70 444.38,124.49 444.44,124.26 444.49,123.99 444.54,123.69 444.59,123.35 444.65,122.99 444.70,122.59 444.75,122.16 444.81,121.70 444.86,121.22 444.91,120.71 444.97,120.18 445.02,119.63 445.07,119.07 445.12,118.49 445.18,117.90 445.23,117.31 445.28,116.71 445.34,116.10 445.39,115.50 445.44,114.88 445.50,114.27 445.55,113.66 445.60,113.04 445.66,112.43 445.71,111.81 445.76,111.20 445.81,110.58 445.87,109.97 445.92,109.35 445.97,108.73 446.03,108.12 446.08,107.50 446.13,106.89 446.19,106.27 446.24,105.65 446.29,105.04 446.34,104.42 446.40,103.81 446.45,103.19 446.50,102.58 446.56,101.96 446.61,101.34 446.66,100.73 446.72,100.11 446.77,99.50 446.82,98.88 446.88,98.26 446.93,97.65 446.98,97.03 447.03,96.42 447.09,95.80 447.14,95.19 447.19,94.57 447.25,93.96 447.30,93.34 447.35,92.73 447.41,92.12 447.46,91.51 447.51,90.90 447.56,90.30 447.62,89.71 447.67,89.12 447.72,88.54 447.78,87.97 447.83,87.42 447.88,86.89 447.94,86.37 447.99,85.88 448.04,85.42 448.10,84.98 448.15,84.57 448.20,84.19 448.25,83.84 448.31,83.52 448.36,83.23 448.41,82.97 448.47,82.73 448.52,82.52 448.57,82.33 448.63,82.16 448.68,82.01 448.73,81.87 448.78,81.75 448.84,81.64 448.89,81.55 448.94,81.47 449.00,81.40 449.05,81.35 449.10,81.32 449.16,81.30 449.21,81.30 449.26,81.31 449.32,81.34 449.37,81.39 449.42,81.45 449.47,81.53 449.53,81.62 449.58,81.73 449.63,81.85 449.69,81.98 449.74,82.12 449.79,82.27 449.85,82.42 449.90,82.59 449.95,82.77 450.00,82.95 450.06,83.14 450.11,83.33 450.16,83.53 450.22,83.73 450.27,83.94 450.32,84.16 450.38,84.38 450.43,84.60 450.48,84.82 450.54,85.04 450.59,85.27 450.64,85.49 450.69,85.72 450.75,85.94 450.80,86.16 450.85,86.37 450.91,86.58 450.96,86.79 451.01,86.98 451.07,87.17 451.12,87.35 451.17,87.52 451.22,87.68 451.28,87.84 451.33,87.98 451.38,88.11 451.44,88.23 451.49,88.34 451.54,88.45 451.60,88.54 451.65,88.64 451.70,88.72 451.76,88.80 451.81,88.88 451.86,88.96 451.91,89.03 451.97,89.10 452.02,89.17 452.07,89.24 452.13,89.31 452.18,89.38 452.23,89.44 452.29,89.51 452.34,89.58 452.39,89.65 452.44,89.71 452.50,89.78 452.55,89.85 452.60,89.92 452.66,89.98 452.71,90.05 452.76,90.12 452.82,90.19 452.87,90.26 452.92,90.33 452.98,90.40 453.03,90.48 453.08,90.55 453.13,90.64 453.19,90.72 453.24,90.81 453.29,90.91 453.35,91.02 453.40,91.14 453.45,91.27 453.51,91.41 453.56,91.56 453.61,91.73 453.66,91.92 453.72,92.12 453.77,92.33 453.82,92.57 453.88,92.81 453.93,93.08 453.98,93.36 454.04,93.65 454.09,93.97 454.14,94.30 454.20,94.64 454.25,95.01 454.30,95.39 454.35,95.79 454.41,96.20 454.46,96.64 454.51,97.09 454.57,97.57 454.62,98.05 454.67,98.56 454.73,99.08 454.78,99.61 454.83,100.15 454.88,100.70 454.94,101.26 454.99,101.83 455.04,102.40 455.10,102.97 455.15,103.55 455.20,104.13 455.26,104.72 455.31,105.30 455.36,105.89 455.42,106.47 455.47,107.06 455.52,107.64 455.57,108.23 455.63,108.81 455.68,109.40 455.73,109.99 455.79,110.57 455.84,111.15 455.89,111.74 455.95,112.32 456.00,112.90 456.05,113.47 456.10,114.04 456.16,114.61 456.21,115.17 456.26,115.72 456.32,116.26 456.37,116.79 456.42,117.31 456.48,117.81 456.53,118.30 456.58,118.77 456.64,119.22 456.69,119.66 456.74,120.08 456.79,120.48 456.85,120.86 456.90,121.23 456.95,121.58 457.01,121.92 457.06,122.25 457.11,122.56 457.17,122.86 457.22,123.15 457.27,123.43 457.32,123.69 457.38,123.94 457.43,124.17 457.48,124.39 457.54,124.59 457.59,124.76 457.64,124.92 457.70,125.05 457.75,125.15 457.80,125.23 457.86,125.28 457.91,125.30 457.96,125.30 458.01,125.27 458.07,125.21 458.12,125.12 458.17,125.01 458.23,124.87 458.28,124.69 458.33,124.49 458.39,124.25 458.44,123.99 458.49,123.68 458.54,123.35 458.60,122.98 458.65,122.58 458.70,122.15 458.76,121.70 458.81,121.21 458.86,120.70 458.92,120.17 458.97,119.62 459.02,119.06 459.08,118.48 459.13,117.90 459.18,117.30 459.23,116.70 459.29,116.10 459.34,115.49 459.39,114.88 459.45,114.26 459.50,113.65 459.55,113.04 459.61,112.42 459.66,111.81 459.71,111.19 459.76,110.57 459.82,109.96 459.87,109.34 459.92,108.73 459.98,108.11 460.03,107.50 460.08,106.88 460.14,106.26 460.19,105.65 460.24,105.03 460.30,104.42 460.35,103.80 460.40,103.18 460.45,102.57 460.51,101.95 460.56,101.34 460.61,100.72 460.67,100.10 460.72,99.49 460.77,98.87 460.83,98.26 460.88,97.64 460.93,97.03 460.98,96.41 461.04,95.79 461.09,95.18 461.14,94.56 461.20,93.95 461.25,93.33 461.30,92.72 461.36,92.11 461.41,91.50 461.46,90.90 461.52,90.29 461.57,89.70 461.62,89.11 461.67,88.53 461.73,87.97 461.78,87.42 461.83,86.88 461.89,86.37 461.94,85.88 461.99,85.41 462.05,84.97 462.10,84.56 462.15,84.18 462.20,83.84 462.26,83.52 462.31,83.23 462.36,82.97 462.42,82.73 462.47,82.52 462.52,82.33 462.58,82.16 462.63,82.01 462.68,81.87 462.74,81.75 462.79,81.64 462.84,81.55 462.89,81.47 462.95,81.40 463.00,81.35 463.05,81.32 463.11,81.30 463.16,81.30 463.21,81.31 463.27,81.34 463.32,81.39 463.37,81.45 463.42,81.53 463.48,81.62 463.53,81.73 463.58,81.85 463.64,81.98 463.69,82.12 463.74,82.27 463.80,82.43 463.85,82.59 463.90,82.77 463.96,82.95 464.01,83.14 464.06,83.33 464.11,83.53 464.17,83.74 464.22,83.95 464.27,84.16 464.33,84.38 464.38,84.60 464.43,84.82 464.49,85.05 464.54,85.27 464.59,85.50 464.64,85.72 464.70,85.94 464.75,86.16 464.80,86.37 464.86,86.58 464.91,86.79 464.96,86.99 465.02,87.17 465.07,87.35 465.12,87.53 465.18,87.69 465.23,87.84 465.28,87.98 465.33,88.11 465.39,88.23 465.44,88.34 465.49,88.45 465.55,88.54 465.60,88.64 465.65,88.72 465.71,88.80 465.76,88.88 465.81,88.96 465.86,89.03 465.92,89.10 465.97,89.17 466.02,89.24 466.08,89.31 466.13,89.38 466.18,89.44 466.24,89.51 466.29,89.58 466.34,89.65 466.40,89.71 466.45,89.78 466.50,89.85 466.55,89.92 466.61,89.98 466.66,90.05 466.71,90.12 466.77,90.19 466.82,90.26 466.87,90.33 466.93,90.40 466.98,90.48 467.03,90.55 467.08,90.64 467.14,90.72 467.19,90.81 467.24,90.91 467.30,91.02 467.35,91.14 467.40,91.27 467.46,91.41 467.51,91.57 467.56,91.74 467.62,91.92 467.67,92.12 467.72,92.34 467.77,92.57 467.83,92.82 467.88,93.08 467.93,93.36 467.99,93.66 468.04,93.97 468.09,94.30 468.15,94.65 468.20,95.01 468.25,95.39 468.30,95.79 468.36,96.21 468.41,96.65 468.46,97.10 468.52,97.57 468.57,98.06 468.62,98.56 468.68,99.08 468.73,99.61 468.78,100.16 468.84,100.71 468.89,101.27 468.94,101.83 468.99,102.41 469.05,102.98 469.10,103.56 469.15,104.14 469.21,104.72 469.26,105.31 469.31,105.89 469.37,106.48 469.42,107.06 469.47,107.65 469.52,108.24 469.58,108.82 469.63,109.41 469.68,109.99 469.74,110.58 469.79,111.16 469.84,111.74 469.90,112.32 469.95,112.90 470.00,113.48 470.06,114.05 470.11,114.62 470.16,115.18 470.21,115.73 470.27,116.27 470.32,116.80 470.37,117.32 470.43,117.82 470.48,118.31 470.53,118.78 470.59,119.23 470.64,119.66 470.69,120.08 470.74,120.48 470.80,120.87 470.85,121.23 470.90,121.59 470.96,121.92 471.01,122.25 471.06,122.56 471.12,122.86 471.17,123.15 471.22,123.43 471.28,123.69 471.33,123.94 471.38,124.18 471.43,124.39 471.49,124.59 471.54,124.77 471.59,124.92 471.65,125.05 471.70,125.15 471.75,125.23 471.81,125.28 471.86,125.30 471.91,125.30 471.96,125.27 472.02,125.21 472.07,125.12 472.12,125.01 472.18,124.86 472.23,124.69 472.28,124.49 472.34,124.25 472.39,123.98 472.44,123.68 472.50,123.35 472.55,122.98 472.60,122.58 472.65,122.15 472.71,121.69 472.76,121.20 472.81,120.69 472.87,120.16 472.92,119.62 472.97,119.05 473.03,118.48 473.08,117.89 473.13,117.30 473.18,116.69 473.24,116.09 473.29,115.48 473.34,114.87 473.40,114.26 473.45,113.64 473.50,113.03 473.56,112.41 473.61,111.80 473.66,111.18 473.72,110.57 473.77,109.95 473.82,109.34 473.87,108.72 473.93,108.10 473.98,107.49 474.03,106.87 474.09,106.26 474.14,105.64 474.19,105.02 474.25,104.41 474.30,103.79 474.35,103.18 474.41,102.56 474.46,101.94 474.51,101.33 474.56,100.71 474.62,100.10 474.67,99.48 474.72,98.87 474.78,98.25 474.83,97.63 474.88,97.02 474.94,96.40 474.99,95.79 475.04,95.17 475.09,94.56 475.15,93.94 475.20,93.33 475.25,92.71 475.31,92.10 475.36,91.49 475.41,90.89 475.47,90.29 475.52,89.69 475.57,89.11 475.63,88.53 475.68,87.96 475.73,87.41 475.78,86.88 475.84,86.36 475.89,85.87 475.94,85.41 476.00,84.97 476.05,84.56 476.10,84.18 476.16,83.83 476.21,83.51 476.26,83.22 476.31,82.96 476.37,82.73 476.42,82.52 476.47,82.33 476.53,82.16 476.58,82.00 476.63,81.87 476.69,81.75 476.74,81.64 476.79,81.55 476.85,81.47 476.90,81.40 476.95,81.35 477.00,81.32 477.06,81.30 477.11,81.30 477.16,81.31 477.22,81.34 477.27,81.39 477.32,81.45 477.38,81.53 477.43,81.62 477.48,81.73 477.53,81.85 477.59,81.98 477.64,82.12 477.69,82.27 477.75,82.43 477.80,82.60 477.85,82.77 477.91,82.95 477.96,83.14 478.01,83.33 478.07,83.53 478.12,83.74 478.17,83.95 478.22,84.16 478.28,84.38 478.33,84.60 478.38,84.82 478.44,85.05 478.49,85.27 478.54,85.50 478.60,85.72 478.65,85.94 478.70,86.16 478.75,86.38 478.81,86.59 478.86,86.79 478.91,86.99 478.97,87.18 479.02,87.36 479.07,87.53 479.13,87.69 479.18,87.84 479.23,87.98 479.29,88.11 479.34,88.23 479.39,88.34 479.44,88.45 479.50,88.55 479.55,88.64 479.60,88.72 479.66,88.80 479.71,88.88 479.76,88.96 479.82,89.03 479.87,89.10 479.92,89.17 479.97,89.24 480.03,89.31 480.08,89.38 480.13,89.45 480.19,89.51 480.24,89.58 480.29,89.65 480.35,89.71 480.40,89.78 480.45,89.85 480.51,89.92 480.56,89.98 480.61,90.05 480.66,90.12 480.72,90.19 480.77,90.26 480.82,90.33 480.88,90.40 480.93,90.48 480.98,90.56 481.04,90.64 481.09,90.72 481.14,90.82 481.19,90.92 481.25,91.02 481.30,91.14 481.35,91.27 481.41,91.41 481.46,91.57 481.51,91.74 481.57,91.92 481.62,92.12 481.67,92.34 481.73,92.57 481.78,92.82 481.83,93.09 481.88,93.37 481.94,93.66 481.99,93.98 482.04,94.30 482.10,94.65 482.15,95.01 482.20,95.40 482.26,95.80 482.31,96.21 482.36,96.65 482.41,97.11 482.47,97.58 482.52,98.07 482.57,98.57 482.63,99.09 482.68,99.62 482.73,100.16 482.79,100.72 482.84,101.28 482.89,101.84 482.95,102.41 483.00,102.99 483.05,103.57 483.10,104.15 483.16,104.73 483.21,105.31 483.26,105.90 483.32,106.48 483.37,107.07 483.42,107.66 483.48,108.24 483.53,108.83 483.58,109.41 483.63,110.00 483.69,110.58 483.74,111.17 483.79,111.75 483.85,112.33 483.90,112.91 483.95,113.49 484.01,114.06 484.06,114.62 484.11,115.18 484.17,115.73 484.22,116.27 484.27,116.80 484.32,117.32 484.38,117.82 484.43,118.31 484.48,118.78 484.54,119.23 484.59,119.67 484.64,120.09 484.70,120.49 484.75,120.87 484.80,121.24 484.85,121.59 484.91,121.93 484.96,122.25 485.01,122.57 485.07,122.87 485.12,123.16 485.17,123.43 485.23,123.70 485.28,123.94 485.33,124.18 485.39,124.39 485.44,124.59 485.49,124.77 485.54,124.92 485.60,125.05 485.65,125.15 485.70,125.23 485.76,125.28 485.81,125.30 485.86,125.30 485.92,125.27 485.97,125.21" fill="none" stroke="#e8242e" stroke-width="0.7" stroke-linejoin="round"/>
<rect x="541.20" y="13.40" width="58.20" height="119.20" fill="none" stroke="#8a8a8a" stroke-width="0.7"/>
<rect x="602.20" y="13.40" width="58.40" height="119.20" fill="none" stroke="#bbbbbb" stroke-width="0.7"/>
<line x1="539.90" y1="132.49" x2="541.20" y2="132.49" stroke="#555" stroke-width="0.5"/>
<line x1="539.90" y1="124.37" x2="541.20" y2="124.37" stroke="#555" stroke-width="0.5"/>
<line x1="539.90" y1="118.07" x2="541.20" y2="118.07" stroke="#555" stroke-width="0.5"/>
<line x1="539.90" y1="112.92" x2="541.20" y2="112.92" stroke="#555" stroke-width="0.5"/>
<line x1="539.90" y1="108.57" x2="541.20" y2="108.57" stroke="#555" stroke-width="0.5"/>
<line x1="539.90" y1="104.80" x2="541.20" y2="104.80" stroke="#555" stroke-width="0.5"/>
<line x1="539.90" y1="101.47" x2="541.20" y2="101.47" stroke="#555" stroke-width="0.5"/>
<line x1="538.80" y1="98.50" x2="541.20" y2="98.50" stroke="#555" stroke-width="0.5"/>
<line x1="539.90" y1="78.93" x2="541.20" y2="78.93" stroke="#555" stroke-width="0.5"/>
<line x1="539.90" y1="67.49" x2="541.20" y2="67.49" stroke="#555" stroke-width="0.5"/>
<line x1="539.90" y1="59.37" x2="541.20" y2="59.37" stroke="#555" stroke-width="0.5"/>
<line x1="539.90" y1="53.07" x2="541.20" y2="53.07" stroke="#555" stroke-width="0.5"/>
<line x1="539.90" y1="47.92" x2="541.20" y2="47.92" stroke="#555" stroke-width="0.5"/>
<line x1="539.90" y1="43.57" x2="541.20" y2="43.57" stroke="#555" stroke-width="0.5"/>
<line x1="539.90" y1="39.80" x2="541.20" y2="39.80" stroke="#555" stroke-width="0.5"/>
<line x1="539.90" y1="36.47" x2="541.20" y2="36.47" stroke="#555" stroke-width="0.5"/>
<line x1="538.80" y1="33.50" x2="541.20" y2="33.50" stroke="#555" stroke-width="0.5"/>
<line x1="539.90" y1="13.93" x2="541.20" y2="13.93" stroke="#555" stroke-width="0.5"/>
<line x1="600.90" y1="132.49" x2="602.20" y2="132.49" stroke="#555" stroke-width="0.5"/>
<line x1="600.90" y1="124.37" x2="602.20" y2="124.37" stroke="#555" stroke-width="0.5"/>
<line x1="600.90" y1="118.07" x2="602.20" y2="118.07" stroke="#555" stroke-width="0.5"/>
<line x1="600.90" y1="112.92" x2="602.20" y2="112.92" stroke="#555" stroke-width="0.5"/>
<line x1="600.90" y1="108.57" x2="602.20" y2="108.57" stroke="#555" stroke-width="0.5"/>
<line x1="600.90" y1="104.80" x2="602.20" y2="104.80" stroke="#555" stroke-width="0.5"/>
<line x1="600.90" y1="101.47" x2="602.20" y2="101.47" stroke="#555" stroke-width="0.5"/>
<line x1="599.80" y1="98.50" x2="602.20" y2="98.50" stroke="#555" stroke-width="0.5"/>
<line x1="600.90" y1="78.93" x2="602.20" y2="78.93" stroke="#555" stroke-width="0.5"/>
<line x1="600.90" y1="67.49" x2="602.20" y2="67.49" stroke="#555" stroke-width="0.5"/>
<line x1="600.90" y1="59.37" x2="602.20" y2="59.37" stroke="#555" stroke-width="0.5"/>
<line x1="600.90" y1="53.07" x2="602.20" y2="53.07" stroke="#555" stroke-width="0.5"/>
<line x1="600.90" y1="47.92" x2="602.20" y2="47.92" stroke="#555" stroke-width="0.5"/>
<line x1="600.90" y1="43.57" x2="602.20" y2="43.57" stroke="#555" stroke-width="0.5"/>
<line x1="600.90" y1="39.80" x2="602.20" y2="39.80" stroke="#555" stroke-width="0.5"/>
<line x1="600.90" y1="36.47" x2="602.20" y2="36.47" stroke="#555" stroke-width="0.5"/>
<line x1="599.80" y1="33.50" x2="602.20" y2="33.50" stroke="#555" stroke-width="0.5"/>
<line x1="600.90" y1="13.93" x2="602.20" y2="13.93" stroke="#555" stroke-width="0.5"/>
<text x="529.00" y="36.10" text-anchor="middle" fill="#3a3a3a" style="font-size:7.4px;">10<tspan font-size="4.9px" dy="-2.7">3</tspan></text>
<text x="529.00" y="101.10" text-anchor="middle" fill="#3a3a3a" style="font-size:7.4px;">10<tspan font-size="4.9px" dy="-2.7">2</tspan></text>
<line x1="541.60" y1="132.60" x2="541.60" y2="130.40" stroke="#555" stroke-width="0.5"/>
<line x1="547.98" y1="132.60" x2="547.98" y2="131.40" stroke="#555" stroke-width="0.5"/>
<line x1="551.71" y1="132.60" x2="551.71" y2="131.40" stroke="#555" stroke-width="0.5"/>
<line x1="554.36" y1="132.60" x2="554.36" y2="131.40" stroke="#555" stroke-width="0.5"/>
<line x1="556.42" y1="132.60" x2="556.42" y2="131.40" stroke="#555" stroke-width="0.5"/>
<line x1="558.10" y1="132.60" x2="558.10" y2="131.40" stroke="#555" stroke-width="0.5"/>
<line x1="559.52" y1="132.60" x2="559.52" y2="131.40" stroke="#555" stroke-width="0.5"/>
<line x1="560.75" y1="132.60" x2="560.75" y2="131.40" stroke="#555" stroke-width="0.5"/>
<line x1="561.83" y1="132.60" x2="561.83" y2="131.40" stroke="#555" stroke-width="0.5"/>
<line x1="562.80" y1="132.60" x2="562.80" y2="130.40" stroke="#555" stroke-width="0.5"/>
<line x1="569.18" y1="132.60" x2="569.18" y2="131.40" stroke="#555" stroke-width="0.5"/>
<line x1="572.91" y1="132.60" x2="572.91" y2="131.40" stroke="#555" stroke-width="0.5"/>
<line x1="575.56" y1="132.60" x2="575.56" y2="131.40" stroke="#555" stroke-width="0.5"/>
<line x1="577.62" y1="132.60" x2="577.62" y2="131.40" stroke="#555" stroke-width="0.5"/>
<line x1="579.30" y1="132.60" x2="579.30" y2="131.40" stroke="#555" stroke-width="0.5"/>
<line x1="580.72" y1="132.60" x2="580.72" y2="131.40" stroke="#555" stroke-width="0.5"/>
<line x1="581.95" y1="132.60" x2="581.95" y2="131.40" stroke="#555" stroke-width="0.5"/>
<line x1="583.03" y1="132.60" x2="583.03" y2="131.40" stroke="#555" stroke-width="0.5"/>
<line x1="584.00" y1="132.60" x2="584.00" y2="130.40" stroke="#555" stroke-width="0.5"/>
<line x1="590.38" y1="132.60" x2="590.38" y2="131.40" stroke="#555" stroke-width="0.5"/>
<line x1="594.11" y1="132.60" x2="594.11" y2="131.40" stroke="#555" stroke-width="0.5"/>
<line x1="596.76" y1="132.60" x2="596.76" y2="131.40" stroke="#555" stroke-width="0.5"/>
<line x1="598.82" y1="132.60" x2="598.82" y2="131.40" stroke="#555" stroke-width="0.5"/>
<text x="541.90" y="143.60" text-anchor="middle" fill="#3a3a3a" style="font-size:7.4px;">10<tspan font-size="4.9px" dy="-2.7">-1</tspan></text>
<text x="563.10" y="143.60" text-anchor="middle" fill="#3a3a3a" style="font-size:7.4px;">10<tspan font-size="4.9px" dy="-2.7">0</tspan></text>
<text x="584.30" y="143.60" text-anchor="middle" fill="#3a3a3a" style="font-size:7.4px;">10<tspan font-size="4.9px" dy="-2.7">1</tspan></text>
<line x1="602.50" y1="132.60" x2="602.50" y2="130.40" stroke="#555" stroke-width="0.5"/>
<line x1="608.94" y1="132.60" x2="608.94" y2="131.40" stroke="#555" stroke-width="0.5"/>
<line x1="612.71" y1="132.60" x2="612.71" y2="131.40" stroke="#555" stroke-width="0.5"/>
<line x1="615.38" y1="132.60" x2="615.38" y2="131.40" stroke="#555" stroke-width="0.5"/>
<line x1="617.46" y1="132.60" x2="617.46" y2="131.40" stroke="#555" stroke-width="0.5"/>
<line x1="619.15" y1="132.60" x2="619.15" y2="131.40" stroke="#555" stroke-width="0.5"/>
<line x1="620.59" y1="132.60" x2="620.59" y2="131.40" stroke="#555" stroke-width="0.5"/>
<line x1="621.83" y1="132.60" x2="621.83" y2="131.40" stroke="#555" stroke-width="0.5"/>
<line x1="622.92" y1="132.60" x2="622.92" y2="131.40" stroke="#555" stroke-width="0.5"/>
<line x1="623.90" y1="132.60" x2="623.90" y2="130.40" stroke="#555" stroke-width="0.5"/>
<line x1="630.34" y1="132.60" x2="630.34" y2="131.40" stroke="#555" stroke-width="0.5"/>
<line x1="634.11" y1="132.60" x2="634.11" y2="131.40" stroke="#555" stroke-width="0.5"/>
<line x1="636.78" y1="132.60" x2="636.78" y2="131.40" stroke="#555" stroke-width="0.5"/>
<line x1="638.86" y1="132.60" x2="638.86" y2="131.40" stroke="#555" stroke-width="0.5"/>
<line x1="640.55" y1="132.60" x2="640.55" y2="131.40" stroke="#555" stroke-width="0.5"/>
<line x1="641.99" y1="132.60" x2="641.99" y2="131.40" stroke="#555" stroke-width="0.5"/>
<line x1="643.23" y1="132.60" x2="643.23" y2="131.40" stroke="#555" stroke-width="0.5"/>
<line x1="644.32" y1="132.60" x2="644.32" y2="131.40" stroke="#555" stroke-width="0.5"/>
<line x1="645.30" y1="132.60" x2="645.30" y2="130.40" stroke="#555" stroke-width="0.5"/>
<line x1="651.74" y1="132.60" x2="651.74" y2="131.40" stroke="#555" stroke-width="0.5"/>
<line x1="655.51" y1="132.60" x2="655.51" y2="131.40" stroke="#555" stroke-width="0.5"/>
<line x1="658.18" y1="132.60" x2="658.18" y2="131.40" stroke="#555" stroke-width="0.5"/>
<line x1="660.26" y1="132.60" x2="660.26" y2="131.40" stroke="#555" stroke-width="0.5"/>
<text x="602.80" y="143.60" text-anchor="middle" fill="#3a3a3a" style="font-size:7.4px;">10<tspan font-size="4.9px" dy="-2.7">-1</tspan></text>
<text x="624.20" y="143.60" text-anchor="middle" fill="#3a3a3a" style="font-size:7.4px;">10<tspan font-size="4.9px" dy="-2.7">0</tspan></text>
<text x="645.60" y="143.60" text-anchor="middle" fill="#3a3a3a" style="font-size:7.4px;">10<tspan font-size="4.9px" dy="-2.7">1</tspan></text>
<text x="570.30" y="157.0" text-anchor="middle" fill="#3a3a3a" style="font-size:8.7px;"><tspan font-style="italic">I</tspan><tspan font-size="6.7px" dy="2.0">in</tspan><tspan dy="-2.0"> (µA)</tspan></text>
<text x="631.40" y="157.0" text-anchor="middle" fill="#3a3a3a" style="font-size:8.7px;"><tspan font-style="italic">I</tspan><tspan font-size="6.7px" dy="2.0">in</tspan><tspan dy="-2.0"> (µA)</tspan></text>
<text x="520.30" y="72.80" text-anchor="middle" fill="#3a3a3a" transform="rotate(-90 520.30 72.80)" style="font-size:8.7px;"><tspan font-style="italic">f</tspan><tspan font-size="6.7px" dy="2.0">fire</tspan><tspan dy="-2.0"> (Hz)</tspan></text>
<polyline points="550.10,118.00 553.30,107.50 556.50,101.60 559.70,96.80 562.80,92.40 566.10,91.60 569.30,91.60 572.40,97.40" fill="none" stroke="#6cbf45" stroke-width="0.6" stroke-linejoin="round"/>
<polygon points="550.10,116.20 551.90,119.44 548.30,119.44" fill="#6cbf45"/>
<polygon points="553.30,105.70 555.10,108.94 551.50,108.94" fill="#6cbf45"/>
<polygon points="556.50,99.80 558.30,103.04 554.70,103.04" fill="#6cbf45"/>
<polygon points="559.70,95.00 561.50,98.24 557.90,98.24" fill="#6cbf45"/>
<polygon points="562.80,90.60 564.60,93.84 561.00,93.84" fill="#6cbf45"/>
<polygon points="566.10,89.80 567.90,93.04 564.30,93.04" fill="#6cbf45"/>
<polygon points="569.30,89.80 571.10,93.04 567.50,93.04" fill="#6cbf45"/>
<polygon points="572.40,95.60 574.20,98.84 570.60,98.84" fill="#6cbf45"/>
<polyline points="556.50,101.40 559.70,95.40 562.90,90.10 566.10,87.00 569.30,83.60 572.40,82.10 575.70,81.70 579.00,82.50 582.20,84.60" fill="none" stroke="#f58231" stroke-width="0.6" stroke-linejoin="round"/>
<rect x="555.15" y="100.05" width="2.70" height="2.70" fill="#f58231"/>
<rect x="558.35" y="94.05" width="2.70" height="2.70" fill="#f58231"/>
<rect x="561.55" y="88.75" width="2.70" height="2.70" fill="#f58231"/>
<rect x="564.75" y="85.65" width="2.70" height="2.70" fill="#f58231"/>
<rect x="567.95" y="82.25" width="2.70" height="2.70" fill="#f58231"/>
<rect x="571.05" y="80.75" width="2.70" height="2.70" fill="#f58231"/>
<rect x="574.35" y="80.35" width="2.70" height="2.70" fill="#f58231"/>
<rect x="577.65" y="81.15" width="2.70" height="2.70" fill="#f58231"/>
<rect x="580.85" y="83.25" width="2.70" height="2.70" fill="#f58231"/>
<polyline points="556.60,96.80 559.70,92.90 562.80,87.20 566.00,81.50 569.20,76.60 572.40,73.40 575.70,68.70 579.00,66.20 582.20,69.90 585.40,73.40 588.50,75.90" fill="none" stroke="#2f8fd8" stroke-width="0.6" stroke-linejoin="round"/>
<circle cx="556.60" cy="96.80" r="1.55" fill="#2f8fd8"/>
<circle cx="559.70" cy="92.90" r="1.55" fill="#2f8fd8"/>
<circle cx="562.80" cy="87.20" r="1.55" fill="#2f8fd8"/>
<circle cx="566.00" cy="81.50" r="1.55" fill="#2f8fd8"/>
<circle cx="569.20" cy="76.60" r="1.55" fill="#2f8fd8"/>
<circle cx="572.40" cy="73.40" r="1.55" fill="#2f8fd8"/>
<circle cx="575.70" cy="68.70" r="1.55" fill="#2f8fd8"/>
<circle cx="579.00" cy="66.20" r="1.55" fill="#2f8fd8"/>
<circle cx="582.20" cy="69.90" r="1.55" fill="#2f8fd8"/>
<circle cx="585.40" cy="73.40" r="1.55" fill="#2f8fd8"/>
<circle cx="588.50" cy="75.90" r="1.55" fill="#2f8fd8"/>
<polyline points="562.70,68.50 565.90,68.00 569.20,64.50 572.40,61.70 575.70,59.50 579.00,57.10 582.20,54.70 585.40,53.20 588.50,54.30 591.70,57.10 594.90,59.20" fill="none" stroke="#e8262c" stroke-width="0.6" stroke-linejoin="round"/>
<circle cx="562.70" cy="68.50" r="1.65" fill="#e8262c"/>
<circle cx="565.90" cy="68.00" r="1.65" fill="#e8262c"/>
<circle cx="569.20" cy="64.50" r="1.65" fill="#e8262c"/>
<circle cx="572.40" cy="61.70" r="1.65" fill="#e8262c"/>
<circle cx="575.70" cy="59.50" r="1.65" fill="#e8262c"/>
<circle cx="579.00" cy="57.10" r="1.65" fill="#e8262c"/>
<circle cx="582.20" cy="54.70" r="1.65" fill="#e8262c"/>
<circle cx="585.40" cy="53.20" r="1.65" fill="#e8262c"/>
<circle cx="588.50" cy="54.30" r="1.65" fill="#e8262c"/>
<circle cx="591.70" cy="57.10" r="1.65" fill="#e8262c"/>
<circle cx="594.90" cy="59.20" r="1.65" fill="#e8262c"/>
<polyline points="611.30,98.60 614.40,93.90 617.60,89.30 620.90,86.50 624.20,84.70" fill="none" stroke="#a457b8" stroke-width="0.6" stroke-linejoin="round"/>
<polygon points="611.30,96.80 612.74,98.60 611.30,100.40 609.86,98.60" fill="#a457b8"/>
<polygon points="614.40,92.10 615.84,93.90 614.40,95.70 612.96,93.90" fill="#a457b8"/>
<polygon points="617.60,87.50 619.04,89.30 617.60,91.10 616.16,89.30" fill="#a457b8"/>
<polygon points="620.90,84.70 622.34,86.50 620.90,88.30 619.46,86.50" fill="#a457b8"/>
<polygon points="624.20,82.90 625.64,84.70 624.20,86.50 622.76,84.70" fill="#a457b8"/>
<polyline points="614.40,86.00 617.60,81.30 620.90,76.30 624.20,71.80 627.40,68.30 630.60,65.50 633.90,64.30 637.20,63.70" fill="none" stroke="#6cbf45" stroke-width="0.6" stroke-linejoin="round"/>
<polygon points="614.40,84.20 616.20,87.44 612.60,87.44" fill="#6cbf45"/>
<polygon points="617.60,79.50 619.40,82.74 615.80,82.74" fill="#6cbf45"/>
<polygon points="620.90,74.50 622.70,77.74 619.10,77.74" fill="#6cbf45"/>
<polygon points="624.20,70.00 626.00,73.24 622.40,73.24" fill="#6cbf45"/>
<polygon points="627.40,66.50 629.20,69.74 625.60,69.74" fill="#6cbf45"/>
<polygon points="630.60,63.70 632.40,66.94 628.80,66.94" fill="#6cbf45"/>
<polygon points="633.90,62.50 635.70,65.74 632.10,65.74" fill="#6cbf45"/>
<polygon points="637.20,61.90 639.00,65.14 635.40,65.14" fill="#6cbf45"/>
<polyline points="617.40,75.20 620.80,71.80 624.20,68.00 627.40,61.50 630.60,57.00 633.90,54.10 637.20,52.00 640.40,50.10 643.70,50.00 646.90,50.40" fill="none" stroke="#f58231" stroke-width="0.6" stroke-linejoin="round"/>
<rect x="616.05" y="73.85" width="2.70" height="2.70" fill="#f58231"/>
<rect x="619.45" y="70.45" width="2.70" height="2.70" fill="#f58231"/>
<rect x="622.85" y="66.65" width="2.70" height="2.70" fill="#f58231"/>
<rect x="626.05" y="60.15" width="2.70" height="2.70" fill="#f58231"/>
<rect x="629.25" y="55.65" width="2.70" height="2.70" fill="#f58231"/>
<rect x="632.55" y="52.75" width="2.70" height="2.70" fill="#f58231"/>
<rect x="635.85" y="50.65" width="2.70" height="2.70" fill="#f58231"/>
<rect x="639.05" y="48.75" width="2.70" height="2.70" fill="#f58231"/>
<rect x="642.35" y="48.65" width="2.70" height="2.70" fill="#f58231"/>
<rect x="645.55" y="49.05" width="2.70" height="2.70" fill="#f58231"/>
<polyline points="620.60,65.40 624.00,63.80 627.30,58.60 630.50,53.80 633.80,50.00 637.20,46.10 640.40,42.70 643.80,40.00 646.90,37.70 650.20,38.10 653.50,38.90" fill="none" stroke="#2f8fd8" stroke-width="0.6" stroke-linejoin="round"/>
<circle cx="620.60" cy="65.40" r="1.55" fill="#2f8fd8"/>
<circle cx="624.00" cy="63.80" r="1.55" fill="#2f8fd8"/>
<circle cx="627.30" cy="58.60" r="1.55" fill="#2f8fd8"/>
<circle cx="630.50" cy="53.80" r="1.55" fill="#2f8fd8"/>
<circle cx="633.80" cy="50.00" r="1.55" fill="#2f8fd8"/>
<circle cx="637.20" cy="46.10" r="1.55" fill="#2f8fd8"/>
<circle cx="640.40" cy="42.70" r="1.55" fill="#2f8fd8"/>
<circle cx="643.80" cy="40.00" r="1.55" fill="#2f8fd8"/>
<circle cx="646.90" cy="37.70" r="1.55" fill="#2f8fd8"/>
<circle cx="650.20" cy="38.10" r="1.55" fill="#2f8fd8"/>
<circle cx="653.50" cy="38.90" r="1.55" fill="#2f8fd8"/>
<polyline points="620.80,72.40 624.20,69.00 627.30,58.40 630.50,56.90 633.80,52.60 637.20,47.60 640.40,43.30 643.80,40.00 646.90,37.20 650.20,34.10 653.50,32.30 656.60,30.40" fill="none" stroke="#e8262c" stroke-width="0.6" stroke-linejoin="round"/>
<circle cx="620.80" cy="72.40" r="1.65" fill="#e8262c"/>
<circle cx="624.20" cy="69.00" r="1.65" fill="#e8262c"/>
<circle cx="627.30" cy="58.40" r="1.65" fill="#e8262c"/>
<circle cx="630.50" cy="56.90" r="1.65" fill="#e8262c"/>
<circle cx="633.80" cy="52.60" r="1.65" fill="#e8262c"/>
<circle cx="637.20" cy="47.60" r="1.65" fill="#e8262c"/>
<circle cx="640.40" cy="43.30" r="1.65" fill="#e8262c"/>
<circle cx="643.80" cy="40.00" r="1.65" fill="#e8262c"/>
<circle cx="646.90" cy="37.20" r="1.65" fill="#e8262c"/>
<circle cx="650.20" cy="34.10" r="1.65" fill="#e8262c"/>
<circle cx="653.50" cy="32.30" r="1.65" fill="#e8262c"/>
<circle cx="656.60" cy="30.40" r="1.65" fill="#e8262c"/>
<text x="583.60" y="21.00" text-anchor="start" fill="#3a3a3a" style="font-size:8.0px;"><tspan font-style="italic">V</tspan><tspan font-size="4.3px" dy="2.3">DD</tspan></text>
<line x1="573.00" y1="26.10" x2="581.80" y2="26.10" stroke="#6cbf45" stroke-width="0.6"/>
<polygon points="577.40,24.30 579.20,27.54 575.60,27.54" fill="#6cbf45"/>
<text x="585.00" y="28.70" text-anchor="start" fill="#3a3a3a" style="font-size:7.4px;">0.3</text>
<line x1="573.00" y1="33.80" x2="581.80" y2="33.80" stroke="#f58231" stroke-width="0.6"/>
<rect x="576.05" y="32.45" width="2.70" height="2.70" fill="#f58231"/>
<text x="585.00" y="36.40" text-anchor="start" fill="#3a3a3a" style="font-size:7.4px;">0.4</text>
<line x1="573.00" y1="41.40" x2="581.80" y2="41.40" stroke="#2f8fd8" stroke-width="0.6"/>
<circle cx="577.40" cy="41.40" r="1.55" fill="#2f8fd8"/>
<text x="585.00" y="44.00" text-anchor="start" fill="#3a3a3a" style="font-size:7.4px;">0.5</text>
<line x1="573.00" y1="49.00" x2="581.80" y2="49.00" stroke="#e8262c" stroke-width="0.6"/>
<circle cx="577.40" cy="49.00" r="1.65" fill="#e8262c"/>
<text x="585.00" y="51.60" text-anchor="start" fill="#3a3a3a" style="font-size:7.4px;">0.6</text>
<text x="611.60" y="20.40" text-anchor="start" fill="#3a3a3a" style="font-size:8.0px;"><tspan font-style="italic">V</tspan><tspan font-size="4.3px" dy="2.3">DD</tspan></text>
<line x1="603.90" y1="27.20" x2="612.20" y2="27.20" stroke="#a457b8" stroke-width="0.6"/>
<polygon points="608.05,25.40 609.49,27.20 608.05,29.00 606.61,27.20" fill="#a457b8"/>
<text x="613.60" y="29.80" text-anchor="start" fill="#3a3a3a" style="font-size:7.4px;">0.2</text>
<line x1="603.90" y1="34.60" x2="612.20" y2="34.60" stroke="#6cbf45" stroke-width="0.6"/>
<polygon points="608.05,32.80 609.85,36.04 606.25,36.04" fill="#6cbf45"/>
<text x="613.60" y="37.20" text-anchor="start" fill="#3a3a3a" style="font-size:7.4px;">0.3</text>
<line x1="603.90" y1="42.10" x2="612.20" y2="42.10" stroke="#f58231" stroke-width="0.6"/>
<rect x="606.70" y="40.75" width="2.70" height="2.70" fill="#f58231"/>
<text x="613.60" y="44.70" text-anchor="start" fill="#3a3a3a" style="font-size:7.4px;">0.4</text>
<line x1="603.90" y1="49.50" x2="612.20" y2="49.50" stroke="#2f8fd8" stroke-width="0.6"/>
<circle cx="608.05" cy="49.50" r="1.55" fill="#2f8fd8"/>
<text x="613.60" y="52.10" text-anchor="start" fill="#3a3a3a" style="font-size:7.4px;">0.5</text>
<line x1="603.90" y1="56.90" x2="612.20" y2="56.90" stroke="#e8262c" stroke-width="0.6"/>
<circle cx="608.05" cy="56.90" r="1.65" fill="#e8262c"/>
<text x="613.60" y="59.50" text-anchor="start" fill="#3a3a3a" style="font-size:7.4px;">0.6</text>
<text x="543.60" y="20.60" text-anchor="start" fill="#3a3a3a" style="font-size:7.4px;" textLength="12.0" lengthAdjust="spacingAndGlyphs">BBL</text>
<text x="633.00" y="20.50" text-anchor="start" fill="#3a3a3a" style="font-size:7.4px;" textLength="26.3" lengthAdjust="spacingAndGlyphs">FBDPPV</text>
<text x="641.80" y="28.50" text-anchor="start" fill="#3a3a3a" style="font-size:7.4px;" textLength="17.4" lengthAdjust="spacingAndGlyphs">-OEG</text>
<rect x="535.30" y="199.30" width="58.30" height="118.70" fill="none" stroke="#8a8a8a" stroke-width="0.7"/>
<rect x="597.00" y="199.30" width="57.40" height="118.70" fill="none" stroke="#8a8a8a" stroke-width="0.7"/>
<line x1="592.30" y1="317.17" x2="593.60" y2="317.17" stroke="#555" stroke-width="0.5"/>
<line x1="592.30" y1="311.34" x2="593.60" y2="311.34" stroke="#555" stroke-width="0.5"/>
<line x1="592.30" y1="306.83" x2="593.60" y2="306.83" stroke="#555" stroke-width="0.5"/>
<line x1="592.30" y1="303.14" x2="593.60" y2="303.14" stroke="#555" stroke-width="0.5"/>
<line x1="592.30" y1="300.02" x2="593.60" y2="300.02" stroke="#555" stroke-width="0.5"/>
<line x1="592.30" y1="297.32" x2="593.60" y2="297.32" stroke="#555" stroke-width="0.5"/>
<line x1="592.30" y1="294.93" x2="593.60" y2="294.93" stroke="#555" stroke-width="0.5"/>
<line x1="591.20" y1="292.80" x2="593.60" y2="292.80" stroke="#555" stroke-width="0.5"/>
<line x1="592.30" y1="278.77" x2="593.60" y2="278.77" stroke="#555" stroke-width="0.5"/>
<line x1="592.30" y1="270.57" x2="593.60" y2="270.57" stroke="#555" stroke-width="0.5"/>
<line x1="592.30" y1="264.74" x2="593.60" y2="264.74" stroke="#555" stroke-width="0.5"/>
<line x1="592.30" y1="260.23" x2="593.60" y2="260.23" stroke="#555" stroke-width="0.5"/>
<line x1="592.30" y1="256.54" x2="593.60" y2="256.54" stroke="#555" stroke-width="0.5"/>
<line x1="592.30" y1="253.42" x2="593.60" y2="253.42" stroke="#555" stroke-width="0.5"/>
<line x1="592.30" y1="250.72" x2="593.60" y2="250.72" stroke="#555" stroke-width="0.5"/>
<line x1="592.30" y1="248.33" x2="593.60" y2="248.33" stroke="#555" stroke-width="0.5"/>
<line x1="591.20" y1="246.20" x2="593.60" y2="246.20" stroke="#555" stroke-width="0.5"/>
<line x1="592.30" y1="232.17" x2="593.60" y2="232.17" stroke="#555" stroke-width="0.5"/>
<line x1="592.30" y1="223.97" x2="593.60" y2="223.97" stroke="#555" stroke-width="0.5"/>
<line x1="592.30" y1="218.14" x2="593.60" y2="218.14" stroke="#555" stroke-width="0.5"/>
<line x1="592.30" y1="213.63" x2="593.60" y2="213.63" stroke="#555" stroke-width="0.5"/>
<line x1="592.30" y1="209.94" x2="593.60" y2="209.94" stroke="#555" stroke-width="0.5"/>
<line x1="592.30" y1="206.82" x2="593.60" y2="206.82" stroke="#555" stroke-width="0.5"/>
<line x1="592.30" y1="204.12" x2="593.60" y2="204.12" stroke="#555" stroke-width="0.5"/>
<line x1="592.30" y1="201.73" x2="593.60" y2="201.73" stroke="#555" stroke-width="0.5"/>
<line x1="654.40" y1="317.17" x2="655.70" y2="317.17" stroke="#555" stroke-width="0.5"/>
<line x1="654.40" y1="311.34" x2="655.70" y2="311.34" stroke="#555" stroke-width="0.5"/>
<line x1="654.40" y1="306.83" x2="655.70" y2="306.83" stroke="#555" stroke-width="0.5"/>
<line x1="654.40" y1="303.14" x2="655.70" y2="303.14" stroke="#555" stroke-width="0.5"/>
<line x1="654.40" y1="300.02" x2="655.70" y2="300.02" stroke="#555" stroke-width="0.5"/>
<line x1="654.40" y1="297.32" x2="655.70" y2="297.32" stroke="#555" stroke-width="0.5"/>
<line x1="654.40" y1="294.93" x2="655.70" y2="294.93" stroke="#555" stroke-width="0.5"/>
<line x1="654.40" y1="292.80" x2="656.80" y2="292.80" stroke="#555" stroke-width="0.5"/>
<line x1="654.40" y1="278.77" x2="655.70" y2="278.77" stroke="#555" stroke-width="0.5"/>
<line x1="654.40" y1="270.57" x2="655.70" y2="270.57" stroke="#555" stroke-width="0.5"/>
<line x1="654.40" y1="264.74" x2="655.70" y2="264.74" stroke="#555" stroke-width="0.5"/>
<line x1="654.40" y1="260.23" x2="655.70" y2="260.23" stroke="#555" stroke-width="0.5"/>
<line x1="654.40" y1="256.54" x2="655.70" y2="256.54" stroke="#555" stroke-width="0.5"/>
<line x1="654.40" y1="253.42" x2="655.70" y2="253.42" stroke="#555" stroke-width="0.5"/>
<line x1="654.40" y1="250.72" x2="655.70" y2="250.72" stroke="#555" stroke-width="0.5"/>
<line x1="654.40" y1="248.33" x2="655.70" y2="248.33" stroke="#555" stroke-width="0.5"/>
<line x1="654.40" y1="246.20" x2="656.80" y2="246.20" stroke="#555" stroke-width="0.5"/>
<line x1="654.40" y1="232.17" x2="655.70" y2="232.17" stroke="#555" stroke-width="0.5"/>
<line x1="654.40" y1="223.97" x2="655.70" y2="223.97" stroke="#555" stroke-width="0.5"/>
<line x1="654.40" y1="218.14" x2="655.70" y2="218.14" stroke="#555" stroke-width="0.5"/>
<line x1="654.40" y1="213.63" x2="655.70" y2="213.63" stroke="#555" stroke-width="0.5"/>
<line x1="654.40" y1="209.94" x2="655.70" y2="209.94" stroke="#555" stroke-width="0.5"/>
<line x1="654.40" y1="206.82" x2="655.70" y2="206.82" stroke="#555" stroke-width="0.5"/>
<line x1="654.40" y1="204.12" x2="655.70" y2="204.12" stroke="#555" stroke-width="0.5"/>
<line x1="654.40" y1="201.73" x2="655.70" y2="201.73" stroke="#555" stroke-width="0.5"/>
<text x="660.20" y="202.20" text-anchor="start" fill="#3a3a3a" style="font-size:7.4px;">10<tspan font-size="4.9px" dy="-2.7">4</tspan></text>
<text x="660.20" y="248.80" text-anchor="start" fill="#3a3a3a" style="font-size:7.4px;">10<tspan font-size="4.9px" dy="-2.7">3</tspan></text>
<text x="660.20" y="295.40" text-anchor="start" fill="#3a3a3a" style="font-size:7.4px;">10<tspan font-size="4.9px" dy="-2.7">2</tspan></text>
<line x1="536.03" y1="318.00" x2="536.03" y2="316.80" stroke="#555" stroke-width="0.5"/>
<line x1="539.53" y1="318.00" x2="539.53" y2="316.80" stroke="#555" stroke-width="0.5"/>
<line x1="542.39" y1="318.00" x2="542.39" y2="316.80" stroke="#555" stroke-width="0.5"/>
<line x1="544.81" y1="318.00" x2="544.81" y2="316.80" stroke="#555" stroke-width="0.5"/>
<line x1="546.90" y1="318.00" x2="546.90" y2="316.80" stroke="#555" stroke-width="0.5"/>
<line x1="548.75" y1="318.00" x2="548.75" y2="316.80" stroke="#555" stroke-width="0.5"/>
<line x1="550.40" y1="318.00" x2="550.40" y2="315.80" stroke="#555" stroke-width="0.5"/>
<line x1="561.27" y1="318.00" x2="561.27" y2="316.80" stroke="#555" stroke-width="0.5"/>
<line x1="567.62" y1="318.00" x2="567.62" y2="316.80" stroke="#555" stroke-width="0.5"/>
<line x1="572.13" y1="318.00" x2="572.13" y2="316.80" stroke="#555" stroke-width="0.5"/>
<line x1="575.63" y1="318.00" x2="575.63" y2="316.80" stroke="#555" stroke-width="0.5"/>
<line x1="578.49" y1="318.00" x2="578.49" y2="316.80" stroke="#555" stroke-width="0.5"/>
<line x1="580.91" y1="318.00" x2="580.91" y2="316.80" stroke="#555" stroke-width="0.5"/>
<line x1="583.00" y1="318.00" x2="583.00" y2="316.80" stroke="#555" stroke-width="0.5"/>
<line x1="584.85" y1="318.00" x2="584.85" y2="316.80" stroke="#555" stroke-width="0.5"/>
<line x1="586.50" y1="318.00" x2="586.50" y2="315.80" stroke="#555" stroke-width="0.5"/>
<text x="550.70" y="329.40" text-anchor="middle" fill="#3a3a3a" style="font-size:7.4px;">10<tspan font-size="4.9px" dy="-2.7">2</tspan></text>
<text x="586.80" y="329.40" text-anchor="middle" fill="#3a3a3a" style="font-size:7.4px;">10<tspan font-size="4.9px" dy="-2.7">3</tspan></text>
<line x1="597.93" y1="318.00" x2="597.93" y2="316.80" stroke="#555" stroke-width="0.5"/>
<line x1="601.43" y1="318.00" x2="601.43" y2="316.80" stroke="#555" stroke-width="0.5"/>
<line x1="604.29" y1="318.00" x2="604.29" y2="316.80" stroke="#555" stroke-width="0.5"/>
<line x1="606.71" y1="318.00" x2="606.71" y2="316.80" stroke="#555" stroke-width="0.5"/>
<line x1="608.80" y1="318.00" x2="608.80" y2="316.80" stroke="#555" stroke-width="0.5"/>
<line x1="610.65" y1="318.00" x2="610.65" y2="316.80" stroke="#555" stroke-width="0.5"/>
<line x1="612.30" y1="318.00" x2="612.30" y2="315.80" stroke="#555" stroke-width="0.5"/>
<line x1="623.17" y1="318.00" x2="623.17" y2="316.80" stroke="#555" stroke-width="0.5"/>
<line x1="629.52" y1="318.00" x2="629.52" y2="316.80" stroke="#555" stroke-width="0.5"/>
<line x1="634.03" y1="318.00" x2="634.03" y2="316.80" stroke="#555" stroke-width="0.5"/>
<line x1="637.53" y1="318.00" x2="637.53" y2="316.80" stroke="#555" stroke-width="0.5"/>
<line x1="640.39" y1="318.00" x2="640.39" y2="316.80" stroke="#555" stroke-width="0.5"/>
<line x1="642.81" y1="318.00" x2="642.81" y2="316.80" stroke="#555" stroke-width="0.5"/>
<line x1="644.90" y1="318.00" x2="644.90" y2="316.80" stroke="#555" stroke-width="0.5"/>
<line x1="646.75" y1="318.00" x2="646.75" y2="316.80" stroke="#555" stroke-width="0.5"/>
<line x1="648.40" y1="318.00" x2="648.40" y2="315.80" stroke="#555" stroke-width="0.5"/>
<text x="612.60" y="329.40" text-anchor="middle" fill="#3a3a3a" style="font-size:7.4px;">10<tspan font-size="4.9px" dy="-2.7">2</tspan></text>
<text x="648.70" y="329.40" text-anchor="middle" fill="#3a3a3a" style="font-size:7.4px;">10<tspan font-size="4.9px" dy="-2.7">3</tspan></text>
<text x="564.45" y="344.6" text-anchor="middle" fill="#3a3a3a" style="font-size:8.7px;"><tspan font-style="italic">f</tspan><tspan font-size="6.7px" dy="2.0">fire</tspan><tspan dy="-2.0"> (Hz)</tspan></text>
<text x="625.70" y="344.6" text-anchor="middle" fill="#3a3a3a" style="font-size:8.7px;"><tspan font-style="italic">f</tspan><tspan font-size="6.7px" dy="2.0">fire</tspan><tspan dy="-2.0"> (Hz)</tspan></text>
<text x="677.50" y="258.10" text-anchor="middle" fill="#3a3a3a" style="font-size:8.9px;" transform="rotate(90 677.50 258.10)">Energy consumption (pJ per spike)</text>
<line x1="535.30" y1="292.8" x2="593.60" y2="292.8" stroke="#333" stroke-width="0.6" stroke-dasharray="1.2,1.8"/>
<line x1="597.00" y1="292.8" x2="654.40" y2="292.8" stroke="#333" stroke-width="0.6" stroke-dasharray="1.2,1.8"/>
<text x="577.50" y="283.00" text-anchor="middle" fill="#3a3a3a" style="font-size:6.4px;">Biological</text>
<text x="577.50" y="290.00" text-anchor="middle" fill="#3a3a3a" style="font-size:6.4px;">neuron</text>
<line x1="566.8" y1="289.1" x2="563.0" y2="291.7" stroke="#333" stroke-width="0.5"/>
<polygon points="562.2,292.3 563.3,290.4 564.2,291.8" fill="#333"/>
<polyline points="539.50,249.40 544.70,261.10 549.20,276.20 551.20,282.60 552.60,285.40 553.70,289.90" fill="none" stroke="#6cbf45" stroke-width="0.6" stroke-linejoin="round"/>
<polygon points="539.50,247.60 541.30,250.84 537.70,250.84" fill="#6cbf45"/>
<polygon points="544.70,259.30 546.50,262.54 542.90,262.54" fill="#6cbf45"/>
<polygon points="549.20,274.40 551.00,277.64 547.40,277.64" fill="#6cbf45"/>
<polygon points="551.20,280.80 553.00,284.04 549.40,284.04" fill="#6cbf45"/>
<polygon points="552.60,283.60 554.40,286.84 550.80,286.84" fill="#6cbf45"/>
<polygon points="553.70,288.10 555.50,291.34 551.90,291.34" fill="#6cbf45"/>
<polyline points="548.30,241.90 551.60,251.50 555.00,259.80 556.50,266.20 557.80,271.70 558.80,275.60" fill="none" stroke="#f58231" stroke-width="0.6" stroke-linejoin="round"/>
<rect x="546.95" y="240.55" width="2.70" height="2.70" fill="#f58231"/>
<rect x="550.25" y="250.15" width="2.70" height="2.70" fill="#f58231"/>
<rect x="553.65" y="258.45" width="2.70" height="2.70" fill="#f58231"/>
<rect x="555.15" y="264.85" width="2.70" height="2.70" fill="#f58231"/>
<rect x="556.45" y="270.35" width="2.70" height="2.70" fill="#f58231"/>
<rect x="557.45" y="274.25" width="2.70" height="2.70" fill="#f58231"/>
<polyline points="550.80,221.10 553.40,228.80 556.50,237.70 559.60,243.70 562.50,251.30 563.40,257.60 564.70,260.60 566.50,263.60 567.40,265.80 568.30,268.40" fill="none" stroke="#2f8fd8" stroke-width="0.6" stroke-linejoin="round"/>
<circle cx="550.80" cy="221.10" r="1.55" fill="#2f8fd8"/>
<circle cx="553.40" cy="228.80" r="1.55" fill="#2f8fd8"/>
<circle cx="556.50" cy="237.70" r="1.55" fill="#2f8fd8"/>
<circle cx="559.60" cy="243.70" r="1.55" fill="#2f8fd8"/>
<circle cx="562.50" cy="251.30" r="1.55" fill="#2f8fd8"/>
<circle cx="563.40" cy="257.60" r="1.55" fill="#2f8fd8"/>
<circle cx="564.70" cy="260.60" r="1.55" fill="#2f8fd8"/>
<circle cx="566.50" cy="263.60" r="1.55" fill="#2f8fd8"/>
<circle cx="567.40" cy="265.80" r="1.55" fill="#2f8fd8"/>
<circle cx="568.30" cy="268.40" r="1.55" fill="#2f8fd8"/>
<polyline points="567.30,231.60 567.60,235.00 569.10,240.30 570.60,246.80 572.20,251.80 573.40,256.40 572.80,261.50 574.50,262.90 575.20,263.60 573.90,264.80" fill="none" stroke="#e8262c" stroke-width="0.6" stroke-linejoin="round"/>
<circle cx="567.30" cy="231.60" r="1.65" fill="#e8262c"/>
<circle cx="567.60" cy="235.00" r="1.65" fill="#e8262c"/>
<circle cx="569.10" cy="240.30" r="1.65" fill="#e8262c"/>
<circle cx="570.60" cy="246.80" r="1.65" fill="#e8262c"/>
<circle cx="572.20" cy="251.80" r="1.65" fill="#e8262c"/>
<circle cx="573.40" cy="256.40" r="1.65" fill="#e8262c"/>
<circle cx="572.80" cy="261.50" r="1.65" fill="#e8262c"/>
<circle cx="574.50" cy="262.90" r="1.65" fill="#e8262c"/>
<circle cx="575.20" cy="263.60" r="1.65" fill="#e8262c"/>
<circle cx="573.90" cy="264.80" r="1.65" fill="#e8262c"/>
<polyline points="611.20,296.30 614.20,300.10 616.20,308.40 617.50,312.90 618.90,311.70" fill="none" stroke="#a457b8" stroke-width="0.6" stroke-linejoin="round"/>
<polygon points="611.20,294.50 612.64,296.30 611.20,298.10 609.76,296.30" fill="#a457b8"/>
<polygon points="614.20,298.30 615.64,300.10 614.20,301.90 612.76,300.10" fill="#a457b8"/>
<polygon points="616.20,306.60 617.64,308.40 616.20,310.20 614.76,308.40" fill="#a457b8"/>
<polygon points="617.50,311.10 618.94,312.90 617.50,314.70 616.06,312.90" fill="#a457b8"/>
<polygon points="618.90,309.90 620.34,311.70 618.90,313.50 617.46,311.70" fill="#a457b8"/>
<polyline points="618.10,269.30 620.90,280.10 623.80,291.80 624.50,294.20 626.70,299.80 628.70,306.20 630.20,309.30 631.40,310.30" fill="none" stroke="#6cbf45" stroke-width="0.6" stroke-linejoin="round"/>
<polygon points="618.10,267.50 619.90,270.74 616.30,270.74" fill="#6cbf45"/>
<polygon points="620.90,278.30 622.70,281.54 619.10,281.54" fill="#6cbf45"/>
<polygon points="623.80,290.00 625.60,293.24 622.00,293.24" fill="#6cbf45"/>
<polygon points="624.50,292.40 626.30,295.64 622.70,295.64" fill="#6cbf45"/>
<polygon points="626.70,298.00 628.50,301.24 624.90,301.24" fill="#6cbf45"/>
<polygon points="628.70,304.40 630.50,307.64 626.90,307.64" fill="#6cbf45"/>
<polygon points="630.20,307.50 632.00,310.74 628.40,310.74" fill="#6cbf45"/>
<polygon points="631.40,308.50 633.20,311.74 629.60,311.74" fill="#6cbf45"/>
<polyline points="624.50,255.80 626.40,265.90 629.70,276.60 632.20,284.40 634.20,291.20 636.10,297.20 637.60,299.50 638.50,302.30" fill="none" stroke="#f58231" stroke-width="0.6" stroke-linejoin="round"/>
<rect x="623.15" y="254.45" width="2.70" height="2.70" fill="#f58231"/>
<rect x="625.05" y="264.55" width="2.70" height="2.70" fill="#f58231"/>
<rect x="628.35" y="275.25" width="2.70" height="2.70" fill="#f58231"/>
<rect x="630.85" y="283.05" width="2.70" height="2.70" fill="#f58231"/>
<rect x="632.85" y="289.85" width="2.70" height="2.70" fill="#f58231"/>
<rect x="634.75" y="295.85" width="2.70" height="2.70" fill="#f58231"/>
<rect x="636.25" y="298.15" width="2.70" height="2.70" fill="#f58231"/>
<rect x="637.15" y="300.95" width="2.70" height="2.70" fill="#f58231"/>
<polyline points="630.00,244.90 630.70,253.20 633.40,262.50 636.10,270.70 638.50,277.70 641.00,283.40 642.60,289.30 643.90,291.30 644.60,295.00 645.10,297.40" fill="none" stroke="#2f8fd8" stroke-width="0.6" stroke-linejoin="round"/>
<circle cx="630.00" cy="244.90" r="1.55" fill="#2f8fd8"/>
<circle cx="630.70" cy="253.20" r="1.55" fill="#2f8fd8"/>
<circle cx="633.40" cy="262.50" r="1.55" fill="#2f8fd8"/>
<circle cx="636.10" cy="270.70" r="1.55" fill="#2f8fd8"/>
<circle cx="638.50" cy="277.70" r="1.55" fill="#2f8fd8"/>
<circle cx="641.00" cy="283.40" r="1.55" fill="#2f8fd8"/>
<circle cx="642.60" cy="289.30" r="1.55" fill="#2f8fd8"/>
<circle cx="643.90" cy="291.30" r="1.55" fill="#2f8fd8"/>
<circle cx="644.60" cy="295.00" r="1.55" fill="#2f8fd8"/>
<circle cx="645.10" cy="297.40" r="1.55" fill="#2f8fd8"/>
<polyline points="626.10,217.80 628.00,222.40 634.10,238.90 634.90,245.00 637.20,251.80 640.00,258.80 642.40,266.80 644.50,271.70 646.90,279.10 648.20,278.50 648.80,282.00 649.40,290.40" fill="none" stroke="#e8262c" stroke-width="0.6" stroke-linejoin="round"/>
<circle cx="626.10" cy="217.80" r="1.65" fill="#e8262c"/>
<circle cx="628.00" cy="222.40" r="1.65" fill="#e8262c"/>
<circle cx="634.10" cy="238.90" r="1.65" fill="#e8262c"/>
<circle cx="634.90" cy="245.00" r="1.65" fill="#e8262c"/>
<circle cx="637.20" cy="251.80" r="1.65" fill="#e8262c"/>
<circle cx="640.00" cy="258.80" r="1.65" fill="#e8262c"/>
<circle cx="642.40" cy="266.80" r="1.65" fill="#e8262c"/>
<circle cx="644.50" cy="271.70" r="1.65" fill="#e8262c"/>
<circle cx="646.90" cy="279.10" r="1.65" fill="#e8262c"/>
<circle cx="648.20" cy="278.50" r="1.65" fill="#e8262c"/>
<circle cx="648.80" cy="282.00" r="1.65" fill="#e8262c"/>
<circle cx="649.40" cy="290.40" r="1.65" fill="#e8262c"/>
<text x="580.90" y="206.90" text-anchor="start" fill="#3a3a3a" style="font-size:8.0px;"><tspan font-style="italic">V</tspan><tspan font-size="4.3px" dy="2.3">DD</tspan></text>
<line x1="570.80" y1="212.90" x2="579.80" y2="212.90" stroke="#6cbf45" stroke-width="0.6"/>
<polygon points="575.30,211.10 577.10,214.34 573.50,214.34" fill="#6cbf45"/>
<text x="582.20" y="215.50" text-anchor="start" fill="#3a3a3a" style="font-size:7.4px;">0.3</text>
<line x1="570.80" y1="220.30" x2="579.80" y2="220.30" stroke="#f58231" stroke-width="0.6"/>
<rect x="573.95" y="218.95" width="2.70" height="2.70" fill="#f58231"/>
<text x="582.20" y="222.90" text-anchor="start" fill="#3a3a3a" style="font-size:7.4px;">0.4</text>
<line x1="570.80" y1="227.60" x2="579.80" y2="227.60" stroke="#2f8fd8" stroke-width="0.6"/>
<circle cx="575.30" cy="227.60" r="1.55" fill="#2f8fd8"/>
<text x="582.20" y="230.20" text-anchor="start" fill="#3a3a3a" style="font-size:7.4px;">0.5</text>
<line x1="570.80" y1="235.00" x2="579.80" y2="235.00" stroke="#e8262c" stroke-width="0.6"/>
<circle cx="575.30" cy="235.00" r="1.65" fill="#e8262c"/>
<text x="582.20" y="237.60" text-anchor="start" fill="#3a3a3a" style="font-size:7.4px;">0.6</text>
<text x="607.60" y="207.40" text-anchor="start" fill="#3a3a3a" style="font-size:8.0px;"><tspan font-style="italic">V</tspan><tspan font-size="4.3px" dy="2.3">DD</tspan></text>
<line x1="597.90" y1="214.00" x2="606.70" y2="214.00" stroke="#a457b8" stroke-width="0.6"/>
<polygon points="602.30,212.20 603.74,214.00 602.30,215.80 600.86,214.00" fill="#a457b8"/>
<text x="610.00" y="216.60" text-anchor="start" fill="#3a3a3a" style="font-size:7.4px;">0.2</text>
<line x1="597.90" y1="221.20" x2="606.70" y2="221.20" stroke="#6cbf45" stroke-width="0.6"/>
<polygon points="602.30,219.40 604.10,222.64 600.50,222.64" fill="#6cbf45"/>
<text x="610.00" y="223.80" text-anchor="start" fill="#3a3a3a" style="font-size:7.4px;">0.3</text>
<line x1="597.90" y1="228.40" x2="606.70" y2="228.40" stroke="#f58231" stroke-width="0.6"/>
<rect x="600.95" y="227.05" width="2.70" height="2.70" fill="#f58231"/>
<text x="610.00" y="231.00" text-anchor="start" fill="#3a3a3a" style="font-size:7.4px;">0.4</text>
<line x1="597.90" y1="235.70" x2="606.70" y2="235.70" stroke="#2f8fd8" stroke-width="0.6"/>
<circle cx="602.30" cy="235.70" r="1.55" fill="#2f8fd8"/>
<text x="610.00" y="238.30" text-anchor="start" fill="#3a3a3a" style="font-size:7.4px;">0.5</text>
<line x1="597.90" y1="242.90" x2="606.70" y2="242.90" stroke="#e8262c" stroke-width="0.6"/>
<circle cx="602.30" cy="242.90" r="1.65" fill="#e8262c"/>
<text x="610.00" y="245.50" text-anchor="start" fill="#3a3a3a" style="font-size:7.4px;">0.6</text>
<text x="538.10" y="206.80" text-anchor="start" fill="#3a3a3a" style="font-size:7.4px;" textLength="12.5" lengthAdjust="spacingAndGlyphs">BBL</text>
<text x="625.70" y="206.50" text-anchor="start" fill="#3a3a3a" style="font-size:7.4px;" textLength="27.2" lengthAdjust="spacingAndGlyphs">FBDPPV</text>
<text x="634.90" y="213.60" text-anchor="start" fill="#3a3a3a" style="font-size:7.4px;" textLength="17.4" lengthAdjust="spacingAndGlyphs">-OEG</text>
</svg>
</body></html>
